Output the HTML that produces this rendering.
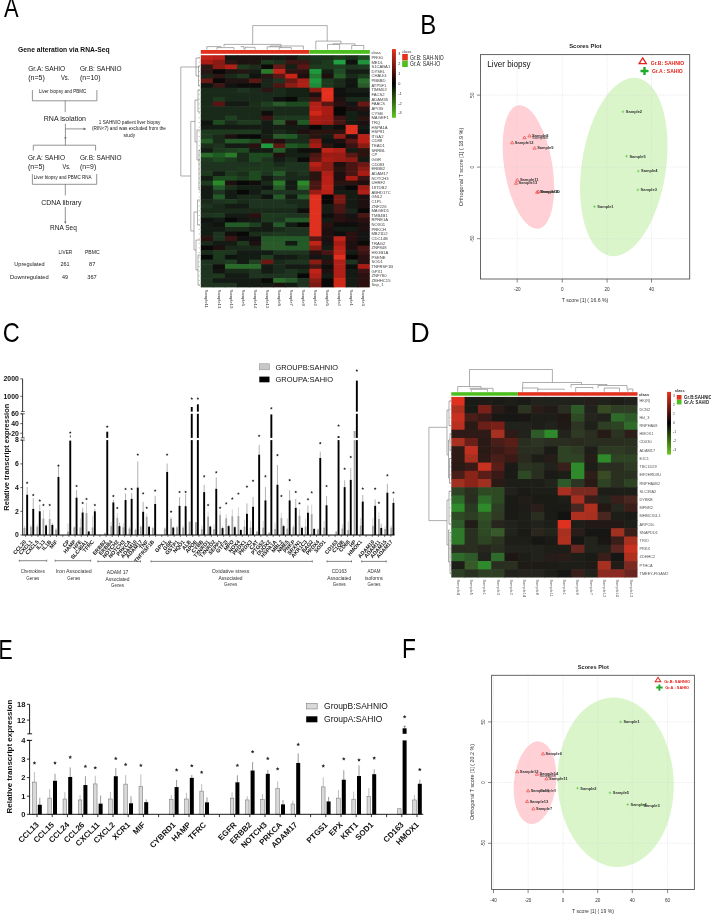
<!DOCTYPE html>
<html><head><meta charset="utf-8"><title>Figure</title>
<style>
html,body{margin:0;padding:0;background:#fff;}
body{width:711px;height:914px;overflow:hidden;}
svg{display:block;font-family:"Liberation Sans", sans-serif;will-change:transform;}
</style></head><body>
<svg width="711" height="914" viewBox="0 0 711 914">
<rect x="0" y="0" width="711" height="914" fill="#fff"/>
<text x="3.90" y="16.90" font-size="28" textLength="14.6" lengthAdjust="spacingAndGlyphs" fill="#000">A</text>
<text x="420.20" y="33.60" font-size="28" textLength="16.0" lengthAdjust="spacingAndGlyphs" fill="#000">B</text>
<text x="2.80" y="341.70" font-size="28" textLength="17.0" lengthAdjust="spacingAndGlyphs" fill="#000">C</text>
<text x="410.60" y="342.40" font-size="28" textLength="19.2" lengthAdjust="spacingAndGlyphs" fill="#000">D</text>
<text x="-1.60" y="658.70" font-size="28" textLength="14.2" lengthAdjust="spacingAndGlyphs" fill="#000">E</text>
<text x="402.00" y="658.10" font-size="28" textLength="13.9" lengthAdjust="spacingAndGlyphs" fill="#000">F</text>
<text x="18.10" y="51.50" font-size="7.3" font-weight="bold" textLength="91.5" lengthAdjust="spacingAndGlyphs" fill="#111">Gene alteration via RNA-Seq</text>
<text x="28.20" y="70.90" font-size="7.7" textLength="37" lengthAdjust="spacingAndGlyphs" fill="#161616">Gr.A: SAHIO</text>
<text x="28.20" y="79.80" font-size="7.7" textLength="16.7" lengthAdjust="spacingAndGlyphs" fill="#161616">(n=5)</text>
<text x="61.00" y="79.50" font-size="7.0" textLength="8.4" lengthAdjust="spacingAndGlyphs" fill="#161616">Vs.</text>
<text x="80.00" y="70.90" font-size="7.7" textLength="41.7" lengthAdjust="spacingAndGlyphs" fill="#161616">Gr.B: SAHNIO</text>
<text x="80.00" y="79.80" font-size="7.7" textLength="20.6" lengthAdjust="spacingAndGlyphs" fill="#161616">(n=10)</text>
<text x="39.00" y="92.60" font-size="5.0" textLength="47.3" lengthAdjust="spacingAndGlyphs" fill="#161616">Liver biopsy and PBMC</text>
<polyline points="32.40,90.00 32.40,100.80 96.90,100.80 96.90,90.00" fill="none" stroke="#666" stroke-width="0.7"/>
<line x1="65.20" y1="100.80" x2="65.20" y2="112.20" stroke="#666" stroke-width="0.7"/>
<text x="43.80" y="120.80" font-size="7.3" textLength="42.2" lengthAdjust="spacingAndGlyphs" fill="#161616">RNA isolation</text>
<line x1="65.40" y1="123.60" x2="65.40" y2="145.20" stroke="#666" stroke-width="0.7"/>
<line x1="65.40" y1="128.90" x2="85.00" y2="128.90" stroke="#666" stroke-width="0.7"/>
<path d="M83.6,127.6 L86.4,128.9 L83.6,130.2 Z" fill="#666"/>
<path d="M64.3,137.2 L65.4,139.8 L66.5,137.2 Z" fill="#666"/>
<text x="98.80" y="123.80" font-size="4.9" textLength="61.6" lengthAdjust="spacingAndGlyphs" fill="#161616">1 SAHNIO patient liver biopsy</text>
<text x="92.00" y="130.30" font-size="4.9" textLength="74" lengthAdjust="spacingAndGlyphs" fill="#161616">(RIN&lt;7) and was excluded from the</text>
<text x="123.60" y="137.00" font-size="4.9" textLength="11.5" lengthAdjust="spacingAndGlyphs" fill="#161616">study</text>
<polyline points="33.30,150.60 33.30,145.20 95.60,145.20 95.60,150.60" fill="none" stroke="#666" stroke-width="0.7"/>
<text x="28.00" y="160.30" font-size="7.7" textLength="37" lengthAdjust="spacingAndGlyphs" fill="#161616">Gr.A: SAHIO</text>
<text x="80.00" y="160.30" font-size="7.7" textLength="41.5" lengthAdjust="spacingAndGlyphs" fill="#161616">Gr.B: SAHNIO</text>
<text x="28.00" y="169.40" font-size="7.7" textLength="16.7" lengthAdjust="spacingAndGlyphs" fill="#161616">(n=5)</text>
<text x="62.50" y="169.00" font-size="7.0" textLength="8.0" lengthAdjust="spacingAndGlyphs" fill="#161616">Vs.</text>
<text x="80.00" y="169.40" font-size="7.7" textLength="16.2" lengthAdjust="spacingAndGlyphs" fill="#161616">(n=9)</text>
<polyline points="32.40,174.00 32.40,184.30 96.70,184.30 96.70,174.00" fill="none" stroke="#666" stroke-width="0.7"/>
<text x="33.80" y="179.30" font-size="5.0" textLength="57.7" lengthAdjust="spacingAndGlyphs" fill="#161616">Liver biopsy and PBMC RNA</text>
<line x1="65.30" y1="184.30" x2="65.30" y2="195.30" stroke="#666" stroke-width="0.7"/>
<text x="41.30" y="204.60" font-size="7.3" textLength="40.1" lengthAdjust="spacingAndGlyphs" fill="#161616">CDNA library</text>
<line x1="65.30" y1="207.00" x2="65.30" y2="223.00" stroke="#666" stroke-width="0.7"/>
<path d="M64.3,221.4 L65.3,224.0 L66.3,221.4 Z" fill="#666"/>
<text x="50.10" y="230.30" font-size="7.3" textLength="26.7" lengthAdjust="spacingAndGlyphs" fill="#161616">RNA Seq</text>
<text x="58.60" y="253.50" font-size="6.2" textLength="13.6" lengthAdjust="spacingAndGlyphs" fill="#161616">LIVER</text>
<text x="84.90" y="253.50" font-size="6.2" textLength="14.7" lengthAdjust="spacingAndGlyphs" fill="#161616">PBMC</text>
<text x="14.30" y="265.90" font-size="6.2" textLength="30.4" lengthAdjust="spacingAndGlyphs" fill="#161616">Upregulated</text>
<text x="60.40" y="265.90" font-size="6.2" textLength="9.1" lengthAdjust="spacingAndGlyphs" fill="#161616">261</text>
<text x="89.00" y="265.90" font-size="6.2" textLength="6.4" lengthAdjust="spacingAndGlyphs" fill="#161616">87</text>
<text x="10.10" y="278.50" font-size="6.2" textLength="38.5" lengthAdjust="spacingAndGlyphs" fill="#161616">Downregulated</text>
<text x="62.00" y="278.50" font-size="6.2" textLength="6.0" lengthAdjust="spacingAndGlyphs" fill="#161616">49</text>
<text x="87.30" y="278.50" font-size="6.2" textLength="9.4" lengthAdjust="spacingAndGlyphs" fill="#161616">367</text>
<rect x="200.80" y="55.20" width="12.67" height="5.24" fill="#c02418"/>
<rect x="212.87" y="55.20" width="12.67" height="5.24" fill="#b82018"/>
<rect x="224.94" y="55.20" width="12.67" height="5.24" fill="#141612"/>
<rect x="237.01" y="55.20" width="12.67" height="5.24" fill="#1c1210"/>
<rect x="249.08" y="55.20" width="12.67" height="5.24" fill="#1c1210"/>
<rect x="261.15" y="55.20" width="12.67" height="5.24" fill="#1c1412"/>
<rect x="273.22" y="55.20" width="12.67" height="5.24" fill="#141a14"/>
<rect x="285.29" y="55.20" width="12.67" height="5.24" fill="#1a1210"/>
<rect x="297.36" y="55.20" width="12.67" height="5.24" fill="#1a2a1a"/>
<rect x="309.43" y="55.20" width="12.67" height="5.24" fill="#1a3020"/>
<rect x="321.50" y="55.20" width="12.67" height="5.24" fill="#1a2e1a"/>
<rect x="333.57" y="55.20" width="12.67" height="5.24" fill="#1e3a1e"/>
<rect x="345.64" y="55.20" width="12.67" height="5.24" fill="#1a2e1a"/>
<rect x="357.71" y="55.20" width="12.07" height="5.24" fill="#1e4a24"/>
<rect x="200.80" y="59.84" width="12.67" height="5.24" fill="#a81c14"/>
<rect x="212.87" y="59.84" width="12.67" height="5.24" fill="#8a1a14"/>
<rect x="224.94" y="59.84" width="12.67" height="5.24" fill="#2a1614"/>
<rect x="237.01" y="59.84" width="12.67" height="5.24" fill="#1e1210"/>
<rect x="249.08" y="59.84" width="12.67" height="5.24" fill="#1e1410"/>
<rect x="261.15" y="59.84" width="12.67" height="5.24" fill="#1e3a1e"/>
<rect x="273.22" y="59.84" width="12.67" height="5.24" fill="#1e2e1e"/>
<rect x="285.29" y="59.84" width="12.67" height="5.24" fill="#3a1614"/>
<rect x="297.36" y="59.84" width="12.67" height="5.24" fill="#3a1614"/>
<rect x="309.43" y="59.84" width="12.67" height="5.24" fill="#1a2e1a"/>
<rect x="321.50" y="59.84" width="12.67" height="5.24" fill="#1e3a1e"/>
<rect x="333.57" y="59.84" width="12.67" height="5.24" fill="#20a040"/>
<rect x="345.64" y="59.84" width="12.67" height="5.24" fill="#101210"/>
<rect x="357.71" y="59.84" width="12.07" height="5.24" fill="#20903a"/>
<rect x="200.80" y="64.49" width="12.67" height="5.24" fill="#2e1814"/>
<rect x="212.87" y="64.49" width="12.67" height="5.24" fill="#8a1c14"/>
<rect x="224.94" y="64.49" width="12.67" height="5.24" fill="#b02018"/>
<rect x="237.01" y="64.49" width="12.67" height="5.24" fill="#1e3a1e"/>
<rect x="249.08" y="64.49" width="12.67" height="5.24" fill="#1e2a1a"/>
<rect x="261.15" y="64.49" width="12.67" height="5.24" fill="#0a0a08"/>
<rect x="273.22" y="64.49" width="12.67" height="5.24" fill="#6a1a14"/>
<rect x="285.29" y="64.49" width="12.67" height="5.24" fill="#142014"/>
<rect x="297.36" y="64.49" width="12.67" height="5.24" fill="#5a1614"/>
<rect x="309.43" y="64.49" width="12.67" height="5.24" fill="#1e3a1e"/>
<rect x="321.50" y="64.49" width="12.67" height="5.24" fill="#1e3a1e"/>
<rect x="333.57" y="64.49" width="12.67" height="5.24" fill="#1e4020"/>
<rect x="345.64" y="64.49" width="12.67" height="5.24" fill="#1e3420"/>
<rect x="357.71" y="64.49" width="12.07" height="5.24" fill="#1e3a1e"/>
<rect x="200.80" y="69.13" width="12.67" height="5.24" fill="#2a1614"/>
<rect x="212.87" y="69.13" width="12.67" height="5.24" fill="#0a0808"/>
<rect x="224.94" y="69.13" width="12.67" height="5.24" fill="#1e1412"/>
<rect x="237.01" y="69.13" width="12.67" height="5.24" fill="#241614"/>
<rect x="249.08" y="69.13" width="12.67" height="5.24" fill="#141c14"/>
<rect x="261.15" y="69.13" width="12.67" height="5.24" fill="#2a7a2a"/>
<rect x="273.22" y="69.13" width="12.67" height="5.24" fill="#c02418"/>
<rect x="285.29" y="69.13" width="12.67" height="5.24" fill="#2e1412"/>
<rect x="297.36" y="69.13" width="12.67" height="5.24" fill="#2a1412"/>
<rect x="309.43" y="69.13" width="12.67" height="5.24" fill="#1e9a3e"/>
<rect x="321.50" y="69.13" width="12.67" height="5.24" fill="#141e14"/>
<rect x="333.57" y="69.13" width="12.67" height="5.24" fill="#1e4a24"/>
<rect x="345.64" y="69.13" width="12.67" height="5.24" fill="#141c14"/>
<rect x="357.71" y="69.13" width="12.07" height="5.24" fill="#141c14"/>
<rect x="200.80" y="73.78" width="12.67" height="5.24" fill="#1a261a"/>
<rect x="212.87" y="73.78" width="12.67" height="5.24" fill="#2e1614"/>
<rect x="224.94" y="73.78" width="12.67" height="5.24" fill="#1a2a1a"/>
<rect x="237.01" y="73.78" width="12.67" height="5.24" fill="#1e3a1e"/>
<rect x="249.08" y="73.78" width="12.67" height="5.24" fill="#101410"/>
<rect x="261.15" y="73.78" width="12.67" height="5.24" fill="#281614"/>
<rect x="273.22" y="73.78" width="12.67" height="5.24" fill="#5a1814"/>
<rect x="285.29" y="73.78" width="12.67" height="5.24" fill="#c82418"/>
<rect x="297.36" y="73.78" width="12.67" height="5.24" fill="#1e1010"/>
<rect x="309.43" y="73.78" width="12.67" height="5.24" fill="#247a30"/>
<rect x="321.50" y="73.78" width="12.67" height="5.24" fill="#1e0e0e"/>
<rect x="333.57" y="73.78" width="12.67" height="5.24" fill="#245a28"/>
<rect x="345.64" y="73.78" width="12.67" height="5.24" fill="#1a2a1a"/>
<rect x="357.71" y="73.78" width="12.07" height="5.24" fill="#1e3a1e"/>
<rect x="200.80" y="78.42" width="12.67" height="5.24" fill="#6a1a14"/>
<rect x="212.87" y="78.42" width="12.67" height="5.24" fill="#0a0808"/>
<rect x="224.94" y="78.42" width="12.67" height="5.24" fill="#221412"/>
<rect x="237.01" y="78.42" width="12.67" height="5.24" fill="#221412"/>
<rect x="249.08" y="78.42" width="12.67" height="5.24" fill="#5a1814"/>
<rect x="261.15" y="78.42" width="12.67" height="5.24" fill="#1a241a"/>
<rect x="273.22" y="78.42" width="12.67" height="5.24" fill="#1e3420"/>
<rect x="285.29" y="78.42" width="12.67" height="5.24" fill="#6a1814"/>
<rect x="297.36" y="78.42" width="12.67" height="5.24" fill="#a82018"/>
<rect x="309.43" y="78.42" width="12.67" height="5.24" fill="#1e9a3e"/>
<rect x="321.50" y="78.42" width="12.67" height="5.24" fill="#1e3a1e"/>
<rect x="333.57" y="78.42" width="12.67" height="5.24" fill="#1a2a1a"/>
<rect x="345.64" y="78.42" width="12.67" height="5.24" fill="#121612"/>
<rect x="357.71" y="78.42" width="12.07" height="5.24" fill="#2a6a2a"/>
<rect x="200.80" y="83.06" width="12.67" height="5.24" fill="#101410"/>
<rect x="212.87" y="83.06" width="12.67" height="5.24" fill="#3a1614"/>
<rect x="224.94" y="83.06" width="12.67" height="5.24" fill="#121210"/>
<rect x="237.01" y="83.06" width="12.67" height="5.24" fill="#0e0c0a"/>
<rect x="249.08" y="83.06" width="12.67" height="5.24" fill="#0e0c0a"/>
<rect x="261.15" y="83.06" width="12.67" height="5.24" fill="#1a261a"/>
<rect x="273.22" y="83.06" width="12.67" height="5.24" fill="#4a1614"/>
<rect x="285.29" y="83.06" width="12.67" height="5.24" fill="#8a1c14"/>
<rect x="297.36" y="83.06" width="12.67" height="5.24" fill="#b02018"/>
<rect x="309.43" y="83.06" width="12.67" height="5.24" fill="#1e8a3a"/>
<rect x="321.50" y="83.06" width="12.67" height="5.24" fill="#1e3a1e"/>
<rect x="333.57" y="83.06" width="12.67" height="5.24" fill="#1a2a1a"/>
<rect x="345.64" y="83.06" width="12.67" height="5.24" fill="#101410"/>
<rect x="357.71" y="83.06" width="12.07" height="5.24" fill="#2a5a2a"/>
<rect x="200.80" y="87.71" width="12.67" height="5.24" fill="#1a2a1a"/>
<rect x="212.87" y="87.71" width="12.67" height="5.24" fill="#1a2a1a"/>
<rect x="224.94" y="87.71" width="12.67" height="5.24" fill="#1a2a1a"/>
<rect x="237.01" y="87.71" width="12.67" height="5.24" fill="#1e3420"/>
<rect x="249.08" y="87.71" width="12.67" height="5.24" fill="#1a2a1a"/>
<rect x="261.15" y="87.71" width="12.67" height="5.24" fill="#2a1614"/>
<rect x="273.22" y="87.71" width="12.67" height="5.24" fill="#1a2a1a"/>
<rect x="285.29" y="87.71" width="12.67" height="5.24" fill="#142014"/>
<rect x="297.36" y="87.71" width="12.67" height="5.24" fill="#142014"/>
<rect x="309.43" y="87.71" width="12.67" height="5.24" fill="#8a1c14"/>
<rect x="321.50" y="87.71" width="12.67" height="5.24" fill="#e03020"/>
<rect x="333.57" y="87.71" width="12.67" height="5.24" fill="#101010"/>
<rect x="345.64" y="87.71" width="12.67" height="5.24" fill="#141c14"/>
<rect x="357.71" y="87.71" width="12.07" height="5.24" fill="#141c14"/>
<rect x="200.80" y="92.35" width="12.67" height="5.24" fill="#1a2a1a"/>
<rect x="212.87" y="92.35" width="12.67" height="5.24" fill="#1a2a1a"/>
<rect x="224.94" y="92.35" width="12.67" height="5.24" fill="#1a2a1a"/>
<rect x="237.01" y="92.35" width="12.67" height="5.24" fill="#1a2a1a"/>
<rect x="249.08" y="92.35" width="12.67" height="5.24" fill="#1a2a1a"/>
<rect x="261.15" y="92.35" width="12.67" height="5.24" fill="#1a2a1a"/>
<rect x="273.22" y="92.35" width="12.67" height="5.24" fill="#1a2a1a"/>
<rect x="285.29" y="92.35" width="12.67" height="5.24" fill="#142014"/>
<rect x="297.36" y="92.35" width="12.67" height="5.24" fill="#142014"/>
<rect x="309.43" y="92.35" width="12.67" height="5.24" fill="#1e1010"/>
<rect x="321.50" y="92.35" width="12.67" height="5.24" fill="#e83020"/>
<rect x="333.57" y="92.35" width="12.67" height="5.24" fill="#101010"/>
<rect x="345.64" y="92.35" width="12.67" height="5.24" fill="#101410"/>
<rect x="357.71" y="92.35" width="12.07" height="5.24" fill="#101410"/>
<rect x="200.80" y="97.00" width="12.67" height="5.24" fill="#1a2a1a"/>
<rect x="212.87" y="97.00" width="12.67" height="5.24" fill="#1e3a1e"/>
<rect x="224.94" y="97.00" width="12.67" height="5.24" fill="#1a2a1a"/>
<rect x="237.01" y="97.00" width="12.67" height="5.24" fill="#1a2a1a"/>
<rect x="249.08" y="97.00" width="12.67" height="5.24" fill="#1a2a1a"/>
<rect x="261.15" y="97.00" width="12.67" height="5.24" fill="#1a2a1a"/>
<rect x="273.22" y="97.00" width="12.67" height="5.24" fill="#101010"/>
<rect x="285.29" y="97.00" width="12.67" height="5.24" fill="#080808"/>
<rect x="297.36" y="97.00" width="12.67" height="5.24" fill="#1a2a1a"/>
<rect x="309.43" y="97.00" width="12.67" height="5.24" fill="#4a1614"/>
<rect x="321.50" y="97.00" width="12.67" height="5.24" fill="#e03020"/>
<rect x="333.57" y="97.00" width="12.67" height="5.24" fill="#1e1010"/>
<rect x="345.64" y="97.00" width="12.67" height="5.24" fill="#1a2a1a"/>
<rect x="357.71" y="97.00" width="12.07" height="5.24" fill="#1a2a1a"/>
<rect x="200.80" y="101.64" width="12.67" height="5.24" fill="#1a2a1a"/>
<rect x="212.87" y="101.64" width="12.67" height="5.24" fill="#5a1414"/>
<rect x="224.94" y="101.64" width="12.67" height="5.24" fill="#141a14"/>
<rect x="237.01" y="101.64" width="12.67" height="5.24" fill="#141a14"/>
<rect x="249.08" y="101.64" width="12.67" height="5.24" fill="#1a2e1a"/>
<rect x="261.15" y="101.64" width="12.67" height="5.24" fill="#1e4020"/>
<rect x="273.22" y="101.64" width="12.67" height="5.24" fill="#2a5a2a"/>
<rect x="285.29" y="101.64" width="12.67" height="5.24" fill="#1e4a20"/>
<rect x="297.36" y="101.64" width="12.67" height="5.24" fill="#1e4a20"/>
<rect x="309.43" y="101.64" width="12.67" height="5.24" fill="#b02018"/>
<rect x="321.50" y="101.64" width="12.67" height="5.24" fill="#5a1814"/>
<rect x="333.57" y="101.64" width="12.67" height="5.24" fill="#2a1010"/>
<rect x="345.64" y="101.64" width="12.67" height="5.24" fill="#141414"/>
<rect x="357.71" y="101.64" width="12.07" height="5.24" fill="#6a1814"/>
<rect x="200.80" y="106.28" width="12.67" height="5.24" fill="#1a2a1a"/>
<rect x="212.87" y="106.28" width="12.67" height="5.24" fill="#1a2a1a"/>
<rect x="224.94" y="106.28" width="12.67" height="5.24" fill="#1a2a1a"/>
<rect x="237.01" y="106.28" width="12.67" height="5.24" fill="#1a2a1a"/>
<rect x="249.08" y="106.28" width="12.67" height="5.24" fill="#1a2a1a"/>
<rect x="261.15" y="106.28" width="12.67" height="5.24" fill="#1a2e1a"/>
<rect x="273.22" y="106.28" width="12.67" height="5.24" fill="#1a2a1a"/>
<rect x="285.29" y="106.28" width="12.67" height="5.24" fill="#1a2a1a"/>
<rect x="297.36" y="106.28" width="12.67" height="5.24" fill="#1a2a1a"/>
<rect x="309.43" y="106.28" width="12.67" height="5.24" fill="#b82018"/>
<rect x="321.50" y="106.28" width="12.67" height="5.24" fill="#a81c14"/>
<rect x="333.57" y="106.28" width="12.67" height="5.24" fill="#080808"/>
<rect x="345.64" y="106.28" width="12.67" height="5.24" fill="#1e1010"/>
<rect x="357.71" y="106.28" width="12.07" height="5.24" fill="#2a1210"/>
<rect x="200.80" y="110.93" width="12.67" height="5.24" fill="#1a2a1a"/>
<rect x="212.87" y="110.93" width="12.67" height="5.24" fill="#1a2a1a"/>
<rect x="224.94" y="110.93" width="12.67" height="5.24" fill="#1a2a1a"/>
<rect x="237.01" y="110.93" width="12.67" height="5.24" fill="#1a2a1a"/>
<rect x="249.08" y="110.93" width="12.67" height="5.24" fill="#1a2a1a"/>
<rect x="261.15" y="110.93" width="12.67" height="5.24" fill="#0e0e0c"/>
<rect x="273.22" y="110.93" width="12.67" height="5.24" fill="#1a2a1a"/>
<rect x="285.29" y="110.93" width="12.67" height="5.24" fill="#1a2a1a"/>
<rect x="297.36" y="110.93" width="12.67" height="5.24" fill="#1a2a1a"/>
<rect x="309.43" y="110.93" width="12.67" height="5.24" fill="#d02818"/>
<rect x="321.50" y="110.93" width="12.67" height="5.24" fill="#a81c14"/>
<rect x="333.57" y="110.93" width="12.67" height="5.24" fill="#080808"/>
<rect x="345.64" y="110.93" width="12.67" height="5.24" fill="#142014"/>
<rect x="357.71" y="110.93" width="12.07" height="5.24" fill="#141414"/>
<rect x="200.80" y="115.57" width="12.67" height="5.24" fill="#1a2a1a"/>
<rect x="212.87" y="115.57" width="12.67" height="5.24" fill="#1a2a1a"/>
<rect x="224.94" y="115.57" width="12.67" height="5.24" fill="#1e4020"/>
<rect x="237.01" y="115.57" width="12.67" height="5.24" fill="#1a2a1a"/>
<rect x="249.08" y="115.57" width="12.67" height="5.24" fill="#1a2a1a"/>
<rect x="261.15" y="115.57" width="12.67" height="5.24" fill="#3a1414"/>
<rect x="273.22" y="115.57" width="12.67" height="5.24" fill="#1e3a1e"/>
<rect x="285.29" y="115.57" width="12.67" height="5.24" fill="#1e3a1e"/>
<rect x="297.36" y="115.57" width="12.67" height="5.24" fill="#1e3a1e"/>
<rect x="309.43" y="115.57" width="12.67" height="5.24" fill="#a81c14"/>
<rect x="321.50" y="115.57" width="12.67" height="5.24" fill="#a01c14"/>
<rect x="333.57" y="115.57" width="12.67" height="5.24" fill="#3a1414"/>
<rect x="345.64" y="115.57" width="12.67" height="5.24" fill="#142014"/>
<rect x="357.71" y="115.57" width="12.07" height="5.24" fill="#2a1410"/>
<rect x="200.80" y="120.22" width="12.67" height="5.24" fill="#101410"/>
<rect x="212.87" y="120.22" width="12.67" height="5.24" fill="#1e4a20"/>
<rect x="224.94" y="120.22" width="12.67" height="5.24" fill="#1a2a1a"/>
<rect x="237.01" y="120.22" width="12.67" height="5.24" fill="#1e3a1e"/>
<rect x="249.08" y="120.22" width="12.67" height="5.24" fill="#1e3a1e"/>
<rect x="261.15" y="120.22" width="12.67" height="5.24" fill="#141a14"/>
<rect x="273.22" y="120.22" width="12.67" height="5.24" fill="#2a5a2a"/>
<rect x="285.29" y="120.22" width="12.67" height="5.24" fill="#1e1010"/>
<rect x="297.36" y="120.22" width="12.67" height="5.24" fill="#1e5a24"/>
<rect x="309.43" y="120.22" width="12.67" height="5.24" fill="#a81c14"/>
<rect x="321.50" y="120.22" width="12.67" height="5.24" fill="#9a1c14"/>
<rect x="333.57" y="120.22" width="12.67" height="5.24" fill="#4a1614"/>
<rect x="345.64" y="120.22" width="12.67" height="5.24" fill="#141a14"/>
<rect x="357.71" y="120.22" width="12.07" height="5.24" fill="#1e1010"/>
<rect x="200.80" y="124.86" width="12.67" height="5.24" fill="#141a14"/>
<rect x="212.87" y="124.86" width="12.67" height="5.24" fill="#141a14"/>
<rect x="224.94" y="124.86" width="12.67" height="5.24" fill="#141a14"/>
<rect x="237.01" y="124.86" width="12.67" height="5.24" fill="#141a14"/>
<rect x="249.08" y="124.86" width="12.67" height="5.24" fill="#141a14"/>
<rect x="261.15" y="124.86" width="12.67" height="5.24" fill="#141a14"/>
<rect x="273.22" y="124.86" width="12.67" height="5.24" fill="#141e14"/>
<rect x="285.29" y="124.86" width="12.67" height="5.24" fill="#141a14"/>
<rect x="297.36" y="124.86" width="12.67" height="5.24" fill="#141a14"/>
<rect x="309.43" y="124.86" width="12.67" height="5.24" fill="#080808"/>
<rect x="321.50" y="124.86" width="12.67" height="5.24" fill="#141a14"/>
<rect x="333.57" y="124.86" width="12.67" height="5.24" fill="#0e0e0c"/>
<rect x="345.64" y="124.86" width="12.67" height="5.24" fill="#e03020"/>
<rect x="357.71" y="124.86" width="12.07" height="5.24" fill="#141a14"/>
<rect x="200.80" y="129.50" width="12.67" height="5.24" fill="#1e3a1e"/>
<rect x="212.87" y="129.50" width="12.67" height="5.24" fill="#1e3a1e"/>
<rect x="224.94" y="129.50" width="12.67" height="5.24" fill="#1e3a1e"/>
<rect x="237.01" y="129.50" width="12.67" height="5.24" fill="#1e3a1e"/>
<rect x="249.08" y="129.50" width="12.67" height="5.24" fill="#1e3a1e"/>
<rect x="261.15" y="129.50" width="12.67" height="5.24" fill="#141a14"/>
<rect x="273.22" y="129.50" width="12.67" height="5.24" fill="#1a2a1a"/>
<rect x="285.29" y="129.50" width="12.67" height="5.24" fill="#142014"/>
<rect x="297.36" y="129.50" width="12.67" height="5.24" fill="#1e1010"/>
<rect x="309.43" y="129.50" width="12.67" height="5.24" fill="#2a1410"/>
<rect x="321.50" y="129.50" width="12.67" height="5.24" fill="#2a1410"/>
<rect x="333.57" y="129.50" width="12.67" height="5.24" fill="#2a1410"/>
<rect x="345.64" y="129.50" width="12.67" height="5.24" fill="#e03020"/>
<rect x="357.71" y="129.50" width="12.07" height="5.24" fill="#101010"/>
<rect x="200.80" y="134.15" width="12.67" height="5.24" fill="#1e3a1e"/>
<rect x="212.87" y="134.15" width="12.67" height="5.24" fill="#1a2a1a"/>
<rect x="224.94" y="134.15" width="12.67" height="5.24" fill="#1e1010"/>
<rect x="237.01" y="134.15" width="12.67" height="5.24" fill="#0a0a0a"/>
<rect x="249.08" y="134.15" width="12.67" height="5.24" fill="#080808"/>
<rect x="261.15" y="134.15" width="12.67" height="5.24" fill="#142014"/>
<rect x="273.22" y="134.15" width="12.67" height="5.24" fill="#2a5a2a"/>
<rect x="285.29" y="134.15" width="12.67" height="5.24" fill="#1e5a24"/>
<rect x="297.36" y="134.15" width="12.67" height="5.24" fill="#1a2a1a"/>
<rect x="309.43" y="134.15" width="12.67" height="5.24" fill="#2a1410"/>
<rect x="321.50" y="134.15" width="12.67" height="5.24" fill="#141a14"/>
<rect x="333.57" y="134.15" width="12.67" height="5.24" fill="#8a1c14"/>
<rect x="345.64" y="134.15" width="12.67" height="5.24" fill="#1e1010"/>
<rect x="357.71" y="134.15" width="12.07" height="5.24" fill="#b82018"/>
<rect x="200.80" y="138.79" width="12.67" height="5.24" fill="#245a28"/>
<rect x="212.87" y="138.79" width="12.67" height="5.24" fill="#1a2a1a"/>
<rect x="224.94" y="138.79" width="12.67" height="5.24" fill="#245a28"/>
<rect x="237.01" y="138.79" width="12.67" height="5.24" fill="#245a28"/>
<rect x="249.08" y="138.79" width="12.67" height="5.24" fill="#1e4a20"/>
<rect x="261.15" y="138.79" width="12.67" height="5.24" fill="#2a1010"/>
<rect x="273.22" y="138.79" width="12.67" height="5.24" fill="#1e1010"/>
<rect x="285.29" y="138.79" width="12.67" height="5.24" fill="#1a2a1a"/>
<rect x="297.36" y="138.79" width="12.67" height="5.24" fill="#1a2a1a"/>
<rect x="309.43" y="138.79" width="12.67" height="5.24" fill="#8a1c14"/>
<rect x="321.50" y="138.79" width="12.67" height="5.24" fill="#101410"/>
<rect x="333.57" y="138.79" width="12.67" height="5.24" fill="#1e1010"/>
<rect x="345.64" y="138.79" width="12.67" height="5.24" fill="#5a1814"/>
<rect x="357.71" y="138.79" width="12.07" height="5.24" fill="#b82018"/>
<rect x="200.80" y="143.44" width="12.67" height="5.24" fill="#1a2e1a"/>
<rect x="212.87" y="143.44" width="12.67" height="5.24" fill="#1e3420"/>
<rect x="224.94" y="143.44" width="12.67" height="5.24" fill="#141a14"/>
<rect x="237.01" y="143.44" width="12.67" height="5.24" fill="#141a14"/>
<rect x="249.08" y="143.44" width="12.67" height="5.24" fill="#2a1010"/>
<rect x="261.15" y="143.44" width="12.67" height="5.24" fill="#1e9a3e"/>
<rect x="273.22" y="143.44" width="12.67" height="5.24" fill="#5a1814"/>
<rect x="285.29" y="143.44" width="12.67" height="5.24" fill="#1e5a24"/>
<rect x="297.36" y="143.44" width="12.67" height="5.24" fill="#1e4a20"/>
<rect x="309.43" y="143.44" width="12.67" height="5.24" fill="#a81c14"/>
<rect x="321.50" y="143.44" width="12.67" height="5.24" fill="#2a1410"/>
<rect x="333.57" y="143.44" width="12.67" height="5.24" fill="#0e0e0c"/>
<rect x="345.64" y="143.44" width="12.67" height="5.24" fill="#3a1414"/>
<rect x="357.71" y="143.44" width="12.07" height="5.24" fill="#8a1c14"/>
<rect x="200.80" y="148.08" width="12.67" height="5.24" fill="#141a14"/>
<rect x="212.87" y="148.08" width="12.67" height="5.24" fill="#1e3a1e"/>
<rect x="224.94" y="148.08" width="12.67" height="5.24" fill="#1e4020"/>
<rect x="237.01" y="148.08" width="12.67" height="5.24" fill="#1e4a20"/>
<rect x="249.08" y="148.08" width="12.67" height="5.24" fill="#141a14"/>
<rect x="261.15" y="148.08" width="12.67" height="5.24" fill="#141a14"/>
<rect x="273.22" y="148.08" width="12.67" height="5.24" fill="#245a28"/>
<rect x="285.29" y="148.08" width="12.67" height="5.24" fill="#142014"/>
<rect x="297.36" y="148.08" width="12.67" height="5.24" fill="#0e0e0c"/>
<rect x="309.43" y="148.08" width="12.67" height="5.24" fill="#140e0c"/>
<rect x="321.50" y="148.08" width="12.67" height="5.24" fill="#c02418"/>
<rect x="333.57" y="148.08" width="12.67" height="5.24" fill="#b02018"/>
<rect x="345.64" y="148.08" width="12.67" height="5.24" fill="#141c14"/>
<rect x="357.71" y="148.08" width="12.07" height="5.24" fill="#2a1410"/>
<rect x="200.80" y="152.72" width="12.67" height="5.24" fill="#2a6a2a"/>
<rect x="212.87" y="152.72" width="12.67" height="5.24" fill="#1e5a24"/>
<rect x="224.94" y="152.72" width="12.67" height="5.24" fill="#2a7a2a"/>
<rect x="237.01" y="152.72" width="12.67" height="5.24" fill="#1a2a1a"/>
<rect x="249.08" y="152.72" width="12.67" height="5.24" fill="#1e4a20"/>
<rect x="261.15" y="152.72" width="12.67" height="5.24" fill="#1e4a20"/>
<rect x="273.22" y="152.72" width="12.67" height="5.24" fill="#1e1010"/>
<rect x="285.29" y="152.72" width="12.67" height="5.24" fill="#142014"/>
<rect x="297.36" y="152.72" width="12.67" height="5.24" fill="#142014"/>
<rect x="309.43" y="152.72" width="12.67" height="5.24" fill="#4a1614"/>
<rect x="321.50" y="152.72" width="12.67" height="5.24" fill="#9a1c14"/>
<rect x="333.57" y="152.72" width="12.67" height="5.24" fill="#9a1c14"/>
<rect x="345.64" y="152.72" width="12.67" height="5.24" fill="#5a1814"/>
<rect x="357.71" y="152.72" width="12.07" height="5.24" fill="#2a1410"/>
<rect x="200.80" y="157.37" width="12.67" height="5.24" fill="#1e3a1e"/>
<rect x="212.87" y="157.37" width="12.67" height="5.24" fill="#1e4a20"/>
<rect x="224.94" y="157.37" width="12.67" height="5.24" fill="#1e3a1e"/>
<rect x="237.01" y="157.37" width="12.67" height="5.24" fill="#1a2a1a"/>
<rect x="249.08" y="157.37" width="12.67" height="5.24" fill="#1e4a20"/>
<rect x="261.15" y="157.37" width="12.67" height="5.24" fill="#1e3420"/>
<rect x="273.22" y="157.37" width="12.67" height="5.24" fill="#141a14"/>
<rect x="285.29" y="157.37" width="12.67" height="5.24" fill="#1a2a1a"/>
<rect x="297.36" y="157.37" width="12.67" height="5.24" fill="#0a0a0a"/>
<rect x="309.43" y="157.37" width="12.67" height="5.24" fill="#5a1814"/>
<rect x="321.50" y="157.37" width="12.67" height="5.24" fill="#a81c14"/>
<rect x="333.57" y="157.37" width="12.67" height="5.24" fill="#9a1c14"/>
<rect x="345.64" y="157.37" width="12.67" height="5.24" fill="#8a1c14"/>
<rect x="357.71" y="157.37" width="12.07" height="5.24" fill="#141a14"/>
<rect x="200.80" y="162.01" width="12.67" height="5.24" fill="#1e3420"/>
<rect x="212.87" y="162.01" width="12.67" height="5.24" fill="#1e3420"/>
<rect x="224.94" y="162.01" width="12.67" height="5.24" fill="#1e3420"/>
<rect x="237.01" y="162.01" width="12.67" height="5.24" fill="#1e3420"/>
<rect x="249.08" y="162.01" width="12.67" height="5.24" fill="#1e3420"/>
<rect x="261.15" y="162.01" width="12.67" height="5.24" fill="#1e3a1e"/>
<rect x="273.22" y="162.01" width="12.67" height="5.24" fill="#1a2a1a"/>
<rect x="285.29" y="162.01" width="12.67" height="5.24" fill="#1e3420"/>
<rect x="297.36" y="162.01" width="12.67" height="5.24" fill="#1e3420"/>
<rect x="309.43" y="162.01" width="12.67" height="5.24" fill="#b82018"/>
<rect x="321.50" y="162.01" width="12.67" height="5.24" fill="#8a1c14"/>
<rect x="333.57" y="162.01" width="12.67" height="5.24" fill="#1e1010"/>
<rect x="345.64" y="162.01" width="12.67" height="5.24" fill="#4a1614"/>
<rect x="357.71" y="162.01" width="12.07" height="5.24" fill="#6a1814"/>
<rect x="200.80" y="166.66" width="12.67" height="5.24" fill="#1e3420"/>
<rect x="212.87" y="166.66" width="12.67" height="5.24" fill="#1e3420"/>
<rect x="224.94" y="166.66" width="12.67" height="5.24" fill="#1e3420"/>
<rect x="237.01" y="166.66" width="12.67" height="5.24" fill="#1e3a1e"/>
<rect x="249.08" y="166.66" width="12.67" height="5.24" fill="#1e3a1e"/>
<rect x="261.15" y="166.66" width="12.67" height="5.24" fill="#1e3a1e"/>
<rect x="273.22" y="166.66" width="12.67" height="5.24" fill="#1e3a1e"/>
<rect x="285.29" y="166.66" width="12.67" height="5.24" fill="#1e3420"/>
<rect x="297.36" y="166.66" width="12.67" height="5.24" fill="#1e3420"/>
<rect x="309.43" y="166.66" width="12.67" height="5.24" fill="#9a1c14"/>
<rect x="321.50" y="166.66" width="12.67" height="5.24" fill="#8a1c14"/>
<rect x="333.57" y="166.66" width="12.67" height="5.24" fill="#2a1410"/>
<rect x="345.64" y="166.66" width="12.67" height="5.24" fill="#4a1614"/>
<rect x="357.71" y="166.66" width="12.07" height="5.24" fill="#8a1c14"/>
<rect x="200.80" y="171.30" width="12.67" height="5.24" fill="#1e3a1e"/>
<rect x="212.87" y="171.30" width="12.67" height="5.24" fill="#141a14"/>
<rect x="224.94" y="171.30" width="12.67" height="5.24" fill="#1e3a1e"/>
<rect x="237.01" y="171.30" width="12.67" height="5.24" fill="#1a2e1a"/>
<rect x="249.08" y="171.30" width="12.67" height="5.24" fill="#1e4a20"/>
<rect x="261.15" y="171.30" width="12.67" height="5.24" fill="#1e3420"/>
<rect x="273.22" y="171.30" width="12.67" height="5.24" fill="#245a28"/>
<rect x="285.29" y="171.30" width="12.67" height="5.24" fill="#1a2a1a"/>
<rect x="297.36" y="171.30" width="12.67" height="5.24" fill="#1e3420"/>
<rect x="309.43" y="171.30" width="12.67" height="5.24" fill="#2a1410"/>
<rect x="321.50" y="171.30" width="12.67" height="5.24" fill="#b02018"/>
<rect x="333.57" y="171.30" width="12.67" height="5.24" fill="#1e1010"/>
<rect x="345.64" y="171.30" width="12.67" height="5.24" fill="#4a1614"/>
<rect x="357.71" y="171.30" width="12.07" height="5.24" fill="#a81c14"/>
<rect x="200.80" y="175.94" width="12.67" height="5.24" fill="#141a14"/>
<rect x="212.87" y="175.94" width="12.67" height="5.24" fill="#1e4a20"/>
<rect x="224.94" y="175.94" width="12.67" height="5.24" fill="#1e4a20"/>
<rect x="237.01" y="175.94" width="12.67" height="5.24" fill="#1e3a1e"/>
<rect x="249.08" y="175.94" width="12.67" height="5.24" fill="#1e4a20"/>
<rect x="261.15" y="175.94" width="12.67" height="5.24" fill="#141a14"/>
<rect x="273.22" y="175.94" width="12.67" height="5.24" fill="#1e3420"/>
<rect x="285.29" y="175.94" width="12.67" height="5.24" fill="#1a2a1a"/>
<rect x="297.36" y="175.94" width="12.67" height="5.24" fill="#1a2a1a"/>
<rect x="309.43" y="175.94" width="12.67" height="5.24" fill="#2a1410"/>
<rect x="321.50" y="175.94" width="12.67" height="5.24" fill="#b82018"/>
<rect x="333.57" y="175.94" width="12.67" height="5.24" fill="#1e1010"/>
<rect x="345.64" y="175.94" width="12.67" height="5.24" fill="#a81c14"/>
<rect x="357.71" y="175.94" width="12.07" height="5.24" fill="#3a1414"/>
<rect x="200.80" y="180.59" width="12.67" height="5.24" fill="#1e3a1e"/>
<rect x="212.87" y="180.59" width="12.67" height="5.24" fill="#2a8a2a"/>
<rect x="224.94" y="180.59" width="12.67" height="5.24" fill="#1e1010"/>
<rect x="237.01" y="180.59" width="12.67" height="5.24" fill="#080808"/>
<rect x="249.08" y="180.59" width="12.67" height="5.24" fill="#140c0c"/>
<rect x="261.15" y="180.59" width="12.67" height="5.24" fill="#1a2a1a"/>
<rect x="273.22" y="180.59" width="12.67" height="5.24" fill="#2a7a2a"/>
<rect x="285.29" y="180.59" width="12.67" height="5.24" fill="#141a14"/>
<rect x="297.36" y="180.59" width="12.67" height="5.24" fill="#2a8a2a"/>
<rect x="309.43" y="180.59" width="12.67" height="5.24" fill="#4a1614"/>
<rect x="321.50" y="180.59" width="12.67" height="5.24" fill="#b82018"/>
<rect x="333.57" y="180.59" width="12.67" height="5.24" fill="#2a1410"/>
<rect x="345.64" y="180.59" width="12.67" height="5.24" fill="#2a1410"/>
<rect x="357.71" y="180.59" width="12.07" height="5.24" fill="#1e1010"/>
<rect x="200.80" y="185.23" width="12.67" height="5.24" fill="#141a14"/>
<rect x="212.87" y="185.23" width="12.67" height="5.24" fill="#245a28"/>
<rect x="224.94" y="185.23" width="12.67" height="5.24" fill="#1a2e1a"/>
<rect x="237.01" y="185.23" width="12.67" height="5.24" fill="#142014"/>
<rect x="249.08" y="185.23" width="12.67" height="5.24" fill="#142014"/>
<rect x="261.15" y="185.23" width="12.67" height="5.24" fill="#101410"/>
<rect x="273.22" y="185.23" width="12.67" height="5.24" fill="#245a28"/>
<rect x="285.29" y="185.23" width="12.67" height="5.24" fill="#141a14"/>
<rect x="297.36" y="185.23" width="12.67" height="5.24" fill="#2a6a2a"/>
<rect x="309.43" y="185.23" width="12.67" height="5.24" fill="#4a1614"/>
<rect x="321.50" y="185.23" width="12.67" height="5.24" fill="#c02418"/>
<rect x="333.57" y="185.23" width="12.67" height="5.24" fill="#141414"/>
<rect x="345.64" y="185.23" width="12.67" height="5.24" fill="#080808"/>
<rect x="357.71" y="185.23" width="12.07" height="5.24" fill="#9a1c14"/>
<rect x="200.80" y="189.88" width="12.67" height="5.24" fill="#141a14"/>
<rect x="212.87" y="189.88" width="12.67" height="5.24" fill="#1e3420"/>
<rect x="224.94" y="189.88" width="12.67" height="5.24" fill="#141a14"/>
<rect x="237.01" y="189.88" width="12.67" height="5.24" fill="#080808"/>
<rect x="249.08" y="189.88" width="12.67" height="5.24" fill="#141a14"/>
<rect x="261.15" y="189.88" width="12.67" height="5.24" fill="#1e3420"/>
<rect x="273.22" y="189.88" width="12.67" height="5.24" fill="#1e3420"/>
<rect x="285.29" y="189.88" width="12.67" height="5.24" fill="#1e3420"/>
<rect x="297.36" y="189.88" width="12.67" height="5.24" fill="#1e3420"/>
<rect x="309.43" y="189.88" width="12.67" height="5.24" fill="#9a1c14"/>
<rect x="321.50" y="189.88" width="12.67" height="5.24" fill="#b82018"/>
<rect x="333.57" y="189.88" width="12.67" height="5.24" fill="#141c14"/>
<rect x="345.64" y="189.88" width="12.67" height="5.24" fill="#141c14"/>
<rect x="357.71" y="189.88" width="12.07" height="5.24" fill="#b02018"/>
<rect x="200.80" y="194.52" width="12.67" height="5.24" fill="#141a14"/>
<rect x="212.87" y="194.52" width="12.67" height="5.24" fill="#245a28"/>
<rect x="224.94" y="194.52" width="12.67" height="5.24" fill="#141a14"/>
<rect x="237.01" y="194.52" width="12.67" height="5.24" fill="#1a2a1a"/>
<rect x="249.08" y="194.52" width="12.67" height="5.24" fill="#1a2a1a"/>
<rect x="261.15" y="194.52" width="12.67" height="5.24" fill="#101410"/>
<rect x="273.22" y="194.52" width="12.67" height="5.24" fill="#245a28"/>
<rect x="285.29" y="194.52" width="12.67" height="5.24" fill="#141a14"/>
<rect x="297.36" y="194.52" width="12.67" height="5.24" fill="#245a28"/>
<rect x="309.43" y="194.52" width="12.67" height="5.24" fill="#e03020"/>
<rect x="321.50" y="194.52" width="12.67" height="5.24" fill="#080808"/>
<rect x="333.57" y="194.52" width="12.67" height="5.24" fill="#7a1814"/>
<rect x="345.64" y="194.52" width="12.67" height="5.24" fill="#141c14"/>
<rect x="357.71" y="194.52" width="12.07" height="5.24" fill="#1e1010"/>
<rect x="200.80" y="199.16" width="12.67" height="5.24" fill="#1a2a1a"/>
<rect x="212.87" y="199.16" width="12.67" height="5.24" fill="#1e3420"/>
<rect x="224.94" y="199.16" width="12.67" height="5.24" fill="#1e3a1e"/>
<rect x="237.01" y="199.16" width="12.67" height="5.24" fill="#1a2a1a"/>
<rect x="249.08" y="199.16" width="12.67" height="5.24" fill="#1e3420"/>
<rect x="261.15" y="199.16" width="12.67" height="5.24" fill="#1e3420"/>
<rect x="273.22" y="199.16" width="12.67" height="5.24" fill="#1e3420"/>
<rect x="285.29" y="199.16" width="12.67" height="5.24" fill="#1a2a1a"/>
<rect x="297.36" y="199.16" width="12.67" height="5.24" fill="#1a2a1a"/>
<rect x="309.43" y="199.16" width="12.67" height="5.24" fill="#e03020"/>
<rect x="321.50" y="199.16" width="12.67" height="5.24" fill="#080808"/>
<rect x="333.57" y="199.16" width="12.67" height="5.24" fill="#7a1814"/>
<rect x="345.64" y="199.16" width="12.67" height="5.24" fill="#141a14"/>
<rect x="357.71" y="199.16" width="12.07" height="5.24" fill="#1e1010"/>
<rect x="200.80" y="203.81" width="12.67" height="5.24" fill="#1e3420"/>
<rect x="212.87" y="203.81" width="12.67" height="5.24" fill="#1a2a1a"/>
<rect x="224.94" y="203.81" width="12.67" height="5.24" fill="#141a14"/>
<rect x="237.01" y="203.81" width="12.67" height="5.24" fill="#141a14"/>
<rect x="249.08" y="203.81" width="12.67" height="5.24" fill="#1e3420"/>
<rect x="261.15" y="203.81" width="12.67" height="5.24" fill="#1e3420"/>
<rect x="273.22" y="203.81" width="12.67" height="5.24" fill="#1e3420"/>
<rect x="285.29" y="203.81" width="12.67" height="5.24" fill="#1e3420"/>
<rect x="297.36" y="203.81" width="12.67" height="5.24" fill="#1a2a1a"/>
<rect x="309.43" y="203.81" width="12.67" height="5.24" fill="#e03020"/>
<rect x="321.50" y="203.81" width="12.67" height="5.24" fill="#141c14"/>
<rect x="333.57" y="203.81" width="12.67" height="5.24" fill="#4a1614"/>
<rect x="345.64" y="203.81" width="12.67" height="5.24" fill="#141a14"/>
<rect x="357.71" y="203.81" width="12.07" height="5.24" fill="#1e1010"/>
<rect x="200.80" y="208.45" width="12.67" height="5.24" fill="#1a2a1a"/>
<rect x="212.87" y="208.45" width="12.67" height="5.24" fill="#1a2a1a"/>
<rect x="224.94" y="208.45" width="12.67" height="5.24" fill="#1a2a1a"/>
<rect x="237.01" y="208.45" width="12.67" height="5.24" fill="#1a2a1a"/>
<rect x="249.08" y="208.45" width="12.67" height="5.24" fill="#1a2a1a"/>
<rect x="261.15" y="208.45" width="12.67" height="5.24" fill="#1a2a1a"/>
<rect x="273.22" y="208.45" width="12.67" height="5.24" fill="#1a2a1a"/>
<rect x="285.29" y="208.45" width="12.67" height="5.24" fill="#1a2a1a"/>
<rect x="297.36" y="208.45" width="12.67" height="5.24" fill="#0e0e0c"/>
<rect x="309.43" y="208.45" width="12.67" height="5.24" fill="#e03020"/>
<rect x="321.50" y="208.45" width="12.67" height="5.24" fill="#141c14"/>
<rect x="333.57" y="208.45" width="12.67" height="5.24" fill="#4a1614"/>
<rect x="345.64" y="208.45" width="12.67" height="5.24" fill="#1a241a"/>
<rect x="357.71" y="208.45" width="12.07" height="5.24" fill="#080808"/>
<rect x="200.80" y="213.10" width="12.67" height="5.24" fill="#1e3420"/>
<rect x="212.87" y="213.10" width="12.67" height="5.24" fill="#1e3a1e"/>
<rect x="224.94" y="213.10" width="12.67" height="5.24" fill="#141a14"/>
<rect x="237.01" y="213.10" width="12.67" height="5.24" fill="#141a14"/>
<rect x="249.08" y="213.10" width="12.67" height="5.24" fill="#2a1010"/>
<rect x="261.15" y="213.10" width="12.67" height="5.24" fill="#1e3a1e"/>
<rect x="273.22" y="213.10" width="12.67" height="5.24" fill="#1e3a1e"/>
<rect x="285.29" y="213.10" width="12.67" height="5.24" fill="#1e3420"/>
<rect x="297.36" y="213.10" width="12.67" height="5.24" fill="#1e3420"/>
<rect x="309.43" y="213.10" width="12.67" height="5.24" fill="#e03020"/>
<rect x="321.50" y="213.10" width="12.67" height="5.24" fill="#0e0e0c"/>
<rect x="333.57" y="213.10" width="12.67" height="5.24" fill="#2a1010"/>
<rect x="345.64" y="213.10" width="12.67" height="5.24" fill="#141414"/>
<rect x="357.71" y="213.10" width="12.07" height="5.24" fill="#4a1614"/>
<rect x="200.80" y="217.74" width="12.67" height="5.24" fill="#101410"/>
<rect x="212.87" y="217.74" width="12.67" height="5.24" fill="#141a14"/>
<rect x="224.94" y="217.74" width="12.67" height="5.24" fill="#080808"/>
<rect x="237.01" y="217.74" width="12.67" height="5.24" fill="#141414"/>
<rect x="249.08" y="217.74" width="12.67" height="5.24" fill="#141a14"/>
<rect x="261.15" y="217.74" width="12.67" height="5.24" fill="#1e3a1e"/>
<rect x="273.22" y="217.74" width="12.67" height="5.24" fill="#1e3420"/>
<rect x="285.29" y="217.74" width="12.67" height="5.24" fill="#245a28"/>
<rect x="297.36" y="217.74" width="12.67" height="5.24" fill="#245a28"/>
<rect x="309.43" y="217.74" width="12.67" height="5.24" fill="#e03020"/>
<rect x="321.50" y="217.74" width="12.67" height="5.24" fill="#141a14"/>
<rect x="333.57" y="217.74" width="12.67" height="5.24" fill="#2a1010"/>
<rect x="345.64" y="217.74" width="12.67" height="5.24" fill="#1e1010"/>
<rect x="357.71" y="217.74" width="12.07" height="5.24" fill="#2a1010"/>
<rect x="200.80" y="222.38" width="12.67" height="5.24" fill="#141a14"/>
<rect x="212.87" y="222.38" width="12.67" height="5.24" fill="#101410"/>
<rect x="224.94" y="222.38" width="12.67" height="5.24" fill="#245a28"/>
<rect x="237.01" y="222.38" width="12.67" height="5.24" fill="#245a28"/>
<rect x="249.08" y="222.38" width="12.67" height="5.24" fill="#1e4020"/>
<rect x="261.15" y="222.38" width="12.67" height="5.24" fill="#141a14"/>
<rect x="273.22" y="222.38" width="12.67" height="5.24" fill="#245a28"/>
<rect x="285.29" y="222.38" width="12.67" height="5.24" fill="#141a14"/>
<rect x="297.36" y="222.38" width="12.67" height="5.24" fill="#080808"/>
<rect x="309.43" y="222.38" width="12.67" height="5.24" fill="#e03020"/>
<rect x="321.50" y="222.38" width="12.67" height="5.24" fill="#2a1010"/>
<rect x="333.57" y="222.38" width="12.67" height="5.24" fill="#0e0e0c"/>
<rect x="345.64" y="222.38" width="12.67" height="5.24" fill="#0e0e0c"/>
<rect x="357.71" y="222.38" width="12.07" height="5.24" fill="#1e1010"/>
<rect x="200.80" y="227.03" width="12.67" height="5.24" fill="#141a14"/>
<rect x="212.87" y="227.03" width="12.67" height="5.24" fill="#141a14"/>
<rect x="224.94" y="227.03" width="12.67" height="5.24" fill="#1a2a1a"/>
<rect x="237.01" y="227.03" width="12.67" height="5.24" fill="#1a2a1a"/>
<rect x="249.08" y="227.03" width="12.67" height="5.24" fill="#141a14"/>
<rect x="261.15" y="227.03" width="12.67" height="5.24" fill="#141a14"/>
<rect x="273.22" y="227.03" width="12.67" height="5.24" fill="#1a2a1a"/>
<rect x="285.29" y="227.03" width="12.67" height="5.24" fill="#1e3420"/>
<rect x="297.36" y="227.03" width="12.67" height="5.24" fill="#1e3420"/>
<rect x="309.43" y="227.03" width="12.67" height="5.24" fill="#e03020"/>
<rect x="321.50" y="227.03" width="12.67" height="5.24" fill="#1e1010"/>
<rect x="333.57" y="227.03" width="12.67" height="5.24" fill="#141a14"/>
<rect x="345.64" y="227.03" width="12.67" height="5.24" fill="#141a14"/>
<rect x="357.71" y="227.03" width="12.07" height="5.24" fill="#1e1010"/>
<rect x="200.80" y="231.67" width="12.67" height="5.24" fill="#141a14"/>
<rect x="212.87" y="231.67" width="12.67" height="5.24" fill="#1e3420"/>
<rect x="224.94" y="231.67" width="12.67" height="5.24" fill="#140e0c"/>
<rect x="237.01" y="231.67" width="12.67" height="5.24" fill="#080808"/>
<rect x="249.08" y="231.67" width="12.67" height="5.24" fill="#1a2e1a"/>
<rect x="261.15" y="231.67" width="12.67" height="5.24" fill="#1e3420"/>
<rect x="273.22" y="231.67" width="12.67" height="5.24" fill="#1e3a1e"/>
<rect x="285.29" y="231.67" width="12.67" height="5.24" fill="#1e3420"/>
<rect x="297.36" y="231.67" width="12.67" height="5.24" fill="#1e3420"/>
<rect x="309.43" y="231.67" width="12.67" height="5.24" fill="#e03020"/>
<rect x="321.50" y="231.67" width="12.67" height="5.24" fill="#1e1010"/>
<rect x="333.57" y="231.67" width="12.67" height="5.24" fill="#0e0e0c"/>
<rect x="345.64" y="231.67" width="12.67" height="5.24" fill="#2a1010"/>
<rect x="357.71" y="231.67" width="12.07" height="5.24" fill="#141414"/>
<rect x="200.80" y="236.32" width="12.67" height="5.24" fill="#2a1010"/>
<rect x="212.87" y="236.32" width="12.67" height="5.24" fill="#1e3420"/>
<rect x="224.94" y="236.32" width="12.67" height="5.24" fill="#3a1414"/>
<rect x="237.01" y="236.32" width="12.67" height="5.24" fill="#101010"/>
<rect x="249.08" y="236.32" width="12.67" height="5.24" fill="#101010"/>
<rect x="261.15" y="236.32" width="12.67" height="5.24" fill="#245a28"/>
<rect x="273.22" y="236.32" width="12.67" height="5.24" fill="#245a28"/>
<rect x="285.29" y="236.32" width="12.67" height="5.24" fill="#245a28"/>
<rect x="297.36" y="236.32" width="12.67" height="5.24" fill="#245a28"/>
<rect x="309.43" y="236.32" width="12.67" height="5.24" fill="#5a1814"/>
<rect x="321.50" y="236.32" width="12.67" height="5.24" fill="#1e1010"/>
<rect x="333.57" y="236.32" width="12.67" height="5.24" fill="#c02418"/>
<rect x="345.64" y="236.32" width="12.67" height="5.24" fill="#2a1010"/>
<rect x="357.71" y="236.32" width="12.07" height="5.24" fill="#141414"/>
<rect x="200.80" y="240.96" width="12.67" height="5.24" fill="#1a2a1a"/>
<rect x="212.87" y="240.96" width="12.67" height="5.24" fill="#141a14"/>
<rect x="224.94" y="240.96" width="12.67" height="5.24" fill="#141a14"/>
<rect x="237.01" y="240.96" width="12.67" height="5.24" fill="#1e3a1e"/>
<rect x="249.08" y="240.96" width="12.67" height="5.24" fill="#1e1010"/>
<rect x="261.15" y="240.96" width="12.67" height="5.24" fill="#2a5a2a"/>
<rect x="273.22" y="240.96" width="12.67" height="5.24" fill="#2a5a2a"/>
<rect x="285.29" y="240.96" width="12.67" height="5.24" fill="#141a14"/>
<rect x="297.36" y="240.96" width="12.67" height="5.24" fill="#245a28"/>
<rect x="309.43" y="240.96" width="12.67" height="5.24" fill="#c02418"/>
<rect x="321.50" y="240.96" width="12.67" height="5.24" fill="#141414"/>
<rect x="333.57" y="240.96" width="12.67" height="5.24" fill="#a81c14"/>
<rect x="345.64" y="240.96" width="12.67" height="5.24" fill="#1e1010"/>
<rect x="357.71" y="240.96" width="12.07" height="5.24" fill="#0a0a08"/>
<rect x="200.80" y="245.60" width="12.67" height="5.24" fill="#080808"/>
<rect x="212.87" y="245.60" width="12.67" height="5.24" fill="#1e1010"/>
<rect x="224.94" y="245.60" width="12.67" height="5.24" fill="#1a2a1a"/>
<rect x="237.01" y="245.60" width="12.67" height="5.24" fill="#1a2a1a"/>
<rect x="249.08" y="245.60" width="12.67" height="5.24" fill="#1a2a1a"/>
<rect x="261.15" y="245.60" width="12.67" height="5.24" fill="#2a5a2a"/>
<rect x="273.22" y="245.60" width="12.67" height="5.24" fill="#2a5a2a"/>
<rect x="285.29" y="245.60" width="12.67" height="5.24" fill="#245a28"/>
<rect x="297.36" y="245.60" width="12.67" height="5.24" fill="#245a28"/>
<rect x="309.43" y="245.60" width="12.67" height="5.24" fill="#8a1c14"/>
<rect x="321.50" y="245.60" width="12.67" height="5.24" fill="#141c14"/>
<rect x="333.57" y="245.60" width="12.67" height="5.24" fill="#b82018"/>
<rect x="345.64" y="245.60" width="12.67" height="5.24" fill="#1e1010"/>
<rect x="357.71" y="245.60" width="12.07" height="5.24" fill="#4a1614"/>
<rect x="200.80" y="250.25" width="12.67" height="5.24" fill="#1a2a1a"/>
<rect x="212.87" y="250.25" width="12.67" height="5.24" fill="#1e3a1e"/>
<rect x="224.94" y="250.25" width="12.67" height="5.24" fill="#1e3420"/>
<rect x="237.01" y="250.25" width="12.67" height="5.24" fill="#141a14"/>
<rect x="249.08" y="250.25" width="12.67" height="5.24" fill="#141a14"/>
<rect x="261.15" y="250.25" width="12.67" height="5.24" fill="#141a14"/>
<rect x="273.22" y="250.25" width="12.67" height="5.24" fill="#1e3420"/>
<rect x="285.29" y="250.25" width="12.67" height="5.24" fill="#1e3420"/>
<rect x="297.36" y="250.25" width="12.67" height="5.24" fill="#1e3420"/>
<rect x="309.43" y="250.25" width="12.67" height="5.24" fill="#2a1010"/>
<rect x="321.50" y="250.25" width="12.67" height="5.24" fill="#4a1614"/>
<rect x="333.57" y="250.25" width="12.67" height="5.24" fill="#c02418"/>
<rect x="345.64" y="250.25" width="12.67" height="5.24" fill="#141a14"/>
<rect x="357.71" y="250.25" width="12.07" height="5.24" fill="#3a1414"/>
<rect x="200.80" y="254.89" width="12.67" height="5.24" fill="#080808"/>
<rect x="212.87" y="254.89" width="12.67" height="5.24" fill="#1e3a1e"/>
<rect x="224.94" y="254.89" width="12.67" height="5.24" fill="#101410"/>
<rect x="237.01" y="254.89" width="12.67" height="5.24" fill="#141a14"/>
<rect x="249.08" y="254.89" width="12.67" height="5.24" fill="#141a14"/>
<rect x="261.15" y="254.89" width="12.67" height="5.24" fill="#1e4020"/>
<rect x="273.22" y="254.89" width="12.67" height="5.24" fill="#141a14"/>
<rect x="285.29" y="254.89" width="12.67" height="5.24" fill="#141a14"/>
<rect x="297.36" y="254.89" width="12.67" height="5.24" fill="#1a2a1a"/>
<rect x="309.43" y="254.89" width="12.67" height="5.24" fill="#141414"/>
<rect x="321.50" y="254.89" width="12.67" height="5.24" fill="#141a14"/>
<rect x="333.57" y="254.89" width="12.67" height="5.24" fill="#e03020"/>
<rect x="345.64" y="254.89" width="12.67" height="5.24" fill="#080808"/>
<rect x="357.71" y="254.89" width="12.07" height="5.24" fill="#2a1010"/>
<rect x="200.80" y="259.54" width="12.67" height="5.24" fill="#1e3420"/>
<rect x="212.87" y="259.54" width="12.67" height="5.24" fill="#1e3420"/>
<rect x="224.94" y="259.54" width="12.67" height="5.24" fill="#1e4020"/>
<rect x="237.01" y="259.54" width="12.67" height="5.24" fill="#141a14"/>
<rect x="249.08" y="259.54" width="12.67" height="5.24" fill="#1e4020"/>
<rect x="261.15" y="259.54" width="12.67" height="5.24" fill="#6a1814"/>
<rect x="273.22" y="259.54" width="12.67" height="5.24" fill="#1a2a1a"/>
<rect x="285.29" y="259.54" width="12.67" height="5.24" fill="#1e3420"/>
<rect x="297.36" y="259.54" width="12.67" height="5.24" fill="#1e3420"/>
<rect x="309.43" y="259.54" width="12.67" height="5.24" fill="#8a1c14"/>
<rect x="321.50" y="259.54" width="12.67" height="5.24" fill="#2a1010"/>
<rect x="333.57" y="259.54" width="12.67" height="5.24" fill="#b02018"/>
<rect x="345.64" y="259.54" width="12.67" height="5.24" fill="#1e3420"/>
<rect x="357.71" y="259.54" width="12.07" height="5.24" fill="#2a1010"/>
<rect x="200.80" y="264.18" width="12.67" height="5.24" fill="#1e3420"/>
<rect x="212.87" y="264.18" width="12.67" height="5.24" fill="#0e0e0c"/>
<rect x="224.94" y="264.18" width="12.67" height="5.24" fill="#2a6a2a"/>
<rect x="237.01" y="264.18" width="12.67" height="5.24" fill="#2a6a2a"/>
<rect x="249.08" y="264.18" width="12.67" height="5.24" fill="#2a6a2a"/>
<rect x="261.15" y="264.18" width="12.67" height="5.24" fill="#141a14"/>
<rect x="273.22" y="264.18" width="12.67" height="5.24" fill="#1a2a1a"/>
<rect x="285.29" y="264.18" width="12.67" height="5.24" fill="#141a14"/>
<rect x="297.36" y="264.18" width="12.67" height="5.24" fill="#141a14"/>
<rect x="309.43" y="264.18" width="12.67" height="5.24" fill="#4a1614"/>
<rect x="321.50" y="264.18" width="12.67" height="5.24" fill="#0e0e0c"/>
<rect x="333.57" y="264.18" width="12.67" height="5.24" fill="#b02018"/>
<rect x="345.64" y="264.18" width="12.67" height="5.24" fill="#0e0e0c"/>
<rect x="357.71" y="264.18" width="12.07" height="5.24" fill="#a81c14"/>
<rect x="200.80" y="268.82" width="12.67" height="5.24" fill="#1e3420"/>
<rect x="212.87" y="268.82" width="12.67" height="5.24" fill="#141414"/>
<rect x="224.94" y="268.82" width="12.67" height="5.24" fill="#1a2a1a"/>
<rect x="237.01" y="268.82" width="12.67" height="5.24" fill="#1a2a1a"/>
<rect x="249.08" y="268.82" width="12.67" height="5.24" fill="#1e3420"/>
<rect x="261.15" y="268.82" width="12.67" height="5.24" fill="#141a14"/>
<rect x="273.22" y="268.82" width="12.67" height="5.24" fill="#1a2a1a"/>
<rect x="285.29" y="268.82" width="12.67" height="5.24" fill="#1e3420"/>
<rect x="297.36" y="268.82" width="12.67" height="5.24" fill="#1a2a1a"/>
<rect x="309.43" y="268.82" width="12.67" height="5.24" fill="#c02418"/>
<rect x="321.50" y="268.82" width="12.67" height="5.24" fill="#1e1010"/>
<rect x="333.57" y="268.82" width="12.67" height="5.24" fill="#b02018"/>
<rect x="345.64" y="268.82" width="12.67" height="5.24" fill="#141a14"/>
<rect x="357.71" y="268.82" width="12.07" height="5.24" fill="#3a1414"/>
<rect x="200.80" y="273.47" width="12.67" height="5.24" fill="#1e3420"/>
<rect x="212.87" y="273.47" width="12.67" height="5.24" fill="#1e3a1e"/>
<rect x="224.94" y="273.47" width="12.67" height="5.24" fill="#141a14"/>
<rect x="237.01" y="273.47" width="12.67" height="5.24" fill="#141a14"/>
<rect x="249.08" y="273.47" width="12.67" height="5.24" fill="#1e3420"/>
<rect x="261.15" y="273.47" width="12.67" height="5.24" fill="#1e3420"/>
<rect x="273.22" y="273.47" width="12.67" height="5.24" fill="#1e3420"/>
<rect x="285.29" y="273.47" width="12.67" height="5.24" fill="#1e3420"/>
<rect x="297.36" y="273.47" width="12.67" height="5.24" fill="#080808"/>
<rect x="309.43" y="273.47" width="12.67" height="5.24" fill="#b02018"/>
<rect x="321.50" y="273.47" width="12.67" height="5.24" fill="#141a14"/>
<rect x="333.57" y="273.47" width="12.67" height="5.24" fill="#b02018"/>
<rect x="345.64" y="273.47" width="12.67" height="5.24" fill="#141a14"/>
<rect x="357.71" y="273.47" width="12.07" height="5.24" fill="#2a1010"/>
<rect x="200.80" y="278.11" width="12.67" height="5.24" fill="#1e3420"/>
<rect x="212.87" y="278.11" width="12.67" height="5.24" fill="#141a14"/>
<rect x="224.94" y="278.11" width="12.67" height="5.24" fill="#141a14"/>
<rect x="237.01" y="278.11" width="12.67" height="5.24" fill="#141a14"/>
<rect x="249.08" y="278.11" width="12.67" height="5.24" fill="#141a14"/>
<rect x="261.15" y="278.11" width="12.67" height="5.24" fill="#0a0a08"/>
<rect x="273.22" y="278.11" width="12.67" height="5.24" fill="#2a6a2a"/>
<rect x="285.29" y="278.11" width="12.67" height="5.24" fill="#245a28"/>
<rect x="297.36" y="278.11" width="12.67" height="5.24" fill="#1e3420"/>
<rect x="309.43" y="278.11" width="12.67" height="5.24" fill="#8a1c14"/>
<rect x="321.50" y="278.11" width="12.67" height="5.24" fill="#080808"/>
<rect x="333.57" y="278.11" width="12.67" height="5.24" fill="#d02818"/>
<rect x="345.64" y="278.11" width="12.67" height="5.24" fill="#141a14"/>
<rect x="357.71" y="278.11" width="12.07" height="5.24" fill="#2a1010"/>
<rect x="200.80" y="282.76" width="12.67" height="4.64" fill="#1e3420"/>
<rect x="212.87" y="282.76" width="12.67" height="4.64" fill="#1e3420"/>
<rect x="224.94" y="282.76" width="12.67" height="4.64" fill="#1e3420"/>
<rect x="237.01" y="282.76" width="12.67" height="4.64" fill="#141a14"/>
<rect x="249.08" y="282.76" width="12.67" height="4.64" fill="#141a14"/>
<rect x="261.15" y="282.76" width="12.67" height="4.64" fill="#141a14"/>
<rect x="273.22" y="282.76" width="12.67" height="4.64" fill="#1e1010"/>
<rect x="285.29" y="282.76" width="12.67" height="4.64" fill="#141a14"/>
<rect x="297.36" y="282.76" width="12.67" height="4.64" fill="#1e3420"/>
<rect x="309.43" y="282.76" width="12.67" height="4.64" fill="#7a1814"/>
<rect x="321.50" y="282.76" width="12.67" height="4.64" fill="#080808"/>
<rect x="333.57" y="282.76" width="12.67" height="4.64" fill="#d02818"/>
<rect x="345.64" y="282.76" width="12.67" height="4.64" fill="#141a14"/>
<rect x="357.71" y="282.76" width="12.07" height="4.64" fill="#2a1010"/>
<rect x="200.80" y="50.00" width="108.63" height="3.80" fill="#e2311d"/>
<rect x="309.43" y="50.00" width="60.35" height="3.80" fill="#4cbf1e"/>
<text x="371.38" y="53.60" font-size="4.2" fill="#333">class</text>
<text x="371.38" y="58.90" font-size="4.2" fill="#444">PRG0</text>
<text x="371.38" y="63.54" font-size="4.2" fill="#444">MEDL</text>
<text x="371.38" y="68.19" font-size="4.2" fill="#444">S1CABA1</text>
<text x="371.38" y="72.83" font-size="4.2" fill="#444">DYSEL</text>
<text x="371.38" y="77.48" font-size="4.2" fill="#444">CHAUG</text>
<text x="371.38" y="82.12" font-size="4.2" fill="#444">PBBBD</text>
<text x="371.38" y="86.76" font-size="4.2" fill="#444">ATP5F1</text>
<text x="371.38" y="91.41" font-size="4.2" fill="#444">TIMM02</text>
<text x="371.38" y="96.05" font-size="4.2" fill="#444">FACS2</text>
<text x="371.38" y="100.70" font-size="4.2" fill="#444">ADAM35</text>
<text x="371.38" y="105.34" font-size="4.2" fill="#444">FAACS</text>
<text x="371.38" y="109.98" font-size="4.2" fill="#444">APOB</text>
<text x="371.38" y="114.63" font-size="4.2" fill="#444">CYSB</text>
<text x="371.38" y="119.27" font-size="4.2" fill="#444">MAGEF1</text>
<text x="371.38" y="123.92" font-size="4.2" fill="#444">TRQ</text>
<text x="371.38" y="128.56" font-size="4.2" fill="#444">HSPA1A</text>
<text x="371.38" y="133.20" font-size="4.2" fill="#444">HSP81</text>
<text x="371.38" y="137.85" font-size="4.2" fill="#444">ITGA2</text>
<text x="371.38" y="142.49" font-size="4.2" fill="#444">CD88</text>
<text x="371.38" y="147.14" font-size="4.2" fill="#444">TEAD1</text>
<text x="371.38" y="151.78" font-size="4.2" fill="#444">SRRBL</text>
<text x="371.38" y="156.42" font-size="4.2" fill="#444">CP</text>
<text x="371.38" y="161.07" font-size="4.2" fill="#444">GGR</text>
<text x="371.38" y="165.71" font-size="4.2" fill="#444">CD083</text>
<text x="371.38" y="170.36" font-size="4.2" fill="#444">ERBB2</text>
<text x="371.38" y="175.00" font-size="4.2" fill="#444">ADAM17</text>
<text x="371.38" y="179.64" font-size="4.2" fill="#444">NOTCH3</text>
<text x="371.38" y="184.29" font-size="4.2" fill="#444">UHRF2</text>
<text x="371.38" y="188.93" font-size="4.2" fill="#444">18TDB2</text>
<text x="371.38" y="193.58" font-size="4.2" fill="#444">ABHD17C</text>
<text x="371.38" y="198.22" font-size="4.2" fill="#444">GNL2</text>
<text x="371.38" y="202.86" font-size="4.2" fill="#444">C1PL</text>
<text x="371.38" y="207.51" font-size="4.2" fill="#444">ZNF226</text>
<text x="371.38" y="212.15" font-size="4.2" fill="#444">MAGED1</text>
<text x="371.38" y="216.80" font-size="4.2" fill="#444">TMB4B1</text>
<text x="371.38" y="221.44" font-size="4.2" fill="#444">RPRE1A</text>
<text x="371.38" y="226.08" font-size="4.2" fill="#444">NOX01</text>
<text x="371.38" y="230.73" font-size="4.2" fill="#444">PRKCH</text>
<text x="371.38" y="235.37" font-size="4.2" fill="#444">MB21D2</text>
<text x="371.38" y="240.02" font-size="4.2" fill="#444">CDC14B</text>
<text x="371.38" y="244.66" font-size="4.2" fill="#444">TRAG2</text>
<text x="371.38" y="249.30" font-size="4.2" fill="#444">ZNF848</text>
<text x="371.38" y="253.95" font-size="4.2" fill="#444">HKGB1A</text>
<text x="371.38" y="258.59" font-size="4.2" fill="#444">PSENE</text>
<text x="371.38" y="263.24" font-size="4.2" fill="#444">SOD1</text>
<text x="371.38" y="267.88" font-size="4.2" fill="#444">TNFRSF1B</text>
<text x="371.38" y="272.52" font-size="4.2" fill="#444">GPX1</text>
<text x="371.38" y="277.17" font-size="4.2" fill="#444">ZNF780</text>
<text x="371.38" y="281.81" font-size="4.2" fill="#444">ZBHHC15</text>
<text x="371.38" y="286.46" font-size="4.2" fill="#444">Sep_1</text>
<text x="0" y="0" font-size="4.2" fill="#333" transform="translate(205.44,289.40) rotate(90)">Sample11</text>
<text x="0" y="0" font-size="4.2" fill="#333" transform="translate(217.50,289.40) rotate(90)">Sample13</text>
<text x="0" y="0" font-size="4.2" fill="#333" transform="translate(229.57,289.40) rotate(90)">Sample10</text>
<text x="0" y="0" font-size="4.2" fill="#333" transform="translate(241.65,289.40) rotate(90)">Sample6</text>
<text x="0" y="0" font-size="4.2" fill="#333" transform="translate(253.72,289.40) rotate(90)">Sample14</text>
<text x="0" y="0" font-size="4.2" fill="#333" transform="translate(265.79,289.40) rotate(90)">Sample12</text>
<text x="0" y="0" font-size="4.2" fill="#333" transform="translate(277.86,289.40) rotate(90)">Sample8</text>
<text x="0" y="0" font-size="4.2" fill="#333" transform="translate(289.93,289.40) rotate(90)">Sample7</text>
<text x="0" y="0" font-size="4.2" fill="#333" transform="translate(302.00,289.40) rotate(90)">Sample9</text>
<text x="0" y="0" font-size="4.2" fill="#333" transform="translate(314.07,289.40) rotate(90)">Sample2</text>
<text x="0" y="0" font-size="4.2" fill="#333" transform="translate(326.14,289.40) rotate(90)">Sample5</text>
<text x="0" y="0" font-size="4.2" fill="#333" transform="translate(338.21,289.40) rotate(90)">Sample4</text>
<text x="0" y="0" font-size="4.2" fill="#333" transform="translate(350.28,289.40) rotate(90)">Sample1</text>
<text x="0" y="0" font-size="4.2" fill="#333" transform="translate(362.35,289.40) rotate(90)">Sample3</text>
<polyline points="252.70,44.40 252.70,25.60 327.20,25.60 327.20,41.10" fill="none" stroke="#777" stroke-width="0.6"/>
<polyline points="224.00,46.60 224.00,44.40 281.00,44.40 281.00,46.00" fill="none" stroke="#777" stroke-width="0.6"/>
<polyline points="206.84,49.60 206.84,46.60 220.91,46.60 220.91,47.60" fill="none" stroke="#777" stroke-width="0.6"/>
<polyline points="216.91,49.60 216.91,47.60 233.97,47.60 233.97,49.60" fill="none" stroke="#777" stroke-width="0.6"/>
<polyline points="241.05,47.30 241.05,46.60 244.00,46.60 244.00,49.60" fill="none" stroke="#777" stroke-width="0.6"/>
<polyline points="245.05,49.60 245.05,47.30 255.12,47.30 255.12,49.60" fill="none" stroke="#777" stroke-width="0.6"/>
<polyline points="270.00,46.80 270.00,46.00 303.40,46.00 303.40,49.60" fill="none" stroke="#777" stroke-width="0.6"/>
<polyline points="267.19,49.60 267.19,46.80 281.26,46.80 281.26,47.60" fill="none" stroke="#777" stroke-width="0.6"/>
<polyline points="279.26,49.60 279.26,47.60 291.33,47.60 291.33,49.60" fill="none" stroke="#777" stroke-width="0.6"/>
<polyline points="315.80,49.60 315.80,41.10 341.00,41.10 341.00,43.80" fill="none" stroke="#777" stroke-width="0.6"/>
<polyline points="333.00,44.40 333.00,43.80 355.00,43.80 355.00,45.50" fill="none" stroke="#777" stroke-width="0.6"/>
<polyline points="327.54,49.60 327.54,44.40 339.61,44.40 339.61,49.60" fill="none" stroke="#777" stroke-width="0.6"/>
<polyline points="351.68,49.60 351.68,45.50 363.75,45.50 363.75,49.60" fill="none" stroke="#777" stroke-width="0.6"/>
<polyline points="199.00,67.00 180.80,67.00 180.80,176.00 190.80,176.00" fill="none" stroke="#777" stroke-width="0.6"/>
<polyline points="195.00,121.40 190.80,121.40 190.80,231.00 194.00,231.00" fill="none" stroke="#777" stroke-width="0.6"/>
<polyline points="200.00,58.00 196.00,58.00 196.00,76.00 198.50,76.00" fill="none" stroke="#777" stroke-width="0.6"/>
<polyline points="200.00,66.00 198.50,66.00 198.50,86.00 200.00,86.00" fill="none" stroke="#777" stroke-width="0.6"/>
<polyline points="197.50,212.00 194.00,212.00 194.00,250.00 196.00,250.00" fill="none" stroke="#777" stroke-width="0.6"/>
<polyline points="198.00,100.00 195.00,100.00 195.00,142.00 197.00,142.00" fill="none" stroke="#777" stroke-width="0.6"/>
<polyline points="200.00,90.00 198.00,90.00 198.00,112.00 200.00,112.00" fill="none" stroke="#777" stroke-width="0.6"/>
<polyline points="200.00,130.00 197.00,130.00 197.00,160.00 200.00,160.00" fill="none" stroke="#777" stroke-width="0.6"/>
<polyline points="200.00,200.00 197.50,200.00 197.50,225.00 200.00,225.00" fill="none" stroke="#777" stroke-width="0.6"/>
<polyline points="200.00,240.00 196.00,240.00 196.00,270.00 198.00,270.00" fill="none" stroke="#777" stroke-width="0.6"/>
<polyline points="200.00,255.00 198.00,255.00 198.00,285.00 200.00,285.00" fill="none" stroke="#777" stroke-width="0.6"/>
<polyline points="200.00,150.00 199.00,150.00 199.00,190.00 200.00,190.00" fill="none" stroke="#777" stroke-width="0.6"/>
<line x1="198.60" y1="57.52" x2="200.00" y2="57.52" stroke="#777" stroke-width="0.4"/>
<line x1="198.60" y1="62.17" x2="200.00" y2="62.17" stroke="#777" stroke-width="0.4"/>
<line x1="198.60" y1="66.81" x2="200.00" y2="66.81" stroke="#777" stroke-width="0.4"/>
<line x1="198.60" y1="71.45" x2="200.00" y2="71.45" stroke="#777" stroke-width="0.4"/>
<line x1="198.60" y1="76.10" x2="200.00" y2="76.10" stroke="#777" stroke-width="0.4"/>
<line x1="198.60" y1="80.74" x2="200.00" y2="80.74" stroke="#777" stroke-width="0.4"/>
<line x1="198.60" y1="85.39" x2="200.00" y2="85.39" stroke="#777" stroke-width="0.4"/>
<line x1="198.60" y1="90.03" x2="200.00" y2="90.03" stroke="#777" stroke-width="0.4"/>
<line x1="198.60" y1="94.67" x2="200.00" y2="94.67" stroke="#777" stroke-width="0.4"/>
<line x1="198.60" y1="99.32" x2="200.00" y2="99.32" stroke="#777" stroke-width="0.4"/>
<line x1="198.60" y1="103.96" x2="200.00" y2="103.96" stroke="#777" stroke-width="0.4"/>
<line x1="198.60" y1="108.61" x2="200.00" y2="108.61" stroke="#777" stroke-width="0.4"/>
<line x1="198.60" y1="113.25" x2="200.00" y2="113.25" stroke="#777" stroke-width="0.4"/>
<line x1="198.60" y1="117.89" x2="200.00" y2="117.89" stroke="#777" stroke-width="0.4"/>
<line x1="198.60" y1="122.54" x2="200.00" y2="122.54" stroke="#777" stroke-width="0.4"/>
<line x1="198.60" y1="127.18" x2="200.00" y2="127.18" stroke="#777" stroke-width="0.4"/>
<line x1="198.60" y1="131.83" x2="200.00" y2="131.83" stroke="#777" stroke-width="0.4"/>
<line x1="198.60" y1="136.47" x2="200.00" y2="136.47" stroke="#777" stroke-width="0.4"/>
<line x1="198.60" y1="141.11" x2="200.00" y2="141.11" stroke="#777" stroke-width="0.4"/>
<line x1="198.60" y1="145.76" x2="200.00" y2="145.76" stroke="#777" stroke-width="0.4"/>
<line x1="198.60" y1="150.40" x2="200.00" y2="150.40" stroke="#777" stroke-width="0.4"/>
<line x1="198.60" y1="155.05" x2="200.00" y2="155.05" stroke="#777" stroke-width="0.4"/>
<line x1="198.60" y1="159.69" x2="200.00" y2="159.69" stroke="#777" stroke-width="0.4"/>
<line x1="198.60" y1="164.33" x2="200.00" y2="164.33" stroke="#777" stroke-width="0.4"/>
<line x1="198.60" y1="168.98" x2="200.00" y2="168.98" stroke="#777" stroke-width="0.4"/>
<line x1="198.60" y1="173.62" x2="200.00" y2="173.62" stroke="#777" stroke-width="0.4"/>
<line x1="198.60" y1="178.27" x2="200.00" y2="178.27" stroke="#777" stroke-width="0.4"/>
<line x1="198.60" y1="182.91" x2="200.00" y2="182.91" stroke="#777" stroke-width="0.4"/>
<line x1="198.60" y1="187.55" x2="200.00" y2="187.55" stroke="#777" stroke-width="0.4"/>
<line x1="198.60" y1="192.20" x2="200.00" y2="192.20" stroke="#777" stroke-width="0.4"/>
<line x1="198.60" y1="196.84" x2="200.00" y2="196.84" stroke="#777" stroke-width="0.4"/>
<line x1="198.60" y1="201.49" x2="200.00" y2="201.49" stroke="#777" stroke-width="0.4"/>
<line x1="198.60" y1="206.13" x2="200.00" y2="206.13" stroke="#777" stroke-width="0.4"/>
<line x1="198.60" y1="210.77" x2="200.00" y2="210.77" stroke="#777" stroke-width="0.4"/>
<line x1="198.60" y1="215.42" x2="200.00" y2="215.42" stroke="#777" stroke-width="0.4"/>
<line x1="198.60" y1="220.06" x2="200.00" y2="220.06" stroke="#777" stroke-width="0.4"/>
<line x1="198.60" y1="224.71" x2="200.00" y2="224.71" stroke="#777" stroke-width="0.4"/>
<line x1="198.60" y1="229.35" x2="200.00" y2="229.35" stroke="#777" stroke-width="0.4"/>
<line x1="198.60" y1="233.99" x2="200.00" y2="233.99" stroke="#777" stroke-width="0.4"/>
<line x1="198.60" y1="238.64" x2="200.00" y2="238.64" stroke="#777" stroke-width="0.4"/>
<line x1="198.60" y1="243.28" x2="200.00" y2="243.28" stroke="#777" stroke-width="0.4"/>
<line x1="198.60" y1="247.93" x2="200.00" y2="247.93" stroke="#777" stroke-width="0.4"/>
<line x1="198.60" y1="252.57" x2="200.00" y2="252.57" stroke="#777" stroke-width="0.4"/>
<line x1="198.60" y1="257.21" x2="200.00" y2="257.21" stroke="#777" stroke-width="0.4"/>
<line x1="198.60" y1="261.86" x2="200.00" y2="261.86" stroke="#777" stroke-width="0.4"/>
<line x1="198.60" y1="266.50" x2="200.00" y2="266.50" stroke="#777" stroke-width="0.4"/>
<line x1="198.60" y1="271.15" x2="200.00" y2="271.15" stroke="#777" stroke-width="0.4"/>
<line x1="198.60" y1="275.79" x2="200.00" y2="275.79" stroke="#777" stroke-width="0.4"/>
<line x1="198.60" y1="280.43" x2="200.00" y2="280.43" stroke="#777" stroke-width="0.4"/>
<line x1="198.60" y1="285.08" x2="200.00" y2="285.08" stroke="#777" stroke-width="0.4"/>
<defs><linearGradient id="ka" x1="0" y1="0" x2="0" y2="1"><stop offset="0" stop-color="#e8301c"/><stop offset="0.5" stop-color="#000"/><stop offset="1" stop-color="#5cc81e"/></linearGradient></defs>
<rect x="392.00" y="49.10" width="3.90" height="68.70" fill="url(#ka)"/>
<text x="398.20" y="55.30" font-size="3.8" fill="#333">3</text>
<text x="398.20" y="65.15" font-size="3.8" fill="#333">2</text>
<text x="398.20" y="75.00" font-size="3.8" fill="#333">1</text>
<text x="398.20" y="84.85" font-size="3.8" fill="#333">0</text>
<text x="398.20" y="94.70" font-size="3.8" fill="#333">-1</text>
<text x="398.20" y="104.55" font-size="3.8" fill="#333">-2</text>
<text x="398.20" y="114.40" font-size="3.8" fill="#333">-3</text>
<text x="402.20" y="52.80" font-size="4.0" fill="#333">class</text>
<rect x="402.20" y="54.00" width="5.60" height="6.40" fill="#e2311d"/>
<rect x="402.20" y="60.60" width="5.60" height="6.40" fill="#4cbf1e"/>
<text x="410.00" y="59.60" font-size="6.3" textLength="33.7" lengthAdjust="spacingAndGlyphs" fill="#222">Gr.B: SAH-NIO</text>
<text x="410.00" y="66.20" font-size="6.3" textLength="30.2" lengthAdjust="spacingAndGlyphs" fill="#222">Gr.A: SAH-IO</text>
<ellipse cx="528.40" cy="167.00" rx="24.00" ry="62.50" fill="#ffd0d5" transform="rotate(-9.4 528.40 167.00)"/>
<ellipse cx="623.80" cy="167.00" rx="42.10" ry="90.00" fill="#d9f5c9" transform="rotate(8.5 623.80 167.00)"/>
<line x1="517.20" y1="54.60" x2="517.20" y2="279.00" stroke="#d6d6d6" stroke-width="0.5" stroke-dasharray="1.2,1.2"/>
<line x1="562.30" y1="54.60" x2="562.30" y2="279.00" stroke="#d6d6d6" stroke-width="0.5" stroke-dasharray="1.2,1.2"/>
<line x1="607.10" y1="54.60" x2="607.10" y2="279.00" stroke="#d6d6d6" stroke-width="0.5" stroke-dasharray="1.2,1.2"/>
<line x1="651.50" y1="54.60" x2="651.50" y2="279.00" stroke="#d6d6d6" stroke-width="0.5" stroke-dasharray="1.2,1.2"/>
<line x1="480.50" y1="95.10" x2="689.70" y2="95.10" stroke="#d6d6d6" stroke-width="0.5" stroke-dasharray="1.2,1.2"/>
<line x1="480.50" y1="167.10" x2="689.70" y2="167.10" stroke="#d6d6d6" stroke-width="0.5" stroke-dasharray="1.2,1.2"/>
<line x1="480.50" y1="238.70" x2="689.70" y2="238.70" stroke="#d6d6d6" stroke-width="0.5" stroke-dasharray="1.2,1.2"/>
<path d="M524.50,136.00 L526.15,138.70 L522.85,138.70 Z" fill="none" stroke="#e8342c" stroke-width="0.6"/>
<path d="M529.50,134.30 L531.15,137.00 L527.85,137.00 Z" fill="none" stroke="#e8342c" stroke-width="0.6"/>
<text x="532.10" y="137.10" font-size="4.1" font-weight="bold" textLength="16.275000000000002" lengthAdjust="spacingAndGlyphs" fill="#333">Sample8</text>
<path d="M512.20,141.10 L513.85,143.80 L510.55,143.80 Z" fill="none" stroke="#e8342c" stroke-width="0.6"/>
<text x="514.80" y="143.90" font-size="4.1" font-weight="bold" textLength="18.6" lengthAdjust="spacingAndGlyphs" fill="#333">Sample12</text>
<path d="M534.60,146.50 L536.25,149.20 L532.95,149.20 Z" fill="none" stroke="#e8342c" stroke-width="0.6"/>
<text x="537.20" y="149.30" font-size="4.1" font-weight="bold" textLength="16.275000000000002" lengthAdjust="spacingAndGlyphs" fill="#333">Sample9</text>
<path d="M517.30,178.40 L518.95,181.10 L515.65,181.10 Z" fill="none" stroke="#e8342c" stroke-width="0.6"/>
<text x="519.90" y="181.20" font-size="4.1" font-weight="bold" textLength="18.6" lengthAdjust="spacingAndGlyphs" fill="#333">Sample11</text>
<path d="M516.00,181.60 L517.65,184.30 L514.35,184.30 Z" fill="none" stroke="#e8342c" stroke-width="0.6"/>
<text x="518.60" y="184.40" font-size="4.1" font-weight="bold" textLength="18.6" lengthAdjust="spacingAndGlyphs" fill="#333">Sample13</text>
<path d="M537.10,190.60 L538.75,193.30 L535.45,193.30 Z" fill="none" stroke="#e8342c" stroke-width="0.6"/>
<text x="539.70" y="193.40" font-size="4.1" font-weight="bold" textLength="18.6" lengthAdjust="spacingAndGlyphs" fill="#333">Sample14</text>
<path d="M538.40,190.10 L540.05,192.80 L536.75,192.80 Z" fill="none" stroke="#e8342c" stroke-width="0.6"/>
<text x="541.00" y="192.90" font-size="4.1" font-weight="bold" textLength="18.6" lengthAdjust="spacingAndGlyphs" fill="#333">Sample10</text>
<line x1="621.60" y1="111.80" x2="624.40" y2="111.80" stroke="#5cc83c" stroke-width="0.6"/>
<line x1="623.00" y1="110.40" x2="623.00" y2="113.20" stroke="#5cc83c" stroke-width="0.6"/>
<text x="625.80" y="113.10" font-size="4.1" font-weight="bold" textLength="16.275000000000002" lengthAdjust="spacingAndGlyphs" fill="#333">Sample2</text>
<line x1="625.20" y1="156.20" x2="628.00" y2="156.20" stroke="#5cc83c" stroke-width="0.6"/>
<line x1="626.60" y1="154.80" x2="626.60" y2="157.60" stroke="#5cc83c" stroke-width="0.6"/>
<text x="629.40" y="157.50" font-size="4.1" font-weight="bold" textLength="16.275000000000002" lengthAdjust="spacingAndGlyphs" fill="#333">Sample5</text>
<line x1="636.90" y1="171.10" x2="639.70" y2="171.10" stroke="#5cc83c" stroke-width="0.6"/>
<line x1="638.30" y1="169.70" x2="638.30" y2="172.50" stroke="#5cc83c" stroke-width="0.6"/>
<text x="641.10" y="172.40" font-size="4.1" font-weight="bold" textLength="16.275000000000002" lengthAdjust="spacingAndGlyphs" fill="#333">Sample4</text>
<line x1="636.40" y1="189.90" x2="639.20" y2="189.90" stroke="#5cc83c" stroke-width="0.6"/>
<line x1="637.80" y1="188.50" x2="637.80" y2="191.30" stroke="#5cc83c" stroke-width="0.6"/>
<text x="640.60" y="191.20" font-size="4.1" font-weight="bold" textLength="16.275000000000002" lengthAdjust="spacingAndGlyphs" fill="#333">Sample3</text>
<line x1="593.10" y1="206.70" x2="595.90" y2="206.70" stroke="#5cc83c" stroke-width="0.6"/>
<line x1="594.50" y1="205.30" x2="594.50" y2="208.10" stroke="#5cc83c" stroke-width="0.6"/>
<text x="597.30" y="208.00" font-size="4.1" font-weight="bold" textLength="16.275000000000002" lengthAdjust="spacingAndGlyphs" fill="#333">Sample1</text>
<rect x="480.50" y="54.60" width="209.20" height="224.40" fill="none" stroke="#555" stroke-width="0.9"/>
<line x1="517.20" y1="279.00" x2="517.20" y2="282.60" stroke="#555" stroke-width="0.7"/>
<text x="517.20" y="291.00" font-size="4.6" text-anchor="middle" fill="#333">-20</text>
<line x1="562.30" y1="279.00" x2="562.30" y2="282.60" stroke="#555" stroke-width="0.7"/>
<text x="562.30" y="291.00" font-size="4.6" text-anchor="middle" fill="#333">0</text>
<line x1="607.10" y1="279.00" x2="607.10" y2="282.60" stroke="#555" stroke-width="0.7"/>
<text x="607.10" y="291.00" font-size="4.6" text-anchor="middle" fill="#333">20</text>
<line x1="651.50" y1="279.00" x2="651.50" y2="282.60" stroke="#555" stroke-width="0.7"/>
<text x="651.50" y="291.00" font-size="4.6" text-anchor="middle" fill="#333">40</text>
<line x1="476.90" y1="95.10" x2="480.50" y2="95.10" stroke="#555" stroke-width="0.7"/>
<text x="0" y="0" font-size="4.6" text-anchor="middle" fill="#333" transform="translate(473.90,95.10) rotate(-90)">50</text>
<line x1="476.90" y1="167.10" x2="480.50" y2="167.10" stroke="#555" stroke-width="0.7"/>
<text x="0" y="0" font-size="4.6" text-anchor="middle" fill="#333" transform="translate(473.90,167.10) rotate(-90)">0</text>
<line x1="476.90" y1="238.70" x2="480.50" y2="238.70" stroke="#555" stroke-width="0.7"/>
<text x="0" y="0" font-size="4.6" text-anchor="middle" fill="#333" transform="translate(473.90,238.70) rotate(-90)">-50</text>
<text x="585.40" y="48.20" font-size="5.8" font-weight="bold" text-anchor="middle" textLength="32.4" lengthAdjust="spacingAndGlyphs" fill="#222">Scores Plot</text>
<text x="585.00" y="302.20" font-size="5.0" text-anchor="middle" textLength="46.6" lengthAdjust="spacingAndGlyphs" fill="#333">T score [1] ( 16.6 %)</text>
<text x="0" y="0" font-size="5.0" text-anchor="middle" fill="#333" textLength="78.6" lengthAdjust="spacingAndGlyphs" transform="translate(462.60,167.00) rotate(-90)">Orthogonal T score [1] ( 18.9 %)</text>
<path d="M642.70,57.90 L646.30,63.60 L639.10,63.60 Z" fill="none" stroke="#e2231a" stroke-width="1.30"/>
<path d="M644.50,67.00 V75.00 M640.50,71.00 H648.50" stroke="#22aa2a" stroke-width="2.40" fill="none"/>
<text x="650.70" y="64.60" font-size="5.6" font-weight="bold" textLength="33.6" lengthAdjust="spacingAndGlyphs" fill="#e2231a">Gr.B: SAHNIO</text>
<text x="651.90" y="73.00" font-size="5.6" font-weight="bold" textLength="30.9" lengthAdjust="spacingAndGlyphs" fill="#e2231a">Gr.A : SAHIO</text>
<text x="487.30" y="66.70" font-size="9.0" textLength="43.4" lengthAdjust="spacingAndGlyphs" fill="#111">Liver biopsy</text>
<text x="532.10" y="139.00" font-size="4.1" textLength="16.3" lengthAdjust="spacingAndGlyphs" fill="#333">Sample6</text>
<line x1="24.50" y1="527.89" x2="24.50" y2="526.11" stroke="#9a9a9a" stroke-width="0.45"/>
<rect x="23.60" y="527.89" width="1.80" height="7.11" fill="#a4a4a4"/>
<line x1="27.15" y1="494.71" x2="27.15" y2="487.01" stroke="#555" stroke-width="0.45"/>
<rect x="26.20" y="494.71" width="1.90" height="40.29" fill="#000"/>
<polygon points="27.15,481.35 27.58,482.21 28.53,482.35 27.84,483.02 28.00,483.97 27.15,483.53 26.30,483.97 26.46,483.02 25.77,482.35 26.72,482.21" fill="#2a2a2a"/>
<line x1="30.90" y1="526.71" x2="30.90" y2="524.93" stroke="#9a9a9a" stroke-width="0.45"/>
<rect x="30.00" y="526.71" width="1.80" height="8.29" fill="#a4a4a4"/>
<line x1="33.25" y1="508.93" x2="33.25" y2="498.26" stroke="#555" stroke-width="0.45"/>
<rect x="32.30" y="508.93" width="1.90" height="26.07" fill="#000"/>
<polygon points="33.25,493.55 33.68,494.41 34.63,494.55 33.94,495.22 34.10,496.17 33.25,495.73 32.40,496.17 32.56,495.22 31.87,494.55 32.82,494.41" fill="#2a2a2a"/>
<line x1="37.30" y1="526.71" x2="37.30" y2="524.34" stroke="#9a9a9a" stroke-width="0.45"/>
<rect x="36.40" y="526.71" width="1.80" height="8.29" fill="#a4a4a4"/>
<line x1="39.75" y1="511.30" x2="39.75" y2="504.78" stroke="#555" stroke-width="0.45"/>
<rect x="38.80" y="511.30" width="1.90" height="23.70" fill="#000"/>
<polygon points="39.75,499.05 40.18,499.91 41.13,500.05 40.44,500.72 40.60,501.67 39.75,501.23 38.90,501.67 39.06,500.72 38.37,500.05 39.32,499.91" fill="#2a2a2a"/>
<line x1="43.40" y1="518.41" x2="43.40" y2="510.12" stroke="#9a9a9a" stroke-width="0.45"/>
<rect x="42.50" y="518.41" width="1.80" height="16.59" fill="#a4a4a4"/>
<line x1="46.05" y1="525.52" x2="46.05" y2="524.34" stroke="#555" stroke-width="0.45"/>
<rect x="45.10" y="525.52" width="1.90" height="9.48" fill="#000"/>
<polygon points="43.40,503.55 43.83,504.41 44.78,504.55 44.09,505.22 44.25,506.17 43.40,505.73 42.55,506.17 42.71,505.22 42.02,504.55 42.97,504.41" fill="#2a2a2a"/>
<line x1="49.70" y1="519.00" x2="49.70" y2="510.12" stroke="#9a9a9a" stroke-width="0.45"/>
<rect x="48.80" y="519.00" width="1.80" height="16.00" fill="#a4a4a4"/>
<line x1="52.35" y1="524.93" x2="52.35" y2="523.15" stroke="#555" stroke-width="0.45"/>
<rect x="51.40" y="524.93" width="1.90" height="10.07" fill="#000"/>
<polygon points="49.70,503.55 50.13,504.41 51.08,504.55 50.39,505.22 50.55,506.17 49.70,505.73 48.85,506.17 49.01,505.22 48.32,504.55 49.27,504.41" fill="#2a2a2a"/>
<line x1="56.00" y1="529.67" x2="56.00" y2="527.89" stroke="#9a9a9a" stroke-width="0.45"/>
<rect x="55.10" y="529.67" width="1.80" height="5.33" fill="#a4a4a4"/>
<line x1="58.45" y1="476.94" x2="58.45" y2="465.68" stroke="#555" stroke-width="0.45"/>
<rect x="57.50" y="476.94" width="1.90" height="58.07" fill="#000"/>
<polygon points="58.45,464.05 58.88,464.91 59.83,465.05 59.14,465.72 59.30,466.67 58.45,466.23 57.60,466.67 57.76,465.72 57.07,465.05 58.02,464.91" fill="#2a2a2a"/>
<line x1="68.00" y1="531.45" x2="68.00" y2="523.15" stroke="#9a9a9a" stroke-width="0.45"/>
<rect x="67.10" y="531.45" width="1.80" height="3.55" fill="#a4a4a4"/>
<rect x="69.30" y="440.60" width="1.90" height="94.40" fill="#000"/>
<rect x="69.90" y="435.30" width="0.70" height="2.20" fill="#000"/>
<polygon points="70.25,431.15 70.68,432.01 71.63,432.15 70.94,432.82 71.10,433.77 70.25,433.33 69.40,433.77 69.56,432.82 68.87,432.15 69.82,432.01" fill="#2a2a2a"/>
<line x1="74.30" y1="527.30" x2="74.30" y2="526.11" stroke="#9a9a9a" stroke-width="0.45"/>
<rect x="73.40" y="527.30" width="1.80" height="7.70" fill="#a4a4a4"/>
<line x1="76.55" y1="497.67" x2="76.55" y2="489.97" stroke="#555" stroke-width="0.45"/>
<rect x="75.60" y="497.67" width="1.90" height="37.33" fill="#000"/>
<polygon points="76.55,484.55 76.98,485.41 77.93,485.55 77.24,486.22 77.40,487.17 76.55,486.73 75.70,487.17 75.86,486.22 75.17,485.55 76.12,485.41" fill="#2a2a2a"/>
<line x1="80.40" y1="527.30" x2="80.40" y2="518.41" stroke="#9a9a9a" stroke-width="0.45"/>
<rect x="79.50" y="527.30" width="1.80" height="7.70" fill="#a4a4a4"/>
<line x1="82.65" y1="512.49" x2="82.65" y2="507.75" stroke="#555" stroke-width="0.45"/>
<rect x="81.70" y="512.49" width="1.90" height="22.51" fill="#000"/>
<polygon points="82.65,501.55 83.08,502.41 84.03,502.55 83.34,503.22 83.50,504.17 82.65,503.73 81.80,504.17 81.96,503.22 81.27,502.55 82.22,502.41" fill="#2a2a2a"/>
<line x1="86.50" y1="513.08" x2="86.50" y2="503.00" stroke="#9a9a9a" stroke-width="0.45"/>
<rect x="85.60" y="513.08" width="1.80" height="21.92" fill="#a4a4a4"/>
<line x1="88.75" y1="531.45" x2="88.75" y2="530.85" stroke="#555" stroke-width="0.45"/>
<rect x="87.80" y="531.45" width="1.90" height="3.55" fill="#000"/>
<polygon points="86.50,497.55 86.93,498.41 87.88,498.55 87.19,499.22 87.35,500.17 86.50,499.73 85.65,500.17 85.81,499.22 85.12,498.55 86.07,498.41" fill="#2a2a2a"/>
<line x1="92.60" y1="527.30" x2="92.60" y2="516.04" stroke="#9a9a9a" stroke-width="0.45"/>
<rect x="91.70" y="527.30" width="1.80" height="7.70" fill="#a4a4a4"/>
<line x1="94.85" y1="511.30" x2="94.85" y2="508.93" stroke="#555" stroke-width="0.45"/>
<rect x="93.90" y="511.30" width="1.90" height="23.70" fill="#000"/>
<polygon points="94.85,503.55 95.28,504.41 96.23,504.55 95.54,505.22 95.70,506.17 94.85,505.73 94.00,506.17 94.16,505.22 93.47,504.55 94.42,504.41" fill="#2a2a2a"/>
<line x1="104.90" y1="533.22" x2="104.90" y2="532.63" stroke="#9a9a9a" stroke-width="0.45"/>
<rect x="104.00" y="533.22" width="1.80" height="1.78" fill="#a4a4a4"/>
<rect x="106.30" y="440.10" width="1.90" height="94.90" fill="#000"/>
<rect x="106.30" y="431.70" width="1.90" height="6.20" fill="#000"/>
<polygon points="107.25,425.25 107.68,426.11 108.63,426.25 107.94,426.92 108.10,427.87 107.25,427.43 106.40,427.87 106.56,426.92 105.87,426.25 106.82,426.11" fill="#2a2a2a"/>
<line x1="111.20" y1="526.11" x2="111.20" y2="521.97" stroke="#9a9a9a" stroke-width="0.45"/>
<rect x="110.30" y="526.11" width="1.80" height="8.89" fill="#a4a4a4"/>
<line x1="113.35" y1="502.41" x2="113.35" y2="500.04" stroke="#555" stroke-width="0.45"/>
<rect x="112.40" y="502.41" width="1.90" height="32.59" fill="#000"/>
<polygon points="113.35,494.55 113.78,495.41 114.73,495.55 114.04,496.22 114.20,497.17 113.35,496.73 112.50,497.17 112.66,496.22 111.97,495.55 112.92,495.41" fill="#2a2a2a"/>
<line x1="117.30" y1="517.82" x2="117.30" y2="513.08" stroke="#9a9a9a" stroke-width="0.45"/>
<rect x="116.40" y="517.82" width="1.80" height="17.18" fill="#a4a4a4"/>
<line x1="119.45" y1="526.11" x2="119.45" y2="522.56" stroke="#555" stroke-width="0.45"/>
<rect x="118.50" y="526.11" width="1.90" height="8.89" fill="#000"/>
<polygon points="117.30,506.55 117.73,507.41 118.68,507.55 117.99,508.22 118.15,509.17 117.30,508.73 116.45,509.17 116.61,508.22 115.92,507.55 116.87,507.41" fill="#2a2a2a"/>
<line x1="123.40" y1="527.30" x2="123.40" y2="523.15" stroke="#9a9a9a" stroke-width="0.45"/>
<rect x="122.50" y="527.30" width="1.80" height="7.70" fill="#a4a4a4"/>
<line x1="125.55" y1="500.04" x2="125.55" y2="493.52" stroke="#555" stroke-width="0.45"/>
<rect x="124.60" y="500.04" width="1.90" height="34.96" fill="#000"/>
<polygon points="125.55,487.55 125.98,488.41 126.93,488.55 126.24,489.22 126.40,490.17 125.55,489.73 124.70,490.17 124.86,489.22 124.17,488.55 125.12,488.41" fill="#2a2a2a"/>
<line x1="129.50" y1="528.48" x2="129.50" y2="526.71" stroke="#9a9a9a" stroke-width="0.45"/>
<rect x="128.60" y="528.48" width="1.80" height="6.52" fill="#a4a4a4"/>
<line x1="131.65" y1="498.86" x2="131.65" y2="492.93" stroke="#555" stroke-width="0.45"/>
<rect x="130.70" y="498.86" width="1.90" height="36.14" fill="#000"/>
<polygon points="131.65,487.55 132.08,488.41 133.03,488.55 132.34,489.22 132.50,490.17 131.65,489.73 130.80,490.17 130.96,489.22 130.27,488.55 131.22,488.41" fill="#2a2a2a"/>
<line x1="135.60" y1="529.67" x2="135.60" y2="528.48" stroke="#9a9a9a" stroke-width="0.45"/>
<rect x="134.70" y="529.67" width="1.80" height="5.33" fill="#a4a4a4"/>
<line x1="137.75" y1="487.60" x2="137.75" y2="461.53" stroke="#555" stroke-width="0.45"/>
<rect x="136.80" y="487.60" width="1.90" height="47.40" fill="#000"/>
<polygon points="137.75,453.15 138.18,454.01 139.13,454.15 138.44,454.82 138.60,455.77 137.75,455.33 136.90,455.77 137.06,454.82 136.37,454.15 137.32,454.01" fill="#2a2a2a"/>
<line x1="140.80" y1="526.71" x2="140.80" y2="525.52" stroke="#9a9a9a" stroke-width="0.45"/>
<rect x="139.90" y="526.71" width="1.80" height="8.29" fill="#a4a4a4"/>
<line x1="143.15" y1="511.77" x2="143.15" y2="501.82" stroke="#555" stroke-width="0.45"/>
<rect x="142.20" y="511.77" width="1.90" height="23.23" fill="#000"/>
<polygon points="143.15,491.95 143.58,492.81 144.53,492.95 143.84,493.62 144.00,494.57 143.15,494.12 142.30,494.57 142.46,493.62 141.77,492.95 142.72,492.81" fill="#2a2a2a"/>
<line x1="146.70" y1="516.63" x2="146.70" y2="513.67" stroke="#9a9a9a" stroke-width="0.45"/>
<rect x="145.80" y="516.63" width="1.80" height="18.37" fill="#a4a4a4"/>
<line x1="149.05" y1="526.71" x2="149.05" y2="525.52" stroke="#555" stroke-width="0.45"/>
<rect x="148.10" y="526.71" width="1.90" height="8.29" fill="#000"/>
<polygon points="146.70,506.35 147.13,507.21 148.08,507.35 147.39,508.02 147.55,508.97 146.70,508.53 145.85,508.97 146.01,508.02 145.32,507.35 146.27,507.21" fill="#2a2a2a"/>
<line x1="152.80" y1="528.13" x2="152.80" y2="526.71" stroke="#9a9a9a" stroke-width="0.45"/>
<rect x="151.90" y="528.13" width="1.80" height="6.87" fill="#a4a4a4"/>
<line x1="155.15" y1="503.95" x2="155.15" y2="495.89" stroke="#555" stroke-width="0.45"/>
<rect x="154.20" y="503.95" width="1.90" height="31.05" fill="#000"/>
<polygon points="155.15,489.15 155.58,490.01 156.53,490.15 155.84,490.82 156.00,491.77 155.15,491.33 154.30,491.77 154.46,490.82 153.77,490.15 154.72,490.01" fill="#2a2a2a"/>
<line x1="164.80" y1="528.48" x2="164.80" y2="527.30" stroke="#9a9a9a" stroke-width="0.45"/>
<rect x="163.90" y="528.48" width="1.80" height="6.52" fill="#a4a4a4"/>
<line x1="167.15" y1="471.96" x2="167.15" y2="463.54" stroke="#555" stroke-width="0.45"/>
<rect x="166.20" y="471.96" width="1.90" height="63.04" fill="#000"/>
<polygon points="167.15,453.15 167.58,454.01 168.53,454.15 167.84,454.82 168.00,455.77 167.15,455.33 166.30,455.77 166.46,454.82 165.77,454.15 166.72,454.01" fill="#2a2a2a"/>
<line x1="171.10" y1="518.65" x2="171.10" y2="516.63" stroke="#9a9a9a" stroke-width="0.45"/>
<rect x="170.20" y="518.65" width="1.80" height="16.35" fill="#a4a4a4"/>
<line x1="173.25" y1="527.53" x2="173.25" y2="526.71" stroke="#555" stroke-width="0.45"/>
<rect x="172.30" y="527.53" width="1.90" height="7.47" fill="#000"/>
<polygon points="171.10,510.25 171.53,511.11 172.48,511.25 171.79,511.92 171.95,512.87 171.10,512.42 170.25,512.87 170.41,511.92 169.72,511.25 170.67,511.11" fill="#2a2a2a"/>
<line x1="177.00" y1="527.18" x2="177.00" y2="525.52" stroke="#9a9a9a" stroke-width="0.45"/>
<rect x="176.10" y="527.18" width="1.80" height="7.82" fill="#a4a4a4"/>
<line x1="179.55" y1="505.85" x2="179.55" y2="497.08" stroke="#555" stroke-width="0.45"/>
<rect x="178.60" y="505.85" width="1.90" height="29.15" fill="#000"/>
<polygon points="179.55,490.55 179.98,491.41 180.93,491.55 180.24,492.22 180.40,493.17 179.55,492.73 178.70,493.17 178.86,492.22 178.17,491.55 179.12,491.41" fill="#2a2a2a"/>
<line x1="183.10" y1="527.53" x2="183.10" y2="525.52" stroke="#9a9a9a" stroke-width="0.45"/>
<rect x="182.20" y="527.53" width="1.80" height="7.47" fill="#a4a4a4"/>
<line x1="185.65" y1="506.20" x2="185.65" y2="494.12" stroke="#555" stroke-width="0.45"/>
<rect x="184.70" y="506.20" width="1.90" height="28.80" fill="#000"/>
<polygon points="185.65,490.55 186.08,491.41 187.03,491.55 186.34,492.22 186.50,493.17 185.65,492.73 184.80,493.17 184.96,492.22 184.27,491.55 185.22,491.41" fill="#2a2a2a"/>
<rect x="188.70" y="521.61" width="1.80" height="13.39" fill="#a4a4a4"/>
<rect x="190.80" y="440.10" width="1.90" height="94.90" fill="#000"/>
<rect x="190.80" y="413.80" width="1.90" height="24.10" fill="#000"/>
<rect x="190.80" y="407.00" width="1.90" height="4.60" fill="#000"/>
<polygon points="191.75,397.05 192.18,397.91 193.13,398.05 192.44,398.72 192.60,399.67 191.75,399.23 190.90,399.67 191.06,398.72 190.37,398.05 191.32,397.91" fill="#2a2a2a"/>
<rect x="195.00" y="522.20" width="1.80" height="12.80" fill="#a4a4a4"/>
<rect x="196.90" y="440.10" width="1.90" height="94.90" fill="#000"/>
<rect x="196.90" y="413.80" width="1.90" height="24.10" fill="#000"/>
<rect x="196.90" y="404.30" width="1.90" height="7.30" fill="#000"/>
<polygon points="197.85,397.05 198.28,397.91 199.23,398.05 198.54,398.72 198.70,399.67 197.85,399.23 197.00,399.67 197.16,398.72 196.47,398.05 197.42,397.91" fill="#2a2a2a"/>
<line x1="201.80" y1="529.08" x2="201.80" y2="525.52" stroke="#9a9a9a" stroke-width="0.45"/>
<rect x="200.90" y="529.08" width="1.80" height="5.92" fill="#a4a4a4"/>
<line x1="204.15" y1="492.10" x2="204.15" y2="484.76" stroke="#555" stroke-width="0.45"/>
<rect x="203.20" y="492.10" width="1.90" height="42.90" fill="#000"/>
<polygon points="204.15,474.85 204.58,475.71 205.53,475.85 204.84,476.52 205.00,477.47 204.15,477.03 203.30,477.47 203.46,476.52 202.77,475.85 203.72,475.71" fill="#2a2a2a"/>
<line x1="208.10" y1="516.63" x2="208.10" y2="511.77" stroke="#9a9a9a" stroke-width="0.45"/>
<rect x="207.20" y="516.63" width="1.80" height="18.37" fill="#a4a4a4"/>
<line x1="210.25" y1="526.59" x2="210.25" y2="525.52" stroke="#555" stroke-width="0.45"/>
<rect x="209.30" y="526.59" width="1.90" height="8.41" fill="#000"/>
<polygon points="208.10,503.55 208.53,504.41 209.48,504.55 208.79,505.22 208.95,506.17 208.10,505.73 207.25,506.17 207.41,505.22 206.72,504.55 207.67,504.41" fill="#2a2a2a"/>
<line x1="214.00" y1="529.08" x2="214.00" y2="524.34" stroke="#9a9a9a" stroke-width="0.45"/>
<rect x="213.10" y="529.08" width="1.80" height="5.92" fill="#a4a4a4"/>
<line x1="216.25" y1="488.79" x2="216.25" y2="477.29" stroke="#555" stroke-width="0.45"/>
<rect x="215.30" y="488.79" width="1.90" height="46.21" fill="#000"/>
<polygon points="216.25,470.85 216.68,471.71 217.63,471.85 216.94,472.52 217.10,473.47 216.25,473.03 215.40,473.47 215.56,472.52 214.87,471.85 215.82,471.71" fill="#2a2a2a"/>
<line x1="220.10" y1="515.09" x2="220.10" y2="510.83" stroke="#9a9a9a" stroke-width="0.45"/>
<rect x="219.20" y="515.09" width="1.80" height="19.91" fill="#a4a4a4"/>
<line x1="222.55" y1="528.13" x2="222.55" y2="526.71" stroke="#555" stroke-width="0.45"/>
<rect x="221.60" y="528.13" width="1.90" height="6.87" fill="#000"/>
<polygon points="220.10,506.35 220.53,507.21 221.48,507.35 220.79,508.02 220.95,508.97 220.10,508.53 219.25,508.97 219.41,508.02 218.72,507.35 219.67,507.21" fill="#2a2a2a"/>
<line x1="226.20" y1="518.29" x2="226.20" y2="514.38" stroke="#9a9a9a" stroke-width="0.45"/>
<rect x="225.30" y="518.29" width="1.80" height="16.71" fill="#a4a4a4"/>
<line x1="228.65" y1="526.11" x2="228.65" y2="524.93" stroke="#555" stroke-width="0.45"/>
<rect x="227.70" y="526.11" width="1.90" height="8.89" fill="#000"/>
<polygon points="226.20,501.95 226.63,502.81 227.58,502.95 226.89,503.62 227.05,504.57 226.20,504.12 225.35,504.57 225.51,503.62 224.82,502.95 225.77,502.81" fill="#2a2a2a"/>
<line x1="232.30" y1="516.28" x2="232.30" y2="509.40" stroke="#9a9a9a" stroke-width="0.45"/>
<rect x="231.40" y="516.28" width="1.80" height="18.72" fill="#a4a4a4"/>
<line x1="234.75" y1="527.18" x2="234.75" y2="526.11" stroke="#555" stroke-width="0.45"/>
<rect x="233.80" y="527.18" width="1.90" height="7.82" fill="#000"/>
<polygon points="232.30,497.05 232.73,497.91 233.68,498.05 232.99,498.72 233.15,499.67 232.30,499.23 231.45,499.67 231.61,498.72 230.92,498.05 231.87,497.91" fill="#2a2a2a"/>
<line x1="238.40" y1="516.04" x2="238.40" y2="507.27" stroke="#9a9a9a" stroke-width="0.45"/>
<rect x="237.50" y="516.04" width="1.80" height="18.96" fill="#a4a4a4"/>
<line x1="240.85" y1="530.02" x2="240.85" y2="529.08" stroke="#555" stroke-width="0.45"/>
<rect x="239.90" y="530.02" width="1.90" height="4.98" fill="#000"/>
<polygon points="238.40,492.15 238.83,493.01 239.78,493.15 239.09,493.82 239.25,494.77 238.40,494.33 237.55,494.77 237.71,493.82 237.02,493.15 237.97,493.01" fill="#2a2a2a"/>
<line x1="244.50" y1="526.59" x2="244.50" y2="519.60" stroke="#9a9a9a" stroke-width="0.45"/>
<rect x="243.60" y="526.59" width="1.80" height="8.41" fill="#a4a4a4"/>
<line x1="246.95" y1="513.79" x2="246.95" y2="503.36" stroke="#555" stroke-width="0.45"/>
<rect x="246.00" y="513.79" width="1.90" height="21.21" fill="#000"/>
<polygon points="246.95,485.05 247.38,485.91 248.33,486.05 247.64,486.72 247.80,487.67 246.95,487.23 246.10,487.67 246.26,486.72 245.57,486.05 246.52,485.91" fill="#2a2a2a"/>
<line x1="250.60" y1="527.53" x2="250.60" y2="521.02" stroke="#9a9a9a" stroke-width="0.45"/>
<rect x="249.70" y="527.53" width="1.80" height="7.47" fill="#a4a4a4"/>
<line x1="253.05" y1="506.80" x2="253.05" y2="497.08" stroke="#555" stroke-width="0.45"/>
<rect x="252.10" y="506.80" width="1.90" height="28.20" fill="#000"/>
<polygon points="253.05,479.35 253.48,480.21 254.43,480.35 253.74,481.02 253.90,481.97 253.05,481.53 252.20,481.97 252.36,481.02 251.67,480.35 252.62,480.21" fill="#2a2a2a"/>
<line x1="256.90" y1="531.45" x2="256.90" y2="530.85" stroke="#9a9a9a" stroke-width="0.45"/>
<rect x="256.00" y="531.45" width="1.80" height="3.55" fill="#a4a4a4"/>
<line x1="259.15" y1="454.66" x2="259.15" y2="444.94" stroke="#555" stroke-width="0.45"/>
<rect x="258.20" y="454.66" width="1.90" height="80.34" fill="#000"/>
<polygon points="259.15,434.45 259.58,435.31 260.53,435.45 259.84,436.12 260.00,437.07 259.15,436.62 258.30,437.07 258.46,436.12 257.77,435.45 258.72,435.31" fill="#2a2a2a"/>
<line x1="263.20" y1="527.53" x2="263.20" y2="520.78" stroke="#9a9a9a" stroke-width="0.45"/>
<rect x="262.30" y="527.53" width="1.80" height="7.47" fill="#a4a4a4"/>
<line x1="265.45" y1="500.40" x2="265.45" y2="487.13" stroke="#555" stroke-width="0.45"/>
<rect x="264.50" y="500.40" width="1.90" height="34.60" fill="#000"/>
<polygon points="265.45,474.85 265.88,475.71 266.83,475.85 266.14,476.52 266.30,477.47 265.45,477.03 264.60,477.47 264.76,476.52 264.07,475.85 265.02,475.71" fill="#2a2a2a"/>
<line x1="269.20" y1="532.63" x2="269.20" y2="532.04" stroke="#9a9a9a" stroke-width="0.45"/>
<rect x="268.30" y="532.63" width="1.80" height="2.37" fill="#a4a4a4"/>
<rect x="270.40" y="440.10" width="1.90" height="94.90" fill="#000"/>
<rect x="270.40" y="414.40" width="1.90" height="23.50" fill="#000"/>
<polygon points="271.35,406.85 271.78,407.71 272.73,407.85 272.04,408.52 272.20,409.47 271.35,409.03 270.50,409.47 270.66,408.52 269.97,407.85 270.92,407.71" fill="#2a2a2a"/>
<line x1="275.10" y1="529.08" x2="275.10" y2="522.56" stroke="#9a9a9a" stroke-width="0.45"/>
<rect x="274.20" y="529.08" width="1.80" height="5.92" fill="#a4a4a4"/>
<line x1="277.45" y1="484.76" x2="277.45" y2="465.08" stroke="#555" stroke-width="0.45"/>
<rect x="276.50" y="484.76" width="1.90" height="50.24" fill="#000"/>
<polygon points="277.45,453.75 277.88,454.61 278.83,454.75 278.14,455.42 278.30,456.37 277.45,455.93 276.60,456.37 276.76,455.42 276.07,454.75 277.02,454.61" fill="#2a2a2a"/>
<line x1="281.40" y1="518.05" x2="281.40" y2="513.08" stroke="#9a9a9a" stroke-width="0.45"/>
<rect x="280.50" y="518.05" width="1.80" height="16.95" fill="#a4a4a4"/>
<line x1="283.55" y1="526.11" x2="283.55" y2="524.93" stroke="#555" stroke-width="0.45"/>
<rect x="282.60" y="526.11" width="1.90" height="8.89" fill="#000"/>
<polygon points="281.40,494.55 281.83,495.41 282.78,495.55 282.09,496.22 282.25,497.17 281.40,496.73 280.55,497.17 280.71,496.22 280.02,495.55 280.97,495.41" fill="#2a2a2a"/>
<line x1="287.30" y1="528.48" x2="287.30" y2="518.41" stroke="#9a9a9a" stroke-width="0.45"/>
<rect x="286.40" y="528.48" width="1.80" height="6.52" fill="#a4a4a4"/>
<line x1="289.65" y1="500.40" x2="289.65" y2="490.09" stroke="#555" stroke-width="0.45"/>
<rect x="288.70" y="500.40" width="1.90" height="34.60" fill="#000"/>
<polygon points="289.65,478.75 290.08,479.61 291.03,479.75 290.34,480.42 290.50,481.37 289.65,480.93 288.80,481.37 288.96,480.42 288.27,479.75 289.22,479.61" fill="#2a2a2a"/>
<line x1="293.40" y1="527.18" x2="293.40" y2="524.93" stroke="#9a9a9a" stroke-width="0.45"/>
<rect x="292.50" y="527.18" width="1.80" height="7.82" fill="#a4a4a4"/>
<line x1="295.75" y1="507.86" x2="295.75" y2="498.98" stroke="#555" stroke-width="0.45"/>
<rect x="294.80" y="507.86" width="1.90" height="27.14" fill="#000"/>
<polygon points="295.75,490.55 296.18,491.41 297.13,491.55 296.44,492.22 296.60,493.17 295.75,492.73 294.90,493.17 295.06,492.22 294.37,491.55 295.32,491.41" fill="#2a2a2a"/>
<line x1="299.50" y1="515.68" x2="299.50" y2="509.40" stroke="#9a9a9a" stroke-width="0.45"/>
<rect x="298.60" y="515.68" width="1.80" height="19.32" fill="#a4a4a4"/>
<line x1="301.95" y1="527.89" x2="301.95" y2="526.71" stroke="#555" stroke-width="0.45"/>
<rect x="301.00" y="527.89" width="1.90" height="7.11" fill="#000"/>
<polygon points="299.50,501.95 299.93,502.81 300.88,502.95 300.19,503.62 300.35,504.57 299.50,504.12 298.65,504.57 298.81,503.62 298.12,502.95 299.07,502.81" fill="#2a2a2a"/>
<line x1="305.60" y1="526.59" x2="305.60" y2="518.41" stroke="#9a9a9a" stroke-width="0.45"/>
<rect x="304.70" y="526.59" width="1.80" height="8.41" fill="#a4a4a4"/>
<line x1="307.95" y1="512.72" x2="307.95" y2="505.49" stroke="#555" stroke-width="0.45"/>
<rect x="307.00" y="512.72" width="1.90" height="22.28" fill="#000"/>
<polygon points="307.95,497.85 308.38,498.71 309.33,498.85 308.64,499.52 308.80,500.47 307.95,500.03 307.10,500.47 307.26,499.52 306.57,498.85 307.52,498.71" fill="#2a2a2a"/>
<line x1="311.70" y1="514.14" x2="311.70" y2="504.55" stroke="#9a9a9a" stroke-width="0.45"/>
<rect x="310.80" y="514.14" width="1.80" height="20.86" fill="#a4a4a4"/>
<line x1="314.15" y1="528.96" x2="314.15" y2="527.89" stroke="#555" stroke-width="0.45"/>
<rect x="313.20" y="528.96" width="1.90" height="6.04" fill="#000"/>
<polygon points="311.70,490.95 312.13,491.81 313.08,491.95 312.39,492.62 312.55,493.57 311.70,493.12 310.85,493.57 311.01,492.62 310.32,491.95 311.27,491.81" fill="#2a2a2a"/>
<line x1="318.00" y1="529.43" x2="318.00" y2="528.48" stroke="#9a9a9a" stroke-width="0.45"/>
<rect x="317.10" y="529.43" width="1.80" height="5.57" fill="#a4a4a4"/>
<line x1="320.25" y1="457.98" x2="320.25" y2="451.69" stroke="#555" stroke-width="0.45"/>
<rect x="319.30" y="457.98" width="1.90" height="77.02" fill="#000"/>
<polygon points="320.25,441.75 320.68,442.61 321.63,442.75 320.94,443.42 321.10,444.37 320.25,443.93 319.40,444.37 319.56,443.42 318.87,442.75 319.82,442.61" fill="#2a2a2a"/>
<line x1="324.10" y1="527.53" x2="324.10" y2="520.78" stroke="#9a9a9a" stroke-width="0.45"/>
<rect x="323.20" y="527.53" width="1.80" height="7.47" fill="#a4a4a4"/>
<line x1="326.55" y1="505.26" x2="326.55" y2="496.01" stroke="#555" stroke-width="0.45"/>
<rect x="325.60" y="505.26" width="1.90" height="29.74" fill="#000"/>
<polygon points="326.55,484.65 326.98,485.51 327.93,485.65 327.24,486.32 327.40,487.27 326.55,486.83 325.70,487.27 325.86,486.32 325.17,485.65 326.12,485.51" fill="#2a2a2a"/>
<line x1="336.30" y1="531.45" x2="336.30" y2="530.85" stroke="#9a9a9a" stroke-width="0.45"/>
<rect x="335.40" y="531.45" width="1.80" height="3.55" fill="#a4a4a4"/>
<rect x="337.60" y="440.10" width="1.90" height="94.90" fill="#000"/>
<rect x="337.60" y="436.20" width="1.90" height="1.70" fill="#000"/>
<polygon points="338.55,424.05 338.98,424.91 339.93,425.05 339.24,425.72 339.40,426.67 338.55,426.23 337.70,426.67 337.86,425.72 337.17,425.05 338.12,424.91" fill="#2a2a2a"/>
<line x1="342.40" y1="528.48" x2="342.40" y2="524.34" stroke="#9a9a9a" stroke-width="0.45"/>
<rect x="341.50" y="528.48" width="1.80" height="6.52" fill="#a4a4a4"/>
<line x1="344.65" y1="487.13" x2="344.65" y2="480.25" stroke="#555" stroke-width="0.45"/>
<rect x="343.70" y="487.13" width="1.90" height="47.87" fill="#000"/>
<polygon points="344.65,467.35 345.08,468.21 346.03,468.35 345.34,469.02 345.50,469.97 344.65,469.53 343.80,469.97 343.96,469.02 343.27,468.35 344.22,468.21" fill="#2a2a2a"/>
<line x1="348.30" y1="529.90" x2="348.30" y2="521.37" stroke="#9a9a9a" stroke-width="0.45"/>
<rect x="347.40" y="529.90" width="1.80" height="5.10" fill="#a4a4a4"/>
<line x1="350.75" y1="479.90" x2="350.75" y2="467.93" stroke="#555" stroke-width="0.45"/>
<rect x="349.80" y="479.90" width="1.90" height="55.10" fill="#000"/>
<polygon points="350.75,455.55 351.18,456.41 352.13,456.55 351.44,457.22 351.60,458.17 350.75,457.73 349.90,458.17 350.06,457.22 349.37,456.55 350.32,456.41" fill="#2a2a2a"/>
<rect x="353.70" y="440.10" width="1.80" height="94.90" fill="#a4a4a4"/>
<rect x="353.70" y="431.00" width="1.80" height="6.90" fill="#a4a4a4"/>
<rect x="355.90" y="440.10" width="1.90" height="94.90" fill="#000"/>
<rect x="355.90" y="413.80" width="1.90" height="24.10" fill="#000"/>
<rect x="355.90" y="380.60" width="1.90" height="31.00" fill="#000"/>
<polygon points="356.85,369.05 357.28,369.91 358.23,370.05 357.54,370.72 357.70,371.67 356.85,371.23 356.00,371.67 356.16,370.72 355.47,370.05 356.42,369.91" fill="#2a2a2a"/>
<line x1="360.70" y1="525.52" x2="360.70" y2="517.82" stroke="#9a9a9a" stroke-width="0.45"/>
<rect x="359.80" y="525.52" width="1.80" height="9.48" fill="#a4a4a4"/>
<line x1="362.75" y1="501.58" x2="362.75" y2="495.07" stroke="#555" stroke-width="0.45"/>
<rect x="361.80" y="501.58" width="1.90" height="33.42" fill="#000"/>
<polygon points="362.75,487.05 363.18,487.91 364.13,488.05 363.44,488.72 363.60,489.67 362.75,489.23 361.90,489.67 362.06,488.72 361.37,488.05 362.32,487.91" fill="#2a2a2a"/>
<line x1="372.90" y1="525.76" x2="372.90" y2="517.82" stroke="#9a9a9a" stroke-width="0.45"/>
<rect x="372.00" y="525.76" width="1.80" height="9.24" fill="#a4a4a4"/>
<line x1="375.15" y1="505.85" x2="375.15" y2="499.45" stroke="#555" stroke-width="0.45"/>
<rect x="374.20" y="505.85" width="1.90" height="29.15" fill="#000"/>
<polygon points="375.15,487.25 375.58,488.11 376.53,488.25 375.84,488.92 376.00,489.87 375.15,489.43 374.30,489.87 374.46,488.92 373.77,488.25 374.72,488.11" fill="#2a2a2a"/>
<line x1="378.90" y1="519.00" x2="378.90" y2="512.37" stroke="#9a9a9a" stroke-width="0.45"/>
<rect x="378.00" y="519.00" width="1.80" height="16.00" fill="#a4a4a4"/>
<line x1="381.25" y1="527.89" x2="381.25" y2="523.74" stroke="#555" stroke-width="0.45"/>
<rect x="380.30" y="527.89" width="1.90" height="7.11" fill="#000"/>
<polygon points="378.90,501.35 379.33,502.21 380.28,502.35 379.59,503.02 379.75,503.97 378.90,503.53 378.05,503.97 378.21,503.02 377.52,502.35 378.47,502.21" fill="#2a2a2a"/>
<line x1="385.10" y1="528.96" x2="385.10" y2="526.11" stroke="#9a9a9a" stroke-width="0.45"/>
<rect x="384.20" y="528.96" width="1.80" height="6.04" fill="#a4a4a4"/>
<line x1="387.35" y1="492.70" x2="387.35" y2="483.81" stroke="#555" stroke-width="0.45"/>
<rect x="386.40" y="492.70" width="1.90" height="42.30" fill="#000"/>
<polygon points="387.35,473.85 387.78,474.71 388.73,474.85 388.04,475.52 388.20,476.47 387.35,476.03 386.50,476.47 386.66,475.52 385.97,474.85 386.92,474.71" fill="#2a2a2a"/>
<line x1="391.20" y1="527.53" x2="391.20" y2="525.52" stroke="#9a9a9a" stroke-width="0.45"/>
<rect x="390.30" y="527.53" width="1.80" height="7.47" fill="#a4a4a4"/>
<line x1="393.45" y1="502.89" x2="393.45" y2="498.03" stroke="#555" stroke-width="0.45"/>
<rect x="392.50" y="502.89" width="1.90" height="32.11" fill="#000"/>
<polygon points="393.45,491.15 393.88,492.01 394.83,492.15 394.14,492.82 394.30,493.77 393.45,493.33 392.60,493.77 392.76,492.82 392.07,492.15 393.02,492.01" fill="#2a2a2a"/>
<line x1="22.60" y1="440.10" x2="22.60" y2="535.30" stroke="#000" stroke-width="0.8"/>
<line x1="22.60" y1="413.80" x2="22.60" y2="437.90" stroke="#000" stroke-width="0.8"/>
<line x1="22.60" y1="378.80" x2="22.60" y2="411.60" stroke="#000" stroke-width="0.8"/>
<line x1="20.80" y1="437.90" x2="24.80" y2="437.90" stroke="#000" stroke-width="0.6"/>
<line x1="20.80" y1="440.10" x2="24.80" y2="440.10" stroke="#000" stroke-width="0.6"/>
<line x1="20.80" y1="411.60" x2="24.80" y2="411.60" stroke="#000" stroke-width="0.6"/>
<line x1="20.80" y1="413.80" x2="24.80" y2="413.80" stroke="#000" stroke-width="0.6"/>
<line x1="22.60" y1="535.00" x2="394.50" y2="535.00" stroke="#000" stroke-width="1.0"/>
<line x1="20.30" y1="535.00" x2="22.60" y2="535.00" stroke="#000" stroke-width="0.6"/>
<text x="18.80" y="537.30" font-size="6.4" font-weight="bold" text-anchor="end" textLength="3.82" lengthAdjust="spacingAndGlyphs" fill="#111">0</text>
<line x1="20.30" y1="511.30" x2="22.60" y2="511.30" stroke="#000" stroke-width="0.6"/>
<text x="18.80" y="513.60" font-size="6.4" font-weight="bold" text-anchor="end" textLength="3.82" lengthAdjust="spacingAndGlyphs" fill="#111">2</text>
<line x1="20.30" y1="487.60" x2="22.60" y2="487.60" stroke="#000" stroke-width="0.6"/>
<text x="18.80" y="489.90" font-size="6.4" font-weight="bold" text-anchor="end" textLength="3.82" lengthAdjust="spacingAndGlyphs" fill="#111">4</text>
<line x1="20.30" y1="463.90" x2="22.60" y2="463.90" stroke="#000" stroke-width="0.6"/>
<text x="18.80" y="466.20" font-size="6.4" font-weight="bold" text-anchor="end" textLength="3.82" lengthAdjust="spacingAndGlyphs" fill="#111">6</text>
<line x1="20.30" y1="440.10" x2="22.60" y2="440.10" stroke="#000" stroke-width="0.6"/>
<text x="18.80" y="442.40" font-size="6.4" font-weight="bold" text-anchor="end" textLength="3.82" lengthAdjust="spacingAndGlyphs" fill="#111">8</text>
<line x1="20.30" y1="433.20" x2="22.60" y2="433.20" stroke="#000" stroke-width="0.6"/>
<text x="18.80" y="435.50" font-size="6.4" font-weight="bold" text-anchor="end" textLength="7.64" lengthAdjust="spacingAndGlyphs" fill="#111">20</text>
<line x1="20.30" y1="423.60" x2="22.60" y2="423.60" stroke="#000" stroke-width="0.6"/>
<text x="18.80" y="425.90" font-size="6.4" font-weight="bold" text-anchor="end" textLength="7.64" lengthAdjust="spacingAndGlyphs" fill="#111">40</text>
<line x1="20.30" y1="413.80" x2="22.60" y2="413.80" stroke="#000" stroke-width="0.6"/>
<text x="18.80" y="416.10" font-size="6.4" font-weight="bold" text-anchor="end" textLength="7.64" lengthAdjust="spacingAndGlyphs" fill="#111">60</text>
<line x1="20.30" y1="396.30" x2="22.60" y2="396.30" stroke="#000" stroke-width="0.6"/>
<text x="18.80" y="398.60" font-size="6.4" font-weight="bold" text-anchor="end" textLength="15.28" lengthAdjust="spacingAndGlyphs" fill="#111">1000</text>
<line x1="20.30" y1="378.80" x2="22.60" y2="378.80" stroke="#000" stroke-width="0.6"/>
<text x="18.80" y="381.10" font-size="6.4" font-weight="bold" text-anchor="end" textLength="15.28" lengthAdjust="spacingAndGlyphs" fill="#111">2000</text>
<line x1="25.60" y1="535.00" x2="25.60" y2="537.00" stroke="#000" stroke-width="0.5"/>
<line x1="31.79" y1="535.00" x2="31.79" y2="537.00" stroke="#000" stroke-width="0.5"/>
<line x1="37.98" y1="535.00" x2="37.98" y2="537.00" stroke="#000" stroke-width="0.5"/>
<line x1="44.17" y1="535.00" x2="44.17" y2="537.00" stroke="#000" stroke-width="0.5"/>
<line x1="50.36" y1="535.00" x2="50.36" y2="537.00" stroke="#000" stroke-width="0.5"/>
<line x1="56.55" y1="535.00" x2="56.55" y2="537.00" stroke="#000" stroke-width="0.5"/>
<line x1="62.74" y1="535.00" x2="62.74" y2="537.00" stroke="#000" stroke-width="0.5"/>
<line x1="68.93" y1="535.00" x2="68.93" y2="537.00" stroke="#000" stroke-width="0.5"/>
<line x1="75.12" y1="535.00" x2="75.12" y2="537.00" stroke="#000" stroke-width="0.5"/>
<line x1="81.31" y1="535.00" x2="81.31" y2="537.00" stroke="#000" stroke-width="0.5"/>
<line x1="87.50" y1="535.00" x2="87.50" y2="537.00" stroke="#000" stroke-width="0.5"/>
<line x1="93.69" y1="535.00" x2="93.69" y2="537.00" stroke="#000" stroke-width="0.5"/>
<line x1="99.88" y1="535.00" x2="99.88" y2="537.00" stroke="#000" stroke-width="0.5"/>
<line x1="106.07" y1="535.00" x2="106.07" y2="537.00" stroke="#000" stroke-width="0.5"/>
<line x1="112.26" y1="535.00" x2="112.26" y2="537.00" stroke="#000" stroke-width="0.5"/>
<line x1="118.45" y1="535.00" x2="118.45" y2="537.00" stroke="#000" stroke-width="0.5"/>
<line x1="124.64" y1="535.00" x2="124.64" y2="537.00" stroke="#000" stroke-width="0.5"/>
<line x1="130.83" y1="535.00" x2="130.83" y2="537.00" stroke="#000" stroke-width="0.5"/>
<line x1="137.02" y1="535.00" x2="137.02" y2="537.00" stroke="#000" stroke-width="0.5"/>
<line x1="143.21" y1="535.00" x2="143.21" y2="537.00" stroke="#000" stroke-width="0.5"/>
<line x1="149.40" y1="535.00" x2="149.40" y2="537.00" stroke="#000" stroke-width="0.5"/>
<line x1="155.59" y1="535.00" x2="155.59" y2="537.00" stroke="#000" stroke-width="0.5"/>
<line x1="161.78" y1="535.00" x2="161.78" y2="537.00" stroke="#000" stroke-width="0.5"/>
<line x1="167.97" y1="535.00" x2="167.97" y2="537.00" stroke="#000" stroke-width="0.5"/>
<line x1="174.16" y1="535.00" x2="174.16" y2="537.00" stroke="#000" stroke-width="0.5"/>
<line x1="180.35" y1="535.00" x2="180.35" y2="537.00" stroke="#000" stroke-width="0.5"/>
<line x1="186.54" y1="535.00" x2="186.54" y2="537.00" stroke="#000" stroke-width="0.5"/>
<line x1="192.73" y1="535.00" x2="192.73" y2="537.00" stroke="#000" stroke-width="0.5"/>
<line x1="198.92" y1="535.00" x2="198.92" y2="537.00" stroke="#000" stroke-width="0.5"/>
<line x1="205.11" y1="535.00" x2="205.11" y2="537.00" stroke="#000" stroke-width="0.5"/>
<line x1="211.30" y1="535.00" x2="211.30" y2="537.00" stroke="#000" stroke-width="0.5"/>
<line x1="217.49" y1="535.00" x2="217.49" y2="537.00" stroke="#000" stroke-width="0.5"/>
<line x1="223.68" y1="535.00" x2="223.68" y2="537.00" stroke="#000" stroke-width="0.5"/>
<line x1="229.87" y1="535.00" x2="229.87" y2="537.00" stroke="#000" stroke-width="0.5"/>
<line x1="236.06" y1="535.00" x2="236.06" y2="537.00" stroke="#000" stroke-width="0.5"/>
<line x1="242.25" y1="535.00" x2="242.25" y2="537.00" stroke="#000" stroke-width="0.5"/>
<line x1="248.44" y1="535.00" x2="248.44" y2="537.00" stroke="#000" stroke-width="0.5"/>
<line x1="254.63" y1="535.00" x2="254.63" y2="537.00" stroke="#000" stroke-width="0.5"/>
<line x1="260.82" y1="535.00" x2="260.82" y2="537.00" stroke="#000" stroke-width="0.5"/>
<line x1="267.01" y1="535.00" x2="267.01" y2="537.00" stroke="#000" stroke-width="0.5"/>
<line x1="273.20" y1="535.00" x2="273.20" y2="537.00" stroke="#000" stroke-width="0.5"/>
<line x1="279.39" y1="535.00" x2="279.39" y2="537.00" stroke="#000" stroke-width="0.5"/>
<line x1="285.58" y1="535.00" x2="285.58" y2="537.00" stroke="#000" stroke-width="0.5"/>
<line x1="291.77" y1="535.00" x2="291.77" y2="537.00" stroke="#000" stroke-width="0.5"/>
<line x1="297.96" y1="535.00" x2="297.96" y2="537.00" stroke="#000" stroke-width="0.5"/>
<line x1="304.15" y1="535.00" x2="304.15" y2="537.00" stroke="#000" stroke-width="0.5"/>
<line x1="310.34" y1="535.00" x2="310.34" y2="537.00" stroke="#000" stroke-width="0.5"/>
<line x1="316.53" y1="535.00" x2="316.53" y2="537.00" stroke="#000" stroke-width="0.5"/>
<line x1="322.72" y1="535.00" x2="322.72" y2="537.00" stroke="#000" stroke-width="0.5"/>
<line x1="328.91" y1="535.00" x2="328.91" y2="537.00" stroke="#000" stroke-width="0.5"/>
<line x1="335.10" y1="535.00" x2="335.10" y2="537.00" stroke="#000" stroke-width="0.5"/>
<line x1="341.29" y1="535.00" x2="341.29" y2="537.00" stroke="#000" stroke-width="0.5"/>
<line x1="347.48" y1="535.00" x2="347.48" y2="537.00" stroke="#000" stroke-width="0.5"/>
<line x1="353.67" y1="535.00" x2="353.67" y2="537.00" stroke="#000" stroke-width="0.5"/>
<line x1="359.86" y1="535.00" x2="359.86" y2="537.00" stroke="#000" stroke-width="0.5"/>
<line x1="366.05" y1="535.00" x2="366.05" y2="537.00" stroke="#000" stroke-width="0.5"/>
<line x1="372.24" y1="535.00" x2="372.24" y2="537.00" stroke="#000" stroke-width="0.5"/>
<line x1="378.43" y1="535.00" x2="378.43" y2="537.00" stroke="#000" stroke-width="0.5"/>
<line x1="384.62" y1="535.00" x2="384.62" y2="537.00" stroke="#000" stroke-width="0.5"/>
<line x1="390.81" y1="535.00" x2="390.81" y2="537.00" stroke="#000" stroke-width="0.5"/>
<text x="0" y="0" font-size="5.3" font-weight="bold" text-anchor="end" fill="#111" transform="translate(26.45,542.00) rotate(-49)">CCL20</text>
<text x="0" y="0" font-size="5.3" font-weight="bold" text-anchor="end" fill="#111" transform="translate(32.70,542.00) rotate(-49)">CXCL1</text>
<text x="0" y="0" font-size="5.3" font-weight="bold" text-anchor="end" fill="#111" transform="translate(39.15,542.00) rotate(-49)">CXCL5</text>
<text x="0" y="0" font-size="5.3" font-weight="bold" text-anchor="end" fill="#111" transform="translate(45.35,542.00) rotate(-49)">IL13</text>
<text x="0" y="0" font-size="5.3" font-weight="bold" text-anchor="end" fill="#111" transform="translate(51.65,542.00) rotate(-49)">IL1B</text>
<text x="0" y="0" font-size="5.3" font-weight="bold" text-anchor="end" fill="#111" transform="translate(57.85,542.00) rotate(-49)">MIF</text>
<text x="0" y="0" font-size="5.3" font-weight="bold" text-anchor="end" fill="#111" transform="translate(69.75,542.00) rotate(-49)">CP</text>
<text x="0" y="0" font-size="5.3" font-weight="bold" text-anchor="end" fill="#111" transform="translate(76.05,542.00) rotate(-49)">HAMP</text>
<text x="0" y="0" font-size="5.3" font-weight="bold" text-anchor="end" fill="#111" transform="translate(82.15,542.00) rotate(-49)">HFE</text>
<text x="0" y="0" font-size="5.3" font-weight="bold" text-anchor="end" fill="#111" transform="translate(88.25,542.00) rotate(-49)">SLC40A1</text>
<text x="0" y="0" font-size="5.3" font-weight="bold" text-anchor="end" fill="#111" transform="translate(94.35,542.00) rotate(-49)">TFRC</text>
<text x="0" y="0" font-size="5.3" font-weight="bold" text-anchor="end" fill="#111" transform="translate(106.70,542.00) rotate(-49)">ERBB2</text>
<text x="0" y="0" font-size="5.3" font-weight="bold" text-anchor="end" fill="#111" transform="translate(112.90,542.00) rotate(-49)">ERBB4</text>
<text x="0" y="0" font-size="5.3" font-weight="bold" text-anchor="end" fill="#111" transform="translate(119.00,542.00) rotate(-49)">NOTCH2</text>
<text x="0" y="0" font-size="5.3" font-weight="bold" text-anchor="end" fill="#111" transform="translate(125.10,542.00) rotate(-49)">NOTCH3</text>
<text x="0" y="0" font-size="5.3" font-weight="bold" text-anchor="end" fill="#111" transform="translate(131.20,542.00) rotate(-49)">PRKCA</text>
<text x="0" y="0" font-size="5.3" font-weight="bold" text-anchor="end" fill="#111" transform="translate(137.30,542.00) rotate(-49)">ADAM10</text>
<text x="0" y="0" font-size="5.3" font-weight="bold" text-anchor="end" fill="#111" transform="translate(142.60,542.00) rotate(-49)">ADAM17</text>
<text x="0" y="0" font-size="5.3" font-weight="bold" text-anchor="end" fill="#111" transform="translate(148.50,542.00) rotate(-49)">TNF</text>
<text x="0" y="0" font-size="5.3" font-weight="bold" text-anchor="end" fill="#111" transform="translate(154.60,542.00) rotate(-49)">TNFRSF1B</text>
<text x="0" y="0" font-size="5.3" font-weight="bold" text-anchor="end" fill="#111" transform="translate(166.60,542.00) rotate(-49)">GPX1</text>
<text x="0" y="0" font-size="5.3" font-weight="bold" text-anchor="end" fill="#111" transform="translate(172.80,542.00) rotate(-49)">GSR</text>
<text x="0" y="0" font-size="5.3" font-weight="bold" text-anchor="end" fill="#111" transform="translate(178.90,542.00) rotate(-49)">GSTP1</text>
<text x="0" y="0" font-size="5.3" font-weight="bold" text-anchor="end" fill="#111" transform="translate(185.00,542.00) rotate(-49)">NQO1</text>
<text x="0" y="0" font-size="5.3" font-weight="bold" text-anchor="end" fill="#111" transform="translate(191.30,542.00) rotate(-49)">ALB</text>
<text x="0" y="0" font-size="5.3" font-weight="bold" text-anchor="end" fill="#111" transform="translate(197.50,542.00) rotate(-49)">APOE</text>
<text x="0" y="0" font-size="5.3" font-weight="bold" text-anchor="end" fill="#111" transform="translate(203.60,542.00) rotate(-49)">CYBB</text>
<text x="0" y="0" font-size="5.3" font-weight="bold" text-anchor="end" fill="#111" transform="translate(209.80,542.00) rotate(-49)">TXNRD1</text>
<text x="0" y="0" font-size="5.3" font-weight="bold" text-anchor="end" fill="#111" transform="translate(215.75,542.00) rotate(-49)">TXNRD2</text>
<text x="0" y="0" font-size="5.3" font-weight="bold" text-anchor="end" fill="#111" transform="translate(221.95,542.00) rotate(-49)">SEPP1</text>
<text x="0" y="0" font-size="5.3" font-weight="bold" text-anchor="end" fill="#111" transform="translate(228.05,542.00) rotate(-49)">GTF2I</text>
<text x="0" y="0" font-size="5.3" font-weight="bold" text-anchor="end" fill="#111" transform="translate(234.15,542.00) rotate(-49)">MPO</text>
<text x="0" y="0" font-size="5.3" font-weight="bold" text-anchor="end" fill="#111" transform="translate(240.25,542.00) rotate(-49)">NOX4</text>
<text x="0" y="0" font-size="5.3" font-weight="bold" text-anchor="end" fill="#111" transform="translate(246.35,542.00) rotate(-49)">PRDX1</text>
<text x="0" y="0" font-size="5.3" font-weight="bold" text-anchor="end" fill="#111" transform="translate(252.45,542.00) rotate(-49)">PRDX3</text>
<text x="0" y="0" font-size="5.3" font-weight="bold" text-anchor="end" fill="#111" transform="translate(258.65,542.00) rotate(-49)">CAT</text>
<text x="0" y="0" font-size="5.3" font-weight="bold" text-anchor="end" fill="#111" transform="translate(264.95,542.00) rotate(-49)">PTGS2</text>
<text x="0" y="0" font-size="5.3" font-weight="bold" text-anchor="end" fill="#111" transform="translate(270.90,542.00) rotate(-49)">DUOX2</text>
<text x="0" y="0" font-size="5.3" font-weight="bold" text-anchor="end" fill="#111" transform="translate(276.90,542.00) rotate(-49)">HSPA1A</text>
<text x="0" y="0" font-size="5.3" font-weight="bold" text-anchor="end" fill="#111" transform="translate(283.10,542.00) rotate(-49)">MBL2</text>
<text x="0" y="0" font-size="5.3" font-weight="bold" text-anchor="end" fill="#111" transform="translate(289.10,542.00) rotate(-49)">NME5</text>
<text x="0" y="0" font-size="5.3" font-weight="bold" text-anchor="end" fill="#111" transform="translate(295.20,542.00) rotate(-49)">PNKP</text>
<text x="0" y="0" font-size="5.3" font-weight="bold" text-anchor="end" fill="#111" transform="translate(301.35,542.00) rotate(-49)">SRXN1</text>
<text x="0" y="0" font-size="5.3" font-weight="bold" text-anchor="end" fill="#111" transform="translate(307.40,542.00) rotate(-49)">AKR1C3</text>
<text x="0" y="0" font-size="5.3" font-weight="bold" text-anchor="end" fill="#111" transform="translate(313.55,542.00) rotate(-49)">BAG2</text>
<text x="0" y="0" font-size="5.3" font-weight="bold" text-anchor="end" fill="#111" transform="translate(319.75,542.00) rotate(-49)">PRDX4</text>
<text x="0" y="0" font-size="5.3" font-weight="bold" text-anchor="end" fill="#111" transform="translate(325.95,542.00) rotate(-49)">SOD1</text>
<text x="0" y="0" font-size="5.3" font-weight="bold" text-anchor="end" fill="#111" transform="translate(338.05,542.00) rotate(-49)">CD163</text>
<text x="0" y="0" font-size="5.3" font-weight="bold" text-anchor="end" fill="#111" transform="translate(344.15,542.00) rotate(-49)">C1QB</text>
<text x="0" y="0" font-size="5.3" font-weight="bold" text-anchor="end" fill="#111" transform="translate(350.15,542.00) rotate(-49)">CD68</text>
<text x="0" y="0" font-size="5.3" font-weight="bold" text-anchor="end" fill="#111" transform="translate(356.35,542.00) rotate(-49)">HP</text>
<text x="0" y="0" font-size="5.3" font-weight="bold" text-anchor="end" fill="#111" transform="translate(362.35,542.00) rotate(-49)">HMOX1</text>
<text x="0" y="0" font-size="5.3" font-weight="bold" text-anchor="end" fill="#111" transform="translate(374.65,542.00) rotate(-49)">ADAM10</text>
<text x="0" y="0" font-size="5.3" font-weight="bold" text-anchor="end" fill="#111" transform="translate(380.70,542.00) rotate(-49)">ADAM11</text>
<text x="0" y="0" font-size="5.3" font-weight="bold" text-anchor="end" fill="#111" transform="translate(386.85,542.00) rotate(-49)">ADAM15</text>
<text x="0" y="0" font-size="5.3" font-weight="bold" text-anchor="end" fill="#111" transform="translate(392.95,542.00) rotate(-49)">ADAM17</text>
<text x="0" y="0" font-size="6.6" font-weight="bold" text-anchor="middle" fill="#111" textLength="107" lengthAdjust="spacingAndGlyphs" transform="translate(8.9,457.2) rotate(-90)">Relative transcript expression</text>
<rect x="259.30" y="363.80" width="10.20" height="6.00" fill="#c8c8c8" stroke="#8a8a8a" stroke-width="0.5"/>
<rect x="259.30" y="376.60" width="10.20" height="5.70" fill="#000"/>
<text x="275.50" y="369.80" font-size="7.3" textLength="62.5" lengthAdjust="spacingAndGlyphs" fill="#111">GROUPB:SAHNIO</text>
<text x="275.50" y="382.30" font-size="7.3" textLength="57.5" lengthAdjust="spacingAndGlyphs" fill="#111">GROUPA:SAHIO</text>
<line x1="19.30" y1="560.70" x2="46.70" y2="560.70" stroke="#555" stroke-width="0.7"/>
<line x1="19.30" y1="559.70" x2="19.30" y2="561.70" stroke="#555" stroke-width="0.7"/>
<line x1="46.70" y1="559.70" x2="46.70" y2="561.70" stroke="#555" stroke-width="0.7"/>
<text x="32.80" y="573.40" font-size="5.0" text-anchor="middle" textLength="24.0" lengthAdjust="spacingAndGlyphs" fill="#333">Chemokines</text>
<text x="32.80" y="580.30" font-size="5.0" text-anchor="middle" textLength="13.0" lengthAdjust="spacingAndGlyphs" fill="#333">Genes</text>
<line x1="55.20" y1="560.70" x2="90.70" y2="560.70" stroke="#555" stroke-width="0.7"/>
<line x1="55.20" y1="559.70" x2="55.20" y2="561.70" stroke="#555" stroke-width="0.7"/>
<line x1="90.70" y1="559.70" x2="90.70" y2="561.70" stroke="#555" stroke-width="0.7"/>
<text x="73.80" y="573.40" font-size="5.0" text-anchor="middle" textLength="36.0" lengthAdjust="spacingAndGlyphs" fill="#333">Iron Associated</text>
<text x="73.80" y="580.30" font-size="5.0" text-anchor="middle" textLength="13.0" lengthAdjust="spacingAndGlyphs" fill="#333">Genes</text>
<line x1="97.80" y1="561.40" x2="140.50" y2="561.40" stroke="#555" stroke-width="0.7"/>
<line x1="97.80" y1="560.40" x2="97.80" y2="562.40" stroke="#555" stroke-width="0.7"/>
<line x1="140.50" y1="560.40" x2="140.50" y2="562.40" stroke="#555" stroke-width="0.7"/>
<text x="117.50" y="573.60" font-size="5.0" text-anchor="middle" textLength="21.4" lengthAdjust="spacingAndGlyphs" fill="#333">ADAM 17</text>
<text x="117.50" y="580.50" font-size="5.0" text-anchor="middle" textLength="24.0" lengthAdjust="spacingAndGlyphs" fill="#333">Associated</text>
<text x="117.50" y="587.40" font-size="5.0" text-anchor="middle" textLength="13.0" lengthAdjust="spacingAndGlyphs" fill="#333">Genes</text>
<line x1="151.00" y1="561.40" x2="312.30" y2="561.40" stroke="#555" stroke-width="0.7"/>
<line x1="151.00" y1="560.40" x2="151.00" y2="562.40" stroke="#555" stroke-width="0.7"/>
<line x1="312.30" y1="560.40" x2="312.30" y2="562.40" stroke="#555" stroke-width="0.7"/>
<text x="230.60" y="572.60" font-size="5.0" text-anchor="middle" textLength="37.5" lengthAdjust="spacingAndGlyphs" fill="#333">Oxidative stress</text>
<text x="230.60" y="579.50" font-size="5.0" text-anchor="middle" textLength="24.0" lengthAdjust="spacingAndGlyphs" fill="#333">Associated</text>
<text x="230.60" y="586.40" font-size="5.0" text-anchor="middle" textLength="13.0" lengthAdjust="spacingAndGlyphs" fill="#333">Genes</text>
<line x1="327.00" y1="561.40" x2="351.50" y2="561.40" stroke="#555" stroke-width="0.7"/>
<line x1="327.00" y1="560.40" x2="327.00" y2="562.40" stroke="#555" stroke-width="0.7"/>
<line x1="351.50" y1="560.40" x2="351.50" y2="562.40" stroke="#555" stroke-width="0.7"/>
<text x="339.30" y="572.60" font-size="5.0" text-anchor="middle" textLength="15.0" lengthAdjust="spacingAndGlyphs" fill="#333">CD163</text>
<text x="339.30" y="579.50" font-size="5.0" text-anchor="middle" textLength="24.0" lengthAdjust="spacingAndGlyphs" fill="#333">Associated</text>
<text x="339.30" y="586.40" font-size="5.0" text-anchor="middle" textLength="13.0" lengthAdjust="spacingAndGlyphs" fill="#333">Genes</text>
<line x1="361.70" y1="561.40" x2="386.20" y2="561.40" stroke="#555" stroke-width="0.7"/>
<line x1="361.70" y1="560.40" x2="361.70" y2="562.40" stroke="#555" stroke-width="0.7"/>
<line x1="386.20" y1="560.40" x2="386.20" y2="562.40" stroke="#555" stroke-width="0.7"/>
<text x="374.00" y="572.60" font-size="5.0" text-anchor="middle" textLength="13.0" lengthAdjust="spacingAndGlyphs" fill="#333">ADAM</text>
<text x="374.00" y="579.50" font-size="5.0" text-anchor="middle" textLength="18.0" lengthAdjust="spacingAndGlyphs" fill="#333">isoforms</text>
<text x="374.00" y="586.40" font-size="5.0" text-anchor="middle" textLength="13.0" lengthAdjust="spacingAndGlyphs" fill="#333">Genes</text>
<rect x="451.30" y="396.90" width="13.90" height="8.81" fill="#e03020"/>
<rect x="464.60" y="396.90" width="13.90" height="8.81" fill="#1a1a16"/>
<rect x="477.90" y="396.90" width="13.90" height="8.81" fill="#1e1a16"/>
<rect x="491.20" y="396.90" width="13.90" height="8.81" fill="#1a1a16"/>
<rect x="504.50" y="396.90" width="13.90" height="8.81" fill="#1e1e18"/>
<rect x="517.80" y="396.90" width="13.90" height="8.81" fill="#1a1a16"/>
<rect x="531.10" y="396.90" width="13.90" height="8.81" fill="#22221c"/>
<rect x="544.40" y="396.90" width="13.90" height="8.81" fill="#22221c"/>
<rect x="557.70" y="396.90" width="13.90" height="8.81" fill="#22221c"/>
<rect x="571.00" y="396.90" width="13.90" height="8.81" fill="#22221c"/>
<rect x="584.30" y="396.90" width="13.90" height="8.81" fill="#261e1a"/>
<rect x="597.60" y="396.90" width="13.90" height="8.81" fill="#22221c"/>
<rect x="610.90" y="396.90" width="13.90" height="8.81" fill="#1e1e18"/>
<rect x="624.20" y="396.90" width="13.30" height="8.81" fill="#22221c"/>
<rect x="451.30" y="405.11" width="13.90" height="8.81" fill="#b03020"/>
<rect x="464.60" y="405.11" width="13.90" height="8.81" fill="#1a1a16"/>
<rect x="477.90" y="405.11" width="13.90" height="8.81" fill="#7a2018"/>
<rect x="491.20" y="405.11" width="13.90" height="8.81" fill="#2a1a16"/>
<rect x="504.50" y="405.11" width="13.90" height="8.81" fill="#1a1614"/>
<rect x="517.80" y="405.11" width="13.90" height="8.81" fill="#2a3420"/>
<rect x="531.10" y="405.11" width="13.90" height="8.81" fill="#2a1c18"/>
<rect x="544.40" y="405.11" width="13.90" height="8.81" fill="#221a16"/>
<rect x="557.70" y="405.11" width="13.90" height="8.81" fill="#2a2e20"/>
<rect x="571.00" y="405.11" width="13.90" height="8.81" fill="#2e5a2a"/>
<rect x="584.30" y="405.11" width="13.90" height="8.81" fill="#22221c"/>
<rect x="597.60" y="405.11" width="13.90" height="8.81" fill="#384a24"/>
<rect x="610.90" y="405.11" width="13.90" height="8.81" fill="#2e3e24"/>
<rect x="624.20" y="405.11" width="13.30" height="8.81" fill="#2e3e24"/>
<rect x="451.30" y="413.32" width="13.90" height="8.81" fill="#c83020"/>
<rect x="464.60" y="413.32" width="13.90" height="8.81" fill="#4a1e18"/>
<rect x="477.90" y="413.32" width="13.90" height="8.81" fill="#3a1a16"/>
<rect x="491.20" y="413.32" width="13.90" height="8.81" fill="#1a1614"/>
<rect x="504.50" y="413.32" width="13.90" height="8.81" fill="#161614"/>
<rect x="517.80" y="413.32" width="13.90" height="8.81" fill="#1a1614"/>
<rect x="531.10" y="413.32" width="13.90" height="8.81" fill="#1e1e18"/>
<rect x="544.40" y="413.32" width="13.90" height="8.81" fill="#1e1e18"/>
<rect x="557.70" y="413.32" width="13.90" height="8.81" fill="#201814"/>
<rect x="571.00" y="413.32" width="13.90" height="8.81" fill="#2e4a24"/>
<rect x="584.30" y="413.32" width="13.90" height="8.81" fill="#26241e"/>
<rect x="597.60" y="413.32" width="13.90" height="8.81" fill="#22221c"/>
<rect x="610.90" y="413.32" width="13.90" height="8.81" fill="#2e6a2a"/>
<rect x="624.20" y="413.32" width="13.30" height="8.81" fill="#2e5a2a"/>
<rect x="451.30" y="421.53" width="13.90" height="8.81" fill="#b83020"/>
<rect x="464.60" y="421.53" width="13.90" height="8.81" fill="#2a1a16"/>
<rect x="477.90" y="421.53" width="13.90" height="8.81" fill="#6a2018"/>
<rect x="491.20" y="421.53" width="13.90" height="8.81" fill="#7a2018"/>
<rect x="504.50" y="421.53" width="13.90" height="8.81" fill="#20221c"/>
<rect x="517.80" y="421.53" width="13.90" height="8.81" fill="#22221c"/>
<rect x="531.10" y="421.53" width="13.90" height="8.81" fill="#1e1e18"/>
<rect x="544.40" y="421.53" width="13.90" height="8.81" fill="#22221c"/>
<rect x="557.70" y="421.53" width="13.90" height="8.81" fill="#201a16"/>
<rect x="571.00" y="421.53" width="13.90" height="8.81" fill="#2e3424"/>
<rect x="584.30" y="421.53" width="13.90" height="8.81" fill="#1e201a"/>
<rect x="597.60" y="421.53" width="13.90" height="8.81" fill="#2e3e24"/>
<rect x="610.90" y="421.53" width="13.90" height="8.81" fill="#2e4224"/>
<rect x="624.20" y="421.53" width="13.30" height="8.81" fill="#2e6a2a"/>
<rect x="451.30" y="429.74" width="13.90" height="8.81" fill="#2e1a16"/>
<rect x="464.60" y="429.74" width="13.90" height="8.81" fill="#2e1a16"/>
<rect x="477.90" y="429.74" width="13.90" height="8.81" fill="#2e1a16"/>
<rect x="491.20" y="429.74" width="13.90" height="8.81" fill="#a83020"/>
<rect x="504.50" y="429.74" width="13.90" height="8.81" fill="#2e1a16"/>
<rect x="517.80" y="429.74" width="13.90" height="8.81" fill="#22221c"/>
<rect x="531.10" y="429.74" width="13.90" height="8.81" fill="#2e5a2a"/>
<rect x="544.40" y="429.74" width="13.90" height="8.81" fill="#2e8a2a"/>
<rect x="557.70" y="429.74" width="13.90" height="8.81" fill="#22241c"/>
<rect x="571.00" y="429.74" width="13.90" height="8.81" fill="#2e3a24"/>
<rect x="584.30" y="429.74" width="13.90" height="8.81" fill="#2a2e20"/>
<rect x="597.60" y="429.74" width="13.90" height="8.81" fill="#261a16"/>
<rect x="610.90" y="429.74" width="13.90" height="8.81" fill="#2a3420"/>
<rect x="624.20" y="429.74" width="13.30" height="8.81" fill="#2e1e1a"/>
<rect x="451.30" y="437.95" width="13.90" height="8.81" fill="#a83020"/>
<rect x="464.60" y="437.95" width="13.90" height="8.81" fill="#6a2018"/>
<rect x="477.90" y="437.95" width="13.90" height="8.81" fill="#2a1a16"/>
<rect x="491.20" y="437.95" width="13.90" height="8.81" fill="#4a1e18"/>
<rect x="504.50" y="437.95" width="13.90" height="8.81" fill="#5a1e18"/>
<rect x="517.80" y="437.95" width="13.90" height="8.81" fill="#2a2e20"/>
<rect x="531.10" y="437.95" width="13.90" height="8.81" fill="#2e3424"/>
<rect x="544.40" y="437.95" width="13.90" height="8.81" fill="#2a2e20"/>
<rect x="557.70" y="437.95" width="13.90" height="8.81" fill="#2a2e20"/>
<rect x="571.00" y="437.95" width="13.90" height="8.81" fill="#2a2a1e"/>
<rect x="584.30" y="437.95" width="13.90" height="8.81" fill="#2a2e20"/>
<rect x="597.60" y="437.95" width="13.90" height="8.81" fill="#2a2e20"/>
<rect x="610.90" y="437.95" width="13.90" height="8.81" fill="#2a2e20"/>
<rect x="624.20" y="437.95" width="13.30" height="8.81" fill="#2a3020"/>
<rect x="451.30" y="446.16" width="13.90" height="8.81" fill="#2e1a16"/>
<rect x="464.60" y="446.16" width="13.90" height="8.81" fill="#c03020"/>
<rect x="477.90" y="446.16" width="13.90" height="8.81" fill="#2a1a16"/>
<rect x="491.20" y="446.16" width="13.90" height="8.81" fill="#3a1a16"/>
<rect x="504.50" y="446.16" width="13.90" height="8.81" fill="#4a1e18"/>
<rect x="517.80" y="446.16" width="13.90" height="8.81" fill="#2a2e20"/>
<rect x="531.10" y="446.16" width="13.90" height="8.81" fill="#2a2e20"/>
<rect x="544.40" y="446.16" width="13.90" height="8.81" fill="#1a1a16"/>
<rect x="557.70" y="446.16" width="13.90" height="8.81" fill="#2e4224"/>
<rect x="571.00" y="446.16" width="13.90" height="8.81" fill="#2e3a24"/>
<rect x="584.30" y="446.16" width="13.90" height="8.81" fill="#1e1e18"/>
<rect x="597.60" y="446.16" width="13.90" height="8.81" fill="#2e3a24"/>
<rect x="610.90" y="446.16" width="13.90" height="8.81" fill="#2e3a24"/>
<rect x="624.20" y="446.16" width="13.30" height="8.81" fill="#2a3420"/>
<rect x="451.30" y="454.37" width="13.90" height="8.81" fill="#2e1a16"/>
<rect x="464.60" y="454.37" width="13.90" height="8.81" fill="#a83020"/>
<rect x="477.90" y="454.37" width="13.90" height="8.81" fill="#2e1a16"/>
<rect x="491.20" y="454.37" width="13.90" height="8.81" fill="#4a1e18"/>
<rect x="504.50" y="454.37" width="13.90" height="8.81" fill="#3a1a16"/>
<rect x="517.80" y="454.37" width="13.90" height="8.81" fill="#2a2a1e"/>
<rect x="531.10" y="454.37" width="13.90" height="8.81" fill="#1e1e18"/>
<rect x="544.40" y="454.37" width="13.90" height="8.81" fill="#261c18"/>
<rect x="557.70" y="454.37" width="13.90" height="8.81" fill="#2e4224"/>
<rect x="571.00" y="454.37" width="13.90" height="8.81" fill="#2e4224"/>
<rect x="584.30" y="454.37" width="13.90" height="8.81" fill="#261c18"/>
<rect x="597.60" y="454.37" width="13.90" height="8.81" fill="#2e8a2a"/>
<rect x="610.90" y="454.37" width="13.90" height="8.81" fill="#2e4224"/>
<rect x="624.20" y="454.37" width="13.30" height="8.81" fill="#2e4224"/>
<rect x="451.30" y="462.58" width="13.90" height="8.81" fill="#2a1a16"/>
<rect x="464.60" y="462.58" width="13.90" height="8.81" fill="#3a1a16"/>
<rect x="477.90" y="462.58" width="13.90" height="8.81" fill="#c83020"/>
<rect x="491.20" y="462.58" width="13.90" height="8.81" fill="#5a1e18"/>
<rect x="504.50" y="462.58" width="13.90" height="8.81" fill="#1a1a16"/>
<rect x="517.80" y="462.58" width="13.90" height="8.81" fill="#2a3420"/>
<rect x="531.10" y="462.58" width="13.90" height="8.81" fill="#2a3020"/>
<rect x="544.40" y="462.58" width="13.90" height="8.81" fill="#22221c"/>
<rect x="557.70" y="462.58" width="13.90" height="8.81" fill="#3a201a"/>
<rect x="571.00" y="462.58" width="13.90" height="8.81" fill="#2e8a2a"/>
<rect x="584.30" y="462.58" width="13.90" height="8.81" fill="#1e1e18"/>
<rect x="597.60" y="462.58" width="13.90" height="8.81" fill="#2a2e20"/>
<rect x="610.90" y="462.58" width="13.90" height="8.81" fill="#2a2e20"/>
<rect x="624.20" y="462.58" width="13.30" height="8.81" fill="#2e3a24"/>
<rect x="451.30" y="470.79" width="13.90" height="8.81" fill="#4a1e18"/>
<rect x="464.60" y="470.79" width="13.90" height="8.81" fill="#8a2418"/>
<rect x="477.90" y="470.79" width="13.90" height="8.81" fill="#5a1e18"/>
<rect x="491.20" y="470.79" width="13.90" height="8.81" fill="#3a1a16"/>
<rect x="504.50" y="470.79" width="13.90" height="8.81" fill="#1a1a16"/>
<rect x="517.80" y="470.79" width="13.90" height="8.81" fill="#2e4a24"/>
<rect x="531.10" y="470.79" width="13.90" height="8.81" fill="#2a2e20"/>
<rect x="544.40" y="470.79" width="13.90" height="8.81" fill="#1a1a16"/>
<rect x="557.70" y="470.79" width="13.90" height="8.81" fill="#1e1e18"/>
<rect x="571.00" y="470.79" width="13.90" height="8.81" fill="#2e8a2a"/>
<rect x="584.30" y="470.79" width="13.90" height="8.81" fill="#2e1e1a"/>
<rect x="597.60" y="470.79" width="13.90" height="8.81" fill="#3a4a24"/>
<rect x="610.90" y="470.79" width="13.90" height="8.81" fill="#2a3020"/>
<rect x="624.20" y="470.79" width="13.30" height="8.81" fill="#2a3020"/>
<rect x="451.30" y="479.00" width="13.90" height="8.81" fill="#a03020"/>
<rect x="464.60" y="479.00" width="13.90" height="8.81" fill="#8a2418"/>
<rect x="477.90" y="479.00" width="13.90" height="8.81" fill="#a03020"/>
<rect x="491.20" y="479.00" width="13.90" height="8.81" fill="#2a1a16"/>
<rect x="504.50" y="479.00" width="13.90" height="8.81" fill="#1e1e18"/>
<rect x="517.80" y="479.00" width="13.90" height="8.81" fill="#1e1e18"/>
<rect x="531.10" y="479.00" width="13.90" height="8.81" fill="#1e1e18"/>
<rect x="544.40" y="479.00" width="13.90" height="8.81" fill="#22241c"/>
<rect x="557.70" y="479.00" width="13.90" height="8.81" fill="#2e5a2a"/>
<rect x="571.00" y="479.00" width="13.90" height="8.81" fill="#2e3424"/>
<rect x="584.30" y="479.00" width="13.90" height="8.81" fill="#2a1a16"/>
<rect x="597.60" y="479.00" width="13.90" height="8.81" fill="#2e4224"/>
<rect x="610.90" y="479.00" width="13.90" height="8.81" fill="#2a3020"/>
<rect x="624.20" y="479.00" width="13.30" height="8.81" fill="#2e4224"/>
<rect x="451.30" y="487.21" width="13.90" height="8.81" fill="#2e4224"/>
<rect x="464.60" y="487.21" width="13.90" height="8.81" fill="#2a3020"/>
<rect x="477.90" y="487.21" width="13.90" height="8.81" fill="#2e4a24"/>
<rect x="491.20" y="487.21" width="13.90" height="8.81" fill="#2e4a24"/>
<rect x="504.50" y="487.21" width="13.90" height="8.81" fill="#22201c"/>
<rect x="517.80" y="487.21" width="13.90" height="8.81" fill="#1a1a16"/>
<rect x="531.10" y="487.21" width="13.90" height="8.81" fill="#1e1e18"/>
<rect x="544.40" y="487.21" width="13.90" height="8.81" fill="#1e1e18"/>
<rect x="557.70" y="487.21" width="13.90" height="8.81" fill="#a83020"/>
<rect x="571.00" y="487.21" width="13.90" height="8.81" fill="#7a2a20"/>
<rect x="584.30" y="487.21" width="13.90" height="8.81" fill="#7a2a20"/>
<rect x="597.60" y="487.21" width="13.90" height="8.81" fill="#1e1e18"/>
<rect x="610.90" y="487.21" width="13.90" height="8.81" fill="#1e1e18"/>
<rect x="624.20" y="487.21" width="13.30" height="8.81" fill="#1e1e18"/>
<rect x="451.30" y="495.42" width="13.90" height="8.81" fill="#2e6a2a"/>
<rect x="464.60" y="495.42" width="13.90" height="8.81" fill="#2a2e20"/>
<rect x="477.90" y="495.42" width="13.90" height="8.81" fill="#2e6a2a"/>
<rect x="491.20" y="495.42" width="13.90" height="8.81" fill="#2e4a24"/>
<rect x="504.50" y="495.42" width="13.90" height="8.81" fill="#1a1a16"/>
<rect x="517.80" y="495.42" width="13.90" height="8.81" fill="#221c18"/>
<rect x="531.10" y="495.42" width="13.90" height="8.81" fill="#1a1a16"/>
<rect x="544.40" y="495.42" width="13.90" height="8.81" fill="#1a1a16"/>
<rect x="557.70" y="495.42" width="13.90" height="8.81" fill="#1e1e18"/>
<rect x="571.00" y="495.42" width="13.90" height="8.81" fill="#a83020"/>
<rect x="584.30" y="495.42" width="13.90" height="8.81" fill="#3a1e1a"/>
<rect x="597.60" y="495.42" width="13.90" height="8.81" fill="#22261c"/>
<rect x="610.90" y="495.42" width="13.90" height="8.81" fill="#3a1e1a"/>
<rect x="624.20" y="495.42" width="13.30" height="8.81" fill="#4a2620"/>
<rect x="451.30" y="503.63" width="13.90" height="8.81" fill="#2e8a2a"/>
<rect x="464.60" y="503.63" width="13.90" height="8.81" fill="#2a3a22"/>
<rect x="477.90" y="503.63" width="13.90" height="8.81" fill="#2e8a2a"/>
<rect x="491.20" y="503.63" width="13.90" height="8.81" fill="#2e3e24"/>
<rect x="504.50" y="503.63" width="13.90" height="8.81" fill="#1a1a16"/>
<rect x="517.80" y="503.63" width="13.90" height="8.81" fill="#1e1c18"/>
<rect x="531.10" y="503.63" width="13.90" height="8.81" fill="#2a1e1a"/>
<rect x="544.40" y="503.63" width="13.90" height="8.81" fill="#1a1a16"/>
<rect x="557.70" y="503.63" width="13.90" height="8.81" fill="#1a1a16"/>
<rect x="571.00" y="503.63" width="13.90" height="8.81" fill="#4a2620"/>
<rect x="584.30" y="503.63" width="13.90" height="8.81" fill="#b03020"/>
<rect x="597.60" y="503.63" width="13.90" height="8.81" fill="#221814"/>
<rect x="610.90" y="503.63" width="13.90" height="8.81" fill="#26281e"/>
<rect x="624.20" y="503.63" width="13.30" height="8.81" fill="#3a1e1a"/>
<rect x="451.30" y="511.84" width="13.90" height="8.81" fill="#2e4a24"/>
<rect x="464.60" y="511.84" width="13.90" height="8.81" fill="#2e3e24"/>
<rect x="477.90" y="511.84" width="13.90" height="8.81" fill="#2e5224"/>
<rect x="491.20" y="511.84" width="13.90" height="8.81" fill="#2e3a24"/>
<rect x="504.50" y="511.84" width="13.90" height="8.81" fill="#1a1a16"/>
<rect x="517.80" y="511.84" width="13.90" height="8.81" fill="#1e1e18"/>
<rect x="531.10" y="511.84" width="13.90" height="8.81" fill="#2a2e20"/>
<rect x="544.40" y="511.84" width="13.90" height="8.81" fill="#1a1a16"/>
<rect x="557.70" y="511.84" width="13.90" height="8.81" fill="#121210"/>
<rect x="571.00" y="511.84" width="13.90" height="8.81" fill="#b03020"/>
<rect x="584.30" y="511.84" width="13.90" height="8.81" fill="#a83020"/>
<rect x="597.60" y="511.84" width="13.90" height="8.81" fill="#4a2620"/>
<rect x="610.90" y="511.84" width="13.90" height="8.81" fill="#1e1e18"/>
<rect x="624.20" y="511.84" width="13.30" height="8.81" fill="#1a1a16"/>
<rect x="451.30" y="520.05" width="13.90" height="8.81" fill="#2e5a2a"/>
<rect x="464.60" y="520.05" width="13.90" height="8.81" fill="#221c18"/>
<rect x="477.90" y="520.05" width="13.90" height="8.81" fill="#2e4a24"/>
<rect x="491.20" y="520.05" width="13.90" height="8.81" fill="#26261e"/>
<rect x="504.50" y="520.05" width="13.90" height="8.81" fill="#22221c"/>
<rect x="517.80" y="520.05" width="13.90" height="8.81" fill="#1e1e18"/>
<rect x="531.10" y="520.05" width="13.90" height="8.81" fill="#22221c"/>
<rect x="544.40" y="520.05" width="13.90" height="8.81" fill="#1e1e18"/>
<rect x="557.70" y="520.05" width="13.90" height="8.81" fill="#e03020"/>
<rect x="571.00" y="520.05" width="13.90" height="8.81" fill="#1e1e18"/>
<rect x="584.30" y="520.05" width="13.90" height="8.81" fill="#221816"/>
<rect x="597.60" y="520.05" width="13.90" height="8.81" fill="#221816"/>
<rect x="610.90" y="520.05" width="13.90" height="8.81" fill="#221816"/>
<rect x="624.20" y="520.05" width="13.30" height="8.81" fill="#1e1e18"/>
<rect x="451.30" y="528.26" width="13.90" height="8.81" fill="#2e7a2a"/>
<rect x="464.60" y="528.26" width="13.90" height="8.81" fill="#2a3020"/>
<rect x="477.90" y="528.26" width="13.90" height="8.81" fill="#2e4a24"/>
<rect x="491.20" y="528.26" width="13.90" height="8.81" fill="#385a2a"/>
<rect x="504.50" y="528.26" width="13.90" height="8.81" fill="#22221c"/>
<rect x="517.80" y="528.26" width="13.90" height="8.81" fill="#1a1a16"/>
<rect x="531.10" y="528.26" width="13.90" height="8.81" fill="#2a261e"/>
<rect x="544.40" y="528.26" width="13.90" height="8.81" fill="#22241c"/>
<rect x="557.70" y="528.26" width="13.90" height="8.81" fill="#a83020"/>
<rect x="571.00" y="528.26" width="13.90" height="8.81" fill="#2a1c18"/>
<rect x="584.30" y="528.26" width="13.90" height="8.81" fill="#161614"/>
<rect x="597.60" y="528.26" width="13.90" height="8.81" fill="#161614"/>
<rect x="610.90" y="528.26" width="13.90" height="8.81" fill="#a03020"/>
<rect x="624.20" y="528.26" width="13.30" height="8.81" fill="#3a1e1a"/>
<rect x="451.30" y="536.47" width="13.90" height="8.81" fill="#2e7a2a"/>
<rect x="464.60" y="536.47" width="13.90" height="8.81" fill="#2a3020"/>
<rect x="477.90" y="536.47" width="13.90" height="8.81" fill="#2e4224"/>
<rect x="491.20" y="536.47" width="13.90" height="8.81" fill="#2a3420"/>
<rect x="504.50" y="536.47" width="13.90" height="8.81" fill="#1e1e18"/>
<rect x="517.80" y="536.47" width="13.90" height="8.81" fill="#1e1e18"/>
<rect x="531.10" y="536.47" width="13.90" height="8.81" fill="#161614"/>
<rect x="544.40" y="536.47" width="13.90" height="8.81" fill="#1a1a16"/>
<rect x="557.70" y="536.47" width="13.90" height="8.81" fill="#b03020"/>
<rect x="571.00" y="536.47" width="13.90" height="8.81" fill="#161614"/>
<rect x="584.30" y="536.47" width="13.90" height="8.81" fill="#22241c"/>
<rect x="597.60" y="536.47" width="13.90" height="8.81" fill="#1a1614"/>
<rect x="610.90" y="536.47" width="13.90" height="8.81" fill="#3a1e1a"/>
<rect x="624.20" y="536.47" width="13.30" height="8.81" fill="#a83020"/>
<rect x="451.30" y="544.68" width="13.90" height="8.81" fill="#2a2e20"/>
<rect x="464.60" y="544.68" width="13.90" height="8.81" fill="#2a2e20"/>
<rect x="477.90" y="544.68" width="13.90" height="8.81" fill="#26261e"/>
<rect x="491.20" y="544.68" width="13.90" height="8.81" fill="#2a2e20"/>
<rect x="504.50" y="544.68" width="13.90" height="8.81" fill="#22221c"/>
<rect x="517.80" y="544.68" width="13.90" height="8.81" fill="#22221c"/>
<rect x="531.10" y="544.68" width="13.90" height="8.81" fill="#22221c"/>
<rect x="544.40" y="544.68" width="13.90" height="8.81" fill="#1e1e18"/>
<rect x="557.70" y="544.68" width="13.90" height="8.81" fill="#1e1e18"/>
<rect x="571.00" y="544.68" width="13.90" height="8.81" fill="#6a2620"/>
<rect x="584.30" y="544.68" width="13.90" height="8.81" fill="#22241c"/>
<rect x="597.60" y="544.68" width="13.90" height="8.81" fill="#22221c"/>
<rect x="610.90" y="544.68" width="13.90" height="8.81" fill="#5a2620"/>
<rect x="624.20" y="544.68" width="13.30" height="8.81" fill="#c83020"/>
<rect x="451.30" y="552.89" width="13.90" height="8.81" fill="#2e6a2a"/>
<rect x="464.60" y="552.89" width="13.90" height="8.81" fill="#2e5a2a"/>
<rect x="477.90" y="552.89" width="13.90" height="8.81" fill="#22221c"/>
<rect x="491.20" y="552.89" width="13.90" height="8.81" fill="#2e6a2a"/>
<rect x="504.50" y="552.89" width="13.90" height="8.81" fill="#1e1614"/>
<rect x="517.80" y="552.89" width="13.90" height="8.81" fill="#1e1e18"/>
<rect x="531.10" y="552.89" width="13.90" height="8.81" fill="#22221c"/>
<rect x="544.40" y="552.89" width="13.90" height="8.81" fill="#261c18"/>
<rect x="557.70" y="552.89" width="13.90" height="8.81" fill="#2a1c18"/>
<rect x="571.00" y="552.89" width="13.90" height="8.81" fill="#1e1e18"/>
<rect x="584.30" y="552.89" width="13.90" height="8.81" fill="#1a1a16"/>
<rect x="597.60" y="552.89" width="13.90" height="8.81" fill="#3a1e1a"/>
<rect x="610.90" y="552.89" width="13.90" height="8.81" fill="#161614"/>
<rect x="624.20" y="552.89" width="13.30" height="8.81" fill="#b03020"/>
<rect x="451.30" y="561.10" width="13.90" height="8.81" fill="#1e1e18"/>
<rect x="464.60" y="561.10" width="13.90" height="8.81" fill="#385a2a"/>
<rect x="477.90" y="561.10" width="13.90" height="8.81" fill="#2e8a2a"/>
<rect x="491.20" y="561.10" width="13.90" height="8.81" fill="#2a2e20"/>
<rect x="504.50" y="561.10" width="13.90" height="8.81" fill="#2a3020"/>
<rect x="517.80" y="561.10" width="13.90" height="8.81" fill="#1e1a16"/>
<rect x="531.10" y="561.10" width="13.90" height="8.81" fill="#1e1a16"/>
<rect x="544.40" y="561.10" width="13.90" height="8.81" fill="#1e1a16"/>
<rect x="557.70" y="561.10" width="13.90" height="8.81" fill="#1e1e18"/>
<rect x="571.00" y="561.10" width="13.90" height="8.81" fill="#1e1e18"/>
<rect x="584.30" y="561.10" width="13.90" height="8.81" fill="#1e1a16"/>
<rect x="597.60" y="561.10" width="13.90" height="8.81" fill="#a83020"/>
<rect x="610.90" y="561.10" width="13.90" height="8.81" fill="#221c18"/>
<rect x="624.20" y="561.10" width="13.30" height="8.81" fill="#7a2a20"/>
<rect x="451.30" y="569.31" width="13.90" height="8.21" fill="#2e3e24"/>
<rect x="464.60" y="569.31" width="13.90" height="8.21" fill="#2a3020"/>
<rect x="477.90" y="569.31" width="13.90" height="8.21" fill="#2e3e24"/>
<rect x="491.20" y="569.31" width="13.90" height="8.21" fill="#2e3e24"/>
<rect x="504.50" y="569.31" width="13.90" height="8.21" fill="#22221c"/>
<rect x="517.80" y="569.31" width="13.90" height="8.21" fill="#26241e"/>
<rect x="531.10" y="569.31" width="13.90" height="8.21" fill="#26241e"/>
<rect x="544.40" y="569.31" width="13.90" height="8.21" fill="#1e1e18"/>
<rect x="557.70" y="569.31" width="13.90" height="8.21" fill="#161614"/>
<rect x="571.00" y="569.31" width="13.90" height="8.21" fill="#3a1e1a"/>
<rect x="584.30" y="569.31" width="13.90" height="8.21" fill="#22221c"/>
<rect x="597.60" y="569.31" width="13.90" height="8.21" fill="#8a2a20"/>
<rect x="610.90" y="569.31" width="13.90" height="8.21" fill="#8a2a20"/>
<rect x="624.20" y="569.31" width="13.30" height="8.21" fill="#6a2620"/>
<rect x="451.30" y="392.20" width="66.50" height="3.50" fill="#4cbf1e"/>
<rect x="517.80" y="392.20" width="119.70" height="3.50" fill="#e2311d"/>
<text x="639.10" y="395.60" font-size="4.0" font-weight="bold" fill="#333">class</text>
<text x="639.50" y="402.40" font-size="3.9" fill="#555">HK(R)</text>
<text x="639.50" y="410.61" font-size="3.9" fill="#555">DCN2</text>
<text x="639.50" y="418.82" font-size="3.9" fill="#555">Hkl_3</text>
<text x="639.50" y="427.03" font-size="3.9" fill="#555">RNPHA08</text>
<text x="639.50" y="435.25" font-size="3.9" fill="#555">HMOX1</text>
<text x="639.50" y="443.45" font-size="3.9" fill="#555">CD030</text>
<text x="639.50" y="451.66" font-size="3.9" fill="#555">ADAM17</text>
<text x="639.50" y="459.88" font-size="3.9" fill="#555">EJC1</text>
<text x="639.50" y="468.08" font-size="3.9" fill="#555">TBC1D29</text>
<text x="639.50" y="476.29" font-size="3.9" fill="#555">EIF2HRD8U</text>
<text x="639.50" y="484.50" font-size="3.9" fill="#555">RNPHA0B2</text>
<text x="639.50" y="492.71" font-size="3.9" fill="#555">SLC39A2</text>
<text x="639.50" y="500.92" font-size="3.9" fill="#555">DYBKB</text>
<text x="639.50" y="509.13" font-size="3.9" fill="#555">MFNR2</text>
<text x="639.50" y="517.34" font-size="3.9" fill="#555">MHMCX0L1</text>
<text x="639.50" y="525.55" font-size="3.9" fill="#555">ARPC6L</text>
<text x="639.50" y="533.76" font-size="3.9" fill="#555">SNAPDD1</text>
<text x="639.50" y="541.98" font-size="3.9" fill="#555">TRIO</text>
<text x="639.50" y="550.19" font-size="3.9" fill="#555">PRKX</text>
<text x="639.50" y="558.39" font-size="3.9" fill="#555">ZDHHC2</text>
<text x="639.50" y="566.61" font-size="3.9" fill="#555">PTHCA</text>
<text x="639.50" y="574.81" font-size="3.9" fill="#555">TMEEY-FIGAM2</text>
<text x="0" y="0" font-size="3.9" fill="#555" transform="translate(456.65,579.52) rotate(90)">Sample4</text>
<text x="0" y="0" font-size="3.9" fill="#555" transform="translate(469.95,579.52) rotate(90)">Sample5</text>
<text x="0" y="0" font-size="3.9" fill="#555" transform="translate(483.25,579.52) rotate(90)">Sample1</text>
<text x="0" y="0" font-size="3.9" fill="#555" transform="translate(496.55,579.52) rotate(90)">Sample3</text>
<text x="0" y="0" font-size="3.9" fill="#555" transform="translate(509.85,579.52) rotate(90)">Sample2</text>
<text x="0" y="0" font-size="3.9" fill="#555" transform="translate(523.15,579.52) rotate(90)">Sample14</text>
<text x="0" y="0" font-size="3.9" fill="#555" transform="translate(536.45,579.52) rotate(90)">Sample8</text>
<text x="0" y="0" font-size="3.9" fill="#555" transform="translate(549.75,579.52) rotate(90)">Sample11</text>
<text x="0" y="0" font-size="3.9" fill="#555" transform="translate(563.05,579.52) rotate(90)">Sample1</text>
<text x="0" y="0" font-size="3.9" fill="#555" transform="translate(576.35,579.52) rotate(90)">Sample6</text>
<text x="0" y="0" font-size="3.9" fill="#555" transform="translate(589.65,579.52) rotate(90)">Sample7</text>
<text x="0" y="0" font-size="3.9" fill="#555" transform="translate(602.95,579.52) rotate(90)">Sample12</text>
<text x="0" y="0" font-size="3.9" fill="#555" transform="translate(616.25,579.52) rotate(90)">Sample10</text>
<text x="0" y="0" font-size="3.9" fill="#555" transform="translate(629.55,579.52) rotate(90)">Sample13</text>
<polyline points="469.50,386.50 469.50,369.50 552.40,369.50 552.40,382.50" fill="none" stroke="#777" stroke-width="0.6"/>
<polyline points="457.70,391.80 457.70,386.50 481.00,386.50 481.00,388.30" fill="none" stroke="#777" stroke-width="0.6"/>
<polyline points="470.00,389.30 470.00,388.30 493.00,388.30 493.00,391.80" fill="none" stroke="#777" stroke-width="0.6"/>
<polyline points="471.25,391.80 471.25,389.30 487.55,389.30 487.55,391.80" fill="none" stroke="#777" stroke-width="0.6"/>
<polyline points="522.70,388.00 522.70,382.50 581.50,382.50 581.50,384.50" fill="none" stroke="#777" stroke-width="0.6"/>
<polyline points="522.45,391.80 522.45,388.00 538.00,388.00 538.00,389.20" fill="none" stroke="#777" stroke-width="0.6"/>
<polyline points="537.75,391.80 537.75,389.20 564.35,389.20 564.35,389.80" fill="none" stroke="#777" stroke-width="0.6"/>
<polyline points="571.00,387.50 571.00,384.50 607.00,384.50 607.00,385.50" fill="none" stroke="#777" stroke-width="0.6"/>
<polyline points="575.65,391.80 575.65,387.50 592.95,387.50 592.95,388.80" fill="none" stroke="#777" stroke-width="0.6"/>
<polyline points="598.00,388.00 598.00,385.50 627.00,385.50 627.00,389.00" fill="none" stroke="#777" stroke-width="0.6"/>
<polyline points="604.25,391.80 604.25,388.00 619.55,388.00 619.55,391.80" fill="none" stroke="#777" stroke-width="0.6"/>
<polyline points="627.85,391.80 627.85,389.00 632.85,389.00 632.85,391.80" fill="none" stroke="#777" stroke-width="0.6"/>
<polyline points="447.00,427.30 428.90,427.30 428.90,520.60 447.00,520.60" fill="none" stroke="#777" stroke-width="0.6"/>
<polyline points="449.00,410.00 447.00,410.00 447.00,455.00 448.50,455.00" fill="none" stroke="#777" stroke-width="0.6"/>
<polyline points="450.80,401.00 449.00,401.00 449.00,425.63 450.80,425.63" fill="none" stroke="#777" stroke-width="0.6"/>
<polyline points="450.00,440.00 448.50,440.00 448.50,478.00 449.50,478.00" fill="none" stroke="#777" stroke-width="0.6"/>
<polyline points="450.80,433.85 450.00,433.85 450.00,450.26 450.80,450.26" fill="none" stroke="#777" stroke-width="0.6"/>
<polyline points="450.80,458.48 449.50,458.48 449.50,483.11 450.80,483.11" fill="none" stroke="#777" stroke-width="0.6"/>
<polyline points="449.00,500.00 447.00,500.00 447.00,545.00 448.50,545.00" fill="none" stroke="#777" stroke-width="0.6"/>
<polyline points="450.80,491.31 449.00,491.31 449.00,524.15 450.80,524.15" fill="none" stroke="#777" stroke-width="0.6"/>
<polyline points="450.00,530.00 448.50,530.00 448.50,562.00 450.00,562.00" fill="none" stroke="#777" stroke-width="0.6"/>
<polyline points="450.80,532.37 450.00,532.37 450.00,573.41 450.80,573.41" fill="none" stroke="#777" stroke-width="0.6"/>
<line x1="449.60" y1="401.00" x2="451.00" y2="401.00" stroke="#777" stroke-width="0.4"/>
<line x1="449.60" y1="409.21" x2="451.00" y2="409.21" stroke="#777" stroke-width="0.4"/>
<line x1="449.60" y1="417.43" x2="451.00" y2="417.43" stroke="#777" stroke-width="0.4"/>
<line x1="449.60" y1="425.63" x2="451.00" y2="425.63" stroke="#777" stroke-width="0.4"/>
<line x1="449.60" y1="433.85" x2="451.00" y2="433.85" stroke="#777" stroke-width="0.4"/>
<line x1="449.60" y1="442.06" x2="451.00" y2="442.06" stroke="#777" stroke-width="0.4"/>
<line x1="449.60" y1="450.26" x2="451.00" y2="450.26" stroke="#777" stroke-width="0.4"/>
<line x1="449.60" y1="458.48" x2="451.00" y2="458.48" stroke="#777" stroke-width="0.4"/>
<line x1="449.60" y1="466.69" x2="451.00" y2="466.69" stroke="#777" stroke-width="0.4"/>
<line x1="449.60" y1="474.89" x2="451.00" y2="474.89" stroke="#777" stroke-width="0.4"/>
<line x1="449.60" y1="483.11" x2="451.00" y2="483.11" stroke="#777" stroke-width="0.4"/>
<line x1="449.60" y1="491.31" x2="451.00" y2="491.31" stroke="#777" stroke-width="0.4"/>
<line x1="449.60" y1="499.52" x2="451.00" y2="499.52" stroke="#777" stroke-width="0.4"/>
<line x1="449.60" y1="507.74" x2="451.00" y2="507.74" stroke="#777" stroke-width="0.4"/>
<line x1="449.60" y1="515.94" x2="451.00" y2="515.94" stroke="#777" stroke-width="0.4"/>
<line x1="449.60" y1="524.15" x2="451.00" y2="524.15" stroke="#777" stroke-width="0.4"/>
<line x1="449.60" y1="532.37" x2="451.00" y2="532.37" stroke="#777" stroke-width="0.4"/>
<line x1="449.60" y1="540.58" x2="451.00" y2="540.58" stroke="#777" stroke-width="0.4"/>
<line x1="449.60" y1="548.79" x2="451.00" y2="548.79" stroke="#777" stroke-width="0.4"/>
<line x1="449.60" y1="557.00" x2="451.00" y2="557.00" stroke="#777" stroke-width="0.4"/>
<line x1="449.60" y1="565.21" x2="451.00" y2="565.21" stroke="#777" stroke-width="0.4"/>
<line x1="449.60" y1="573.41" x2="451.00" y2="573.41" stroke="#777" stroke-width="0.4"/>
<defs><linearGradient id="kd" x1="0" y1="0" x2="0" y2="1"><stop offset="0" stop-color="#e8301c"/><stop offset="0.5" stop-color="#000"/><stop offset="1" stop-color="#6cc81e"/></linearGradient></defs>
<rect x="667.10" y="391.90" width="3.90" height="62.70" fill="url(#kd)"/>
<text x="673.00" y="397.20" font-size="3.4" fill="#444">3</text>
<text x="673.00" y="406.20" font-size="3.4" fill="#444">2</text>
<text x="673.00" y="415.20" font-size="3.4" fill="#444">1</text>
<text x="673.00" y="424.20" font-size="3.4" fill="#444">0</text>
<text x="673.00" y="433.20" font-size="3.4" fill="#444">-1</text>
<text x="673.00" y="442.20" font-size="3.4" fill="#444">-2</text>
<text x="673.00" y="451.20" font-size="3.4" fill="#444">-3</text>
<text x="675.00" y="391.60" font-size="3.8" font-weight="bold" fill="#333">class</text>
<rect x="676.80" y="395.00" width="4.70" height="4.70" fill="#e2311d"/>
<rect x="676.80" y="399.90" width="4.70" height="4.50" fill="#4cbf1e"/>
<text x="684.00" y="398.80" font-size="4.9" font-weight="bold" textLength="28.0" lengthAdjust="spacingAndGlyphs" fill="#222">Gr.B:SAHNIO</text>
<text x="684.00" y="403.70" font-size="4.9" font-weight="bold" textLength="25.0" lengthAdjust="spacingAndGlyphs" fill="#222">Gr.A: SAHIO</text>
<line x1="37.00" y1="814.30" x2="37.00" y2="817.10" stroke="#000" stroke-width="0.8"/>
<line x1="34.45" y1="782.10" x2="34.45" y2="771.98" stroke="#888" stroke-width="0.55"/>
<rect x="32.65" y="782.10" width="3.60" height="32.20" fill="#d9d9d9" stroke="#6a6a6a" stroke-width="0.5"/>
<line x1="39.80" y1="804.73" x2="39.80" y2="797.74" stroke="#444" stroke-width="0.55"/>
<rect x="37.80" y="804.73" width="4.00" height="9.57" fill="#000"/>
<polygon points="34.45,761.10 35.01,762.23 36.26,762.41 35.35,763.29 35.57,764.54 34.45,763.95 33.33,764.54 33.55,763.29 32.64,762.41 33.89,762.23" fill="#2a2a2a"/>
<text x="0" y="0" font-size="8.0" font-weight="bold" text-anchor="end" fill="#111" transform="translate(39.40,825.30) rotate(-45)">CCL13</text>
<line x1="52.20" y1="814.30" x2="52.20" y2="817.10" stroke="#000" stroke-width="0.8"/>
<line x1="49.65" y1="798.11" x2="49.65" y2="789.09" stroke="#888" stroke-width="0.55"/>
<rect x="47.85" y="798.11" width="3.60" height="16.19" fill="#d9d9d9" stroke="#6a6a6a" stroke-width="0.5"/>
<line x1="55.00" y1="780.81" x2="55.00" y2="773.82" stroke="#444" stroke-width="0.55"/>
<rect x="53.00" y="780.81" width="4.00" height="33.49" fill="#000"/>
<polygon points="55.00,761.10 55.56,762.23 56.81,762.41 55.90,763.29 56.12,764.54 55.00,763.95 53.88,764.54 54.10,763.29 53.19,762.41 54.44,762.23" fill="#2a2a2a"/>
<text x="0" y="0" font-size="8.0" font-weight="bold" text-anchor="end" fill="#111" transform="translate(54.60,825.30) rotate(-45)">CCL15</text>
<line x1="67.40" y1="814.30" x2="67.40" y2="817.10" stroke="#000" stroke-width="0.8"/>
<line x1="64.85" y1="799.03" x2="64.85" y2="792.22" stroke="#888" stroke-width="0.55"/>
<rect x="63.05" y="799.03" width="3.60" height="15.27" fill="#d9d9d9" stroke="#6a6a6a" stroke-width="0.5"/>
<line x1="70.20" y1="776.95" x2="70.20" y2="767.38" stroke="#444" stroke-width="0.55"/>
<rect x="68.20" y="776.95" width="4.00" height="37.35" fill="#000"/>
<polygon points="70.20,755.30 70.76,756.43 72.01,756.61 71.10,757.49 71.32,758.74 70.20,758.15 69.08,758.74 69.30,757.49 68.39,756.61 69.64,756.43" fill="#2a2a2a"/>
<text x="0" y="0" font-size="8.0" font-weight="bold" text-anchor="end" fill="#111" transform="translate(69.80,825.30) rotate(-45)">CCL24</text>
<line x1="82.60" y1="814.30" x2="82.60" y2="817.10" stroke="#000" stroke-width="0.8"/>
<line x1="80.05" y1="799.95" x2="80.05" y2="794.98" stroke="#888" stroke-width="0.55"/>
<rect x="78.25" y="799.95" width="3.60" height="14.35" fill="#d9d9d9" stroke="#6a6a6a" stroke-width="0.5"/>
<line x1="85.40" y1="785.04" x2="85.40" y2="776.21" stroke="#444" stroke-width="0.55"/>
<rect x="83.40" y="785.04" width="4.00" height="29.26" fill="#000"/>
<polygon points="85.40,764.50 85.96,765.63 87.21,765.81 86.30,766.69 86.52,767.94 85.40,767.35 84.28,767.94 84.50,766.69 83.59,765.81 84.84,765.63" fill="#2a2a2a"/>
<text x="0" y="0" font-size="8.0" font-weight="bold" text-anchor="end" fill="#111" transform="translate(85.00,825.30) rotate(-45)">CCL26</text>
<line x1="97.80" y1="814.30" x2="97.80" y2="817.10" stroke="#000" stroke-width="0.8"/>
<line x1="95.25" y1="783.94" x2="95.25" y2="775.66" stroke="#888" stroke-width="0.55"/>
<rect x="93.45" y="783.94" width="3.60" height="30.36" fill="#d9d9d9" stroke="#6a6a6a" stroke-width="0.5"/>
<line x1="100.60" y1="803.63" x2="100.60" y2="795.53" stroke="#444" stroke-width="0.55"/>
<rect x="98.60" y="803.63" width="4.00" height="10.67" fill="#000"/>
<polygon points="95.25,765.90 95.81,767.03 97.06,767.21 96.15,768.09 96.37,769.34 95.25,768.75 94.13,769.34 94.35,768.09 93.44,767.21 94.69,767.03" fill="#2a2a2a"/>
<text x="0" y="0" font-size="8.0" font-weight="bold" text-anchor="end" fill="#111" transform="translate(100.20,825.30) rotate(-45)">CXCL11</text>
<line x1="113.00" y1="814.30" x2="113.00" y2="817.10" stroke="#000" stroke-width="0.8"/>
<line x1="110.45" y1="799.03" x2="110.45" y2="791.85" stroke="#888" stroke-width="0.55"/>
<rect x="108.65" y="799.03" width="3.60" height="15.27" fill="#d9d9d9" stroke="#6a6a6a" stroke-width="0.5"/>
<line x1="115.80" y1="776.21" x2="115.80" y2="767.93" stroke="#444" stroke-width="0.55"/>
<rect x="113.80" y="776.21" width="4.00" height="38.09" fill="#000"/>
<polygon points="115.80,756.60 116.36,757.73 117.61,757.91 116.70,758.79 116.92,760.04 115.80,759.45 114.68,760.04 114.90,758.79 113.99,757.91 115.24,757.73" fill="#2a2a2a"/>
<text x="0" y="0" font-size="8.0" font-weight="bold" text-anchor="end" fill="#111" transform="translate(115.40,825.30) rotate(-45)">CXCL2</text>
<line x1="128.20" y1="814.30" x2="128.20" y2="817.10" stroke="#000" stroke-width="0.8"/>
<line x1="125.65" y1="784.12" x2="125.65" y2="775.11" stroke="#888" stroke-width="0.55"/>
<rect x="123.85" y="784.12" width="3.60" height="30.18" fill="#d9d9d9" stroke="#6a6a6a" stroke-width="0.5"/>
<line x1="131.00" y1="803.26" x2="131.00" y2="796.27" stroke="#444" stroke-width="0.55"/>
<rect x="129.00" y="803.26" width="4.00" height="11.04" fill="#000"/>
<polygon points="125.65,762.60 126.21,763.73 127.46,763.91 126.55,764.79 126.77,766.04 125.65,765.45 124.53,766.04 124.75,764.79 123.84,763.91 125.09,763.73" fill="#2a2a2a"/>
<text x="0" y="0" font-size="8.0" font-weight="bold" text-anchor="end" fill="#111" transform="translate(130.60,825.30) rotate(-45)">XCR1</text>
<line x1="143.40" y1="814.30" x2="143.40" y2="817.10" stroke="#000" stroke-width="0.8"/>
<line x1="140.85" y1="786.52" x2="140.85" y2="774.37" stroke="#888" stroke-width="0.55"/>
<rect x="139.05" y="786.52" width="3.60" height="27.78" fill="#d9d9d9" stroke="#6a6a6a" stroke-width="0.5"/>
<line x1="146.20" y1="802.16" x2="146.20" y2="799.40" stroke="#444" stroke-width="0.55"/>
<rect x="144.20" y="802.16" width="4.00" height="12.14" fill="#000"/>
<polygon points="140.85,763.50 141.41,764.63 142.66,764.81 141.75,765.69 141.97,766.94 140.85,766.35 139.73,766.94 139.95,765.69 139.04,764.81 140.29,764.63" fill="#2a2a2a"/>
<text x="0" y="0" font-size="8.0" font-weight="bold" text-anchor="end" fill="#111" transform="translate(145.80,825.30) rotate(-45)">MIF</text>
<line x1="158.60" y1="814.30" x2="158.60" y2="817.10" stroke="#000" stroke-width="0.8"/>
<line x1="173.80" y1="814.30" x2="173.80" y2="817.10" stroke="#000" stroke-width="0.8"/>
<line x1="171.25" y1="799.21" x2="171.25" y2="794.98" stroke="#888" stroke-width="0.55"/>
<rect x="169.45" y="799.21" width="3.60" height="15.09" fill="#d9d9d9" stroke="#6a6a6a" stroke-width="0.5"/>
<line x1="176.60" y1="787.07" x2="176.60" y2="779.89" stroke="#444" stroke-width="0.55"/>
<rect x="174.60" y="787.07" width="4.00" height="27.23" fill="#000"/>
<polygon points="176.60,768.10 177.16,769.23 178.41,769.41 177.50,770.29 177.72,771.54 176.60,770.95 175.48,771.54 175.70,770.29 174.79,769.41 176.04,769.23" fill="#2a2a2a"/>
<text x="0" y="0" font-size="8.0" font-weight="bold" text-anchor="end" fill="#111" transform="translate(176.20,825.30) rotate(-45)">CYBRD1</text>
<line x1="189.00" y1="814.30" x2="189.00" y2="817.10" stroke="#000" stroke-width="0.8"/>
<line x1="186.45" y1="799.03" x2="186.45" y2="792.77" stroke="#888" stroke-width="0.55"/>
<rect x="184.65" y="799.03" width="3.60" height="15.27" fill="#d9d9d9" stroke="#6a6a6a" stroke-width="0.5"/>
<line x1="191.80" y1="777.87" x2="191.80" y2="774.92" stroke="#444" stroke-width="0.55"/>
<rect x="189.80" y="777.87" width="4.00" height="36.43" fill="#000"/>
<polygon points="191.80,763.90 192.36,765.03 193.61,765.21 192.70,766.09 192.92,767.34 191.80,766.75 190.68,767.34 190.90,766.09 189.99,765.21 191.24,765.03" fill="#2a2a2a"/>
<text x="0" y="0" font-size="8.0" font-weight="bold" text-anchor="end" fill="#111" transform="translate(191.40,825.30) rotate(-45)">HAMP</text>
<line x1="204.20" y1="814.30" x2="204.20" y2="817.10" stroke="#000" stroke-width="0.8"/>
<line x1="201.65" y1="791.12" x2="201.65" y2="784.12" stroke="#888" stroke-width="0.55"/>
<rect x="199.85" y="791.12" width="3.60" height="23.18" fill="#d9d9d9" stroke="#6a6a6a" stroke-width="0.5"/>
<line x1="207.00" y1="802.34" x2="207.00" y2="797.37" stroke="#444" stroke-width="0.55"/>
<rect x="205.00" y="802.34" width="4.00" height="11.96" fill="#000"/>
<polygon points="201.65,770.40 202.21,771.53 203.46,771.71 202.55,772.59 202.77,773.84 201.65,773.25 200.53,773.84 200.75,772.59 199.84,771.71 201.09,771.53" fill="#2a2a2a"/>
<text x="0" y="0" font-size="8.0" font-weight="bold" text-anchor="end" fill="#111" transform="translate(206.60,825.30) rotate(-45)">TFRC</text>
<line x1="219.40" y1="814.30" x2="219.40" y2="817.10" stroke="#000" stroke-width="0.8"/>
<line x1="234.60" y1="814.30" x2="234.60" y2="817.10" stroke="#000" stroke-width="0.8"/>
<line x1="232.05" y1="798.11" x2="232.05" y2="792.22" stroke="#888" stroke-width="0.55"/>
<rect x="230.25" y="798.11" width="3.60" height="16.19" fill="#d9d9d9" stroke="#6a6a6a" stroke-width="0.5"/>
<line x1="237.40" y1="782.28" x2="237.40" y2="775.29" stroke="#444" stroke-width="0.55"/>
<rect x="235.40" y="782.28" width="4.00" height="32.02" fill="#000"/>
<polygon points="237.40,763.50 237.96,764.63 239.21,764.81 238.30,765.69 238.52,766.94 237.40,766.35 236.28,766.94 236.50,765.69 235.59,764.81 236.84,764.63" fill="#2a2a2a"/>
<text x="0" y="0" font-size="8.0" font-weight="bold" text-anchor="end" fill="#111" transform="translate(237.00,825.30) rotate(-45)">EGFR</text>
<line x1="249.80" y1="814.30" x2="249.80" y2="817.10" stroke="#000" stroke-width="0.8"/>
<line x1="247.25" y1="799.95" x2="247.25" y2="796.27" stroke="#888" stroke-width="0.55"/>
<rect x="245.45" y="799.95" width="3.60" height="14.35" fill="#d9d9d9" stroke="#6a6a6a" stroke-width="0.5"/>
<line x1="252.60" y1="770.51" x2="252.60" y2="762.04" stroke="#444" stroke-width="0.55"/>
<rect x="250.60" y="770.51" width="4.00" height="43.79" fill="#000"/>
<polygon points="252.60,749.80 253.16,750.93 254.41,751.11 253.50,751.99 253.72,753.24 252.60,752.65 251.48,753.24 251.70,751.99 250.79,751.11 252.04,750.93" fill="#2a2a2a"/>
<text x="0" y="0" font-size="8.0" font-weight="bold" text-anchor="end" fill="#111" transform="translate(252.20,825.30) rotate(-45)">ERBB2</text>
<line x1="265.00" y1="814.30" x2="265.00" y2="817.10" stroke="#000" stroke-width="0.8"/>
<line x1="262.45" y1="799.58" x2="262.45" y2="794.06" stroke="#888" stroke-width="0.55"/>
<rect x="260.65" y="799.58" width="3.60" height="14.72" fill="#d9d9d9" stroke="#6a6a6a" stroke-width="0.5"/>
<line x1="267.80" y1="773.82" x2="267.80" y2="769.96" stroke="#444" stroke-width="0.55"/>
<rect x="265.80" y="773.82" width="4.00" height="40.48" fill="#000"/>
<polygon points="267.80,756.60 268.36,757.73 269.61,757.91 268.70,758.79 268.92,760.04 267.80,759.45 266.68,760.04 266.90,758.79 265.99,757.91 267.24,757.73" fill="#2a2a2a"/>
<text x="0" y="0" font-size="8.0" font-weight="bold" text-anchor="end" fill="#111" transform="translate(267.40,825.30) rotate(-45)">NOTCH3</text>
<line x1="280.20" y1="814.30" x2="280.20" y2="817.10" stroke="#000" stroke-width="0.8"/>
<line x1="277.65" y1="788.54" x2="277.65" y2="781.36" stroke="#888" stroke-width="0.55"/>
<rect x="275.85" y="788.54" width="3.60" height="25.76" fill="#d9d9d9" stroke="#6a6a6a" stroke-width="0.5"/>
<line x1="283.00" y1="804.36" x2="283.00" y2="799.95" stroke="#444" stroke-width="0.55"/>
<rect x="281.00" y="804.36" width="4.00" height="9.94" fill="#000"/>
<polygon points="277.65,767.00 278.21,768.13 279.46,768.31 278.55,769.19 278.77,770.44 277.65,769.85 276.53,770.44 276.75,769.19 275.84,768.31 277.09,768.13" fill="#2a2a2a"/>
<text x="0" y="0" font-size="8.0" font-weight="bold" text-anchor="end" fill="#111" transform="translate(282.60,825.30) rotate(-45)">PRKCA</text>
<line x1="295.40" y1="814.30" x2="295.40" y2="817.10" stroke="#000" stroke-width="0.8"/>
<line x1="292.85" y1="804.00" x2="292.85" y2="800.50" stroke="#888" stroke-width="0.55"/>
<rect x="291.05" y="804.00" width="3.60" height="10.30" fill="#d9d9d9" stroke="#6a6a6a" stroke-width="0.5"/>
<line x1="298.20" y1="762.96" x2="298.20" y2="753.40" stroke="#444" stroke-width="0.55"/>
<rect x="296.20" y="762.96" width="4.00" height="51.34" fill="#000"/>
<polygon points="298.20,742.60 298.76,743.73 300.01,743.91 299.10,744.79 299.32,746.04 298.20,745.45 297.08,746.04 297.30,744.79 296.39,743.91 297.64,743.73" fill="#2a2a2a"/>
<text x="0" y="0" font-size="8.0" font-weight="bold" text-anchor="end" fill="#111" transform="translate(297.80,825.30) rotate(-45)">ADAM17</text>
<line x1="310.60" y1="814.30" x2="310.60" y2="817.10" stroke="#000" stroke-width="0.8"/>
<line x1="325.80" y1="814.30" x2="325.80" y2="817.10" stroke="#000" stroke-width="0.8"/>
<line x1="323.25" y1="786.88" x2="323.25" y2="777.32" stroke="#888" stroke-width="0.55"/>
<rect x="321.45" y="786.88" width="3.60" height="27.42" fill="#d9d9d9" stroke="#6a6a6a" stroke-width="0.5"/>
<line x1="328.60" y1="801.42" x2="328.60" y2="797.00" stroke="#444" stroke-width="0.55"/>
<rect x="326.60" y="801.42" width="4.00" height="12.88" fill="#000"/>
<polygon points="323.25,764.10 323.81,765.23 325.06,765.41 324.15,766.29 324.37,767.54 323.25,766.95 322.13,767.54 322.35,766.29 321.44,765.41 322.69,765.23" fill="#2a2a2a"/>
<text x="0" y="0" font-size="8.0" font-weight="bold" text-anchor="end" fill="#111" transform="translate(328.20,825.30) rotate(-45)">PTGS1</text>
<line x1="341.00" y1="814.30" x2="341.00" y2="817.10" stroke="#000" stroke-width="0.8"/>
<line x1="338.45" y1="798.11" x2="338.45" y2="790.01" stroke="#888" stroke-width="0.55"/>
<rect x="336.65" y="798.11" width="3.60" height="16.19" fill="#d9d9d9" stroke="#6a6a6a" stroke-width="0.5"/>
<line x1="343.80" y1="779.71" x2="343.80" y2="770.32" stroke="#444" stroke-width="0.55"/>
<rect x="341.80" y="779.71" width="4.00" height="34.59" fill="#000"/>
<polygon points="343.80,757.00 344.36,758.13 345.61,758.31 344.70,759.19 344.92,760.44 343.80,759.85 342.68,760.44 342.90,759.19 341.99,758.31 343.24,758.13" fill="#2a2a2a"/>
<text x="0" y="0" font-size="8.0" font-weight="bold" text-anchor="end" fill="#111" transform="translate(343.40,825.30) rotate(-45)">EPX</text>
<line x1="356.20" y1="814.30" x2="356.20" y2="817.10" stroke="#000" stroke-width="0.8"/>
<line x1="353.65" y1="799.21" x2="353.65" y2="791.67" stroke="#888" stroke-width="0.55"/>
<rect x="351.85" y="799.21" width="3.60" height="15.09" fill="#d9d9d9" stroke="#6a6a6a" stroke-width="0.5"/>
<line x1="359.00" y1="776.03" x2="359.00" y2="765.36" stroke="#444" stroke-width="0.55"/>
<rect x="357.00" y="776.03" width="4.00" height="38.27" fill="#000"/>
<polygon points="359.00,758.10 359.56,759.23 360.81,759.41 359.90,760.29 360.12,761.54 359.00,760.95 357.88,761.54 358.10,760.29 357.19,759.41 358.44,759.23" fill="#2a2a2a"/>
<text x="0" y="0" font-size="8.0" font-weight="bold" text-anchor="end" fill="#111" transform="translate(358.60,825.30) rotate(-45)">KRT1</text>
<line x1="371.40" y1="814.30" x2="371.40" y2="817.10" stroke="#000" stroke-width="0.8"/>
<line x1="368.85" y1="796.45" x2="368.85" y2="787.99" stroke="#888" stroke-width="0.55"/>
<rect x="367.05" y="796.45" width="3.60" height="17.85" fill="#d9d9d9" stroke="#6a6a6a" stroke-width="0.5"/>
<line x1="374.20" y1="774.19" x2="374.20" y2="769.40" stroke="#444" stroke-width="0.55"/>
<rect x="372.20" y="774.19" width="4.00" height="40.11" fill="#000"/>
<polygon points="374.20,756.20 374.76,757.33 376.01,757.51 375.10,758.39 375.32,759.64 374.20,759.05 373.08,759.64 373.30,758.39 372.39,757.51 373.64,757.33" fill="#2a2a2a"/>
<text x="0" y="0" font-size="8.0" font-weight="bold" text-anchor="end" fill="#111" transform="translate(373.80,825.30) rotate(-45)">SOD1</text>
<line x1="386.60" y1="814.30" x2="386.60" y2="817.10" stroke="#000" stroke-width="0.8"/>
<line x1="401.80" y1="814.30" x2="401.80" y2="817.10" stroke="#000" stroke-width="0.8"/>
<rect x="397.45" y="808.78" width="3.60" height="5.52" fill="#d9d9d9" stroke="#6a6a6a" stroke-width="0.5"/>
<rect x="402.60" y="740.40" width="4.00" height="73.90" fill="#000"/>
<rect x="402.60" y="728.30" width="4.00" height="5.50" fill="#000"/>
<line x1="404.60" y1="726.30" x2="404.60" y2="728.30" stroke="#444" stroke-width="0.55"/>
<line x1="403.40" y1="726.30" x2="405.80" y2="726.30" stroke="#444" stroke-width="0.55"/>
<polygon points="404.60,714.90 405.16,716.03 406.41,716.21 405.50,717.09 405.72,718.34 404.60,717.75 403.48,718.34 403.70,717.09 402.79,716.21 404.04,716.03" fill="#2a2a2a"/>
<text x="0" y="0" font-size="8.0" font-weight="bold" text-anchor="end" fill="#111" transform="translate(404.20,825.30) rotate(-45)">CD163</text>
<line x1="417.00" y1="814.30" x2="417.00" y2="817.10" stroke="#000" stroke-width="0.8"/>
<line x1="414.45" y1="799.95" x2="414.45" y2="795.16" stroke="#888" stroke-width="0.55"/>
<rect x="412.65" y="799.95" width="3.60" height="14.35" fill="#d9d9d9" stroke="#6a6a6a" stroke-width="0.5"/>
<line x1="419.80" y1="783.76" x2="419.80" y2="779.71" stroke="#444" stroke-width="0.55"/>
<rect x="417.80" y="783.76" width="4.00" height="30.54" fill="#000"/>
<polygon points="419.80,767.70 420.36,768.83 421.61,769.01 420.70,769.89 420.92,771.14 419.80,770.55 418.68,771.14 418.90,769.89 417.99,769.01 419.24,768.83" fill="#2a2a2a"/>
<text x="0" y="0" font-size="8.0" font-weight="bold" text-anchor="end" fill="#111" transform="translate(419.40,825.30) rotate(-45)">HMOX1</text>
<line x1="29.60" y1="740.40" x2="29.60" y2="814.70" stroke="#000" stroke-width="0.9"/>
<line x1="29.60" y1="704.30" x2="29.60" y2="733.80" stroke="#000" stroke-width="0.9"/>
<line x1="27.30" y1="733.80" x2="32.10" y2="733.80" stroke="#000" stroke-width="0.9"/>
<line x1="26.90" y1="740.40" x2="32.10" y2="740.40" stroke="#000" stroke-width="0.9"/>
<line x1="29.60" y1="814.30" x2="423.30" y2="814.30" stroke="#000" stroke-width="0.9"/>
<line x1="26.90" y1="704.30" x2="29.60" y2="704.30" stroke="#000" stroke-width="0.8"/>
<text x="25.40" y="707.05" font-size="7.6" font-weight="bold" text-anchor="end" textLength="8.4" lengthAdjust="spacingAndGlyphs" fill="#111">18</text>
<line x1="26.90" y1="720.10" x2="29.60" y2="720.10" stroke="#000" stroke-width="0.8"/>
<text x="25.40" y="722.85" font-size="7.6" font-weight="bold" text-anchor="end" textLength="8.4" lengthAdjust="spacingAndGlyphs" fill="#111">12</text>
<line x1="26.90" y1="740.40" x2="29.60" y2="740.40" stroke="#000" stroke-width="0.8"/>
<text x="25.40" y="743.15" font-size="7.6" font-weight="bold" text-anchor="end" textLength="4.2" lengthAdjust="spacingAndGlyphs" fill="#111">4</text>
<line x1="26.90" y1="759.10" x2="29.60" y2="759.10" stroke="#000" stroke-width="0.8"/>
<text x="25.40" y="761.85" font-size="7.6" font-weight="bold" text-anchor="end" textLength="4.2" lengthAdjust="spacingAndGlyphs" fill="#111">3</text>
<line x1="26.90" y1="777.60" x2="29.60" y2="777.60" stroke="#000" stroke-width="0.8"/>
<text x="25.40" y="780.35" font-size="7.6" font-weight="bold" text-anchor="end" textLength="4.2" lengthAdjust="spacingAndGlyphs" fill="#111">2</text>
<line x1="26.90" y1="796.20" x2="29.60" y2="796.20" stroke="#000" stroke-width="0.8"/>
<text x="25.40" y="798.95" font-size="7.6" font-weight="bold" text-anchor="end" textLength="4.2" lengthAdjust="spacingAndGlyphs" fill="#111">1</text>
<line x1="26.90" y1="814.30" x2="29.60" y2="814.30" stroke="#000" stroke-width="0.8"/>
<text x="25.40" y="817.05" font-size="7.6" font-weight="bold" text-anchor="end" textLength="4.2" lengthAdjust="spacingAndGlyphs" fill="#111">0</text>
<text x="0" y="0" font-size="7.5" font-weight="bold" text-anchor="middle" fill="#111" textLength="114" lengthAdjust="spacingAndGlyphs" transform="translate(11.7,756.5) rotate(-90)">Relative transcript expression</text>
<rect x="306.4" y="703.4" width="10.8" height="5.6" fill="#d9d9d9" stroke="#6a6a6a" stroke-width="0.5"/>
<rect x="306.20" y="716.30" width="11.20" height="6.00" fill="#000"/>
<text x="324.10" y="709.10" font-size="8.4" textLength="63.8" lengthAdjust="spacingAndGlyphs" fill="#111">GroupB:SAHNIO</text>
<text x="324.10" y="722.30" font-size="8.4" textLength="58.3" lengthAdjust="spacingAndGlyphs" fill="#111">GroupA:SAHIO</text>
<ellipse cx="535.00" cy="782.70" rx="21.00" ry="41.50" fill="#ffd0d5" transform="rotate(6.0 535.00 782.70)"/>
<ellipse cx="615.70" cy="782.30" rx="58.00" ry="84.80" fill="#d9f5c9" transform="rotate(-2.6 615.70 782.30)"/>
<line x1="493.50" y1="675.30" x2="493.50" y2="889.50" stroke="#d6d6d6" stroke-width="0.5" stroke-dasharray="1.2,1.2"/>
<line x1="528.10" y1="675.30" x2="528.10" y2="889.50" stroke="#d6d6d6" stroke-width="0.5" stroke-dasharray="1.2,1.2"/>
<line x1="563.10" y1="675.30" x2="563.10" y2="889.50" stroke="#d6d6d6" stroke-width="0.5" stroke-dasharray="1.2,1.2"/>
<line x1="597.70" y1="675.30" x2="597.70" y2="889.50" stroke="#d6d6d6" stroke-width="0.5" stroke-dasharray="1.2,1.2"/>
<line x1="632.30" y1="675.30" x2="632.30" y2="889.50" stroke="#d6d6d6" stroke-width="0.5" stroke-dasharray="1.2,1.2"/>
<line x1="667.60" y1="675.30" x2="667.60" y2="889.50" stroke="#d6d6d6" stroke-width="0.5" stroke-dasharray="1.2,1.2"/>
<line x1="491.60" y1="721.90" x2="694.40" y2="721.90" stroke="#d6d6d6" stroke-width="0.5" stroke-dasharray="1.2,1.2"/>
<line x1="491.60" y1="782.50" x2="694.40" y2="782.50" stroke="#d6d6d6" stroke-width="0.5" stroke-dasharray="1.2,1.2"/>
<line x1="491.60" y1="843.30" x2="694.40" y2="843.30" stroke="#d6d6d6" stroke-width="0.5" stroke-dasharray="1.2,1.2"/>
<path d="M543.00,752.20 L544.65,754.90 L541.35,754.90 Z" fill="none" stroke="#e8342c" stroke-width="0.6"/>
<text x="545.60" y="755.00" font-size="4.1" font-weight="bold" textLength="16.275000000000002" lengthAdjust="spacingAndGlyphs" fill="#333">Sample6</text>
<path d="M517.20,770.10 L518.85,772.80 L515.55,772.80 Z" fill="none" stroke="#e8342c" stroke-width="0.6"/>
<text x="519.80" y="772.90" font-size="4.1" font-weight="bold" textLength="18.6" lengthAdjust="spacingAndGlyphs" fill="#333">Sample12</text>
<path d="M537.00,772.60 L538.65,775.30 L535.35,775.30 Z" fill="none" stroke="#e8342c" stroke-width="0.6"/>
<text x="539.60" y="775.40" font-size="4.1" font-weight="bold" textLength="18.6" lengthAdjust="spacingAndGlyphs" fill="#333">Sample14</text>
<path d="M546.50,777.20 L548.15,779.90 L544.85,779.90 Z" fill="none" stroke="#e8342c" stroke-width="0.6"/>
<text x="549.10" y="780.00" font-size="4.1" font-weight="bold" textLength="18.6" lengthAdjust="spacingAndGlyphs" fill="#333">Sample11</text>
<path d="M528.10,789.20 L529.75,791.90 L526.45,791.90 Z" fill="none" stroke="#e8342c" stroke-width="0.6"/>
<text x="530.70" y="792.00" font-size="4.1" font-weight="bold" textLength="18.6" lengthAdjust="spacingAndGlyphs" fill="#333">Sample10</text>
<path d="M527.10,799.80 L528.75,802.50 L525.45,802.50 Z" fill="none" stroke="#e8342c" stroke-width="0.6"/>
<text x="529.70" y="802.60" font-size="4.1" font-weight="bold" textLength="18.6" lengthAdjust="spacingAndGlyphs" fill="#333">Sample13</text>
<path d="M533.40,807.20 L535.05,809.90 L531.75,809.90 Z" fill="none" stroke="#e8342c" stroke-width="0.6"/>
<text x="536.00" y="810.00" font-size="4.1" font-weight="bold" textLength="16.275000000000002" lengthAdjust="spacingAndGlyphs" fill="#333">Sample7</text>
<line x1="619.20" y1="721.90" x2="622.00" y2="721.90" stroke="#5cc83c" stroke-width="0.6"/>
<line x1="620.60" y1="720.50" x2="620.60" y2="723.30" stroke="#5cc83c" stroke-width="0.6"/>
<text x="623.40" y="723.20" font-size="4.1" font-weight="bold" textLength="16.275000000000002" lengthAdjust="spacingAndGlyphs" fill="#333">Sample1</text>
<line x1="576.10" y1="788.20" x2="578.90" y2="788.20" stroke="#5cc83c" stroke-width="0.6"/>
<line x1="577.50" y1="786.80" x2="577.50" y2="789.60" stroke="#5cc83c" stroke-width="0.6"/>
<text x="580.30" y="789.50" font-size="4.1" font-weight="bold" textLength="16.275000000000002" lengthAdjust="spacingAndGlyphs" fill="#333">Sample2</text>
<line x1="608.60" y1="792.80" x2="611.40" y2="792.80" stroke="#5cc83c" stroke-width="0.6"/>
<line x1="610.00" y1="791.40" x2="610.00" y2="794.20" stroke="#5cc83c" stroke-width="0.6"/>
<text x="612.80" y="794.10" font-size="4.1" font-weight="bold" textLength="16.275000000000002" lengthAdjust="spacingAndGlyphs" fill="#333">Sample5</text>
<line x1="626.30" y1="804.50" x2="629.10" y2="804.50" stroke="#5cc83c" stroke-width="0.6"/>
<line x1="627.70" y1="803.10" x2="627.70" y2="805.90" stroke="#5cc83c" stroke-width="0.6"/>
<text x="630.50" y="805.80" font-size="4.1" font-weight="bold" textLength="16.275000000000002" lengthAdjust="spacingAndGlyphs" fill="#333">Sample4</text>
<line x1="639.30" y1="805.20" x2="642.10" y2="805.20" stroke="#5cc83c" stroke-width="0.6"/>
<line x1="640.70" y1="803.80" x2="640.70" y2="806.60" stroke="#5cc83c" stroke-width="0.6"/>
<text x="643.50" y="806.50" font-size="4.1" font-weight="bold" textLength="16.275000000000002" lengthAdjust="spacingAndGlyphs" fill="#333">Sample3</text>
<rect x="491.60" y="675.30" width="202.80" height="214.20" fill="none" stroke="#555" stroke-width="0.9"/>
<line x1="493.50" y1="889.50" x2="493.50" y2="893.10" stroke="#555" stroke-width="0.7"/>
<text x="493.50" y="901.50" font-size="4.6" text-anchor="middle" fill="#333">-40</text>
<line x1="528.10" y1="889.50" x2="528.10" y2="893.10" stroke="#555" stroke-width="0.7"/>
<text x="528.10" y="901.50" font-size="4.6" text-anchor="middle" fill="#333">-20</text>
<line x1="563.10" y1="889.50" x2="563.10" y2="893.10" stroke="#555" stroke-width="0.7"/>
<text x="563.10" y="901.50" font-size="4.6" text-anchor="middle" fill="#333">0</text>
<line x1="597.70" y1="889.50" x2="597.70" y2="893.10" stroke="#555" stroke-width="0.7"/>
<text x="597.70" y="901.50" font-size="4.6" text-anchor="middle" fill="#333">20</text>
<line x1="632.30" y1="889.50" x2="632.30" y2="893.10" stroke="#555" stroke-width="0.7"/>
<text x="632.30" y="901.50" font-size="4.6" text-anchor="middle" fill="#333">40</text>
<line x1="667.60" y1="889.50" x2="667.60" y2="893.10" stroke="#555" stroke-width="0.7"/>
<text x="667.60" y="901.50" font-size="4.6" text-anchor="middle" fill="#333">60</text>
<line x1="488.00" y1="721.90" x2="491.60" y2="721.90" stroke="#555" stroke-width="0.7"/>
<text x="0" y="0" font-size="4.6" text-anchor="middle" fill="#333" transform="translate(485.00,721.90) rotate(-90)">50</text>
<line x1="488.00" y1="782.50" x2="491.60" y2="782.50" stroke="#555" stroke-width="0.7"/>
<text x="0" y="0" font-size="4.6" text-anchor="middle" fill="#333" transform="translate(485.00,782.50) rotate(-90)">0</text>
<line x1="488.00" y1="843.30" x2="491.60" y2="843.30" stroke="#555" stroke-width="0.7"/>
<text x="0" y="0" font-size="4.6" text-anchor="middle" fill="#333" transform="translate(485.00,843.30) rotate(-90)">-50</text>
<text x="593.30" y="668.90" font-size="5.8" font-weight="bold" text-anchor="middle" textLength="31.1" lengthAdjust="spacingAndGlyphs" fill="#222">Scores Plot</text>
<text x="593.00" y="912.50" font-size="5.0" text-anchor="middle" textLength="42.0" lengthAdjust="spacingAndGlyphs" fill="#333">T score [1] ( 19 %)</text>
<text x="0" y="0" font-size="5.0" text-anchor="middle" fill="#333" textLength="76.0" lengthAdjust="spacingAndGlyphs" transform="translate(473.60,782.00) rotate(-90)">Orthogonal T score [1] ( 20.2 %)</text>
<path d="M658.00,677.33 L660.81,681.77 L655.19,681.77 Z" fill="none" stroke="#e2231a" stroke-width="1.01"/>
<path d="M659.40,684.42 V690.66 M656.28,687.54 H662.52" stroke="#22aa2a" stroke-width="1.87" fill="none"/>
<text x="664.24" y="682.55" font-size="4.367999999999999" font-weight="bold" textLength="25.8" lengthAdjust="spacingAndGlyphs" fill="#e2231a">Gr.B: SAHNIO</text>
<text x="665.18" y="689.10" font-size="4.367999999999999" font-weight="bold" textLength="24.0" lengthAdjust="spacingAndGlyphs" fill="#e2231a">Gr.A : SAHIO</text>
<text x="539.60" y="777.40" font-size="4.1" textLength="16.3" lengthAdjust="spacingAndGlyphs" fill="#333">Sample8</text>
<text x="540.10" y="792.00" font-size="4.1" textLength="16.3" lengthAdjust="spacingAndGlyphs" fill="#333">Sample9</text>
</svg>
</body></html>
